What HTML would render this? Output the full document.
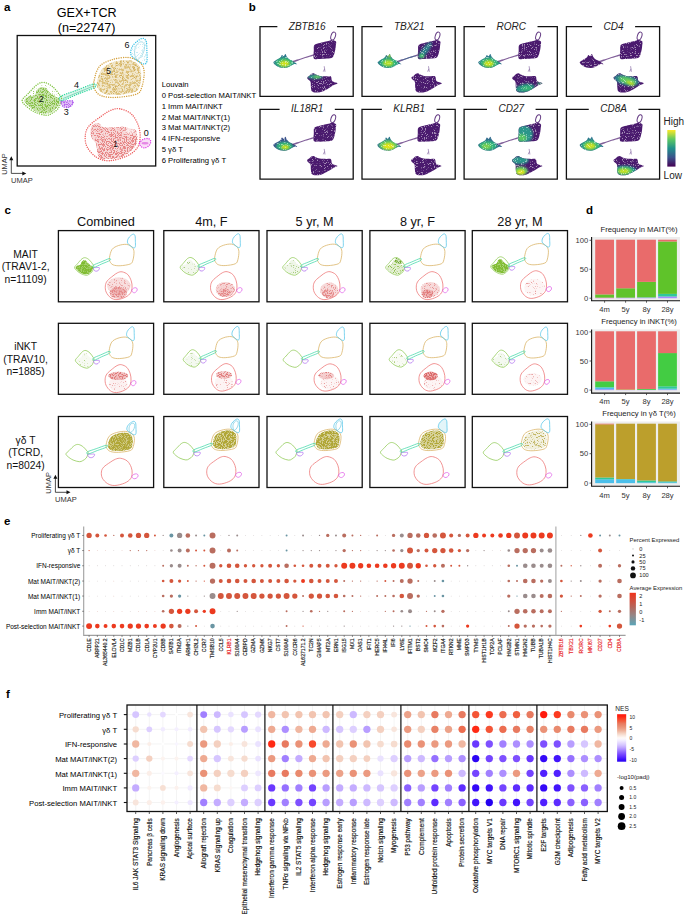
<!DOCTYPE html>
<html><head><meta charset="utf-8"><style>
html,body{margin:0;padding:0;background:#fff;width:685px;height:914px;overflow:hidden;}
svg{display:block;}
text{font-family:"Liberation Sans",sans-serif;}
</style></head><body>
<svg width="685" height="914" viewBox="0 0 685 914">
<rect width="685" height="914" fill="#fff"/>
<defs><filter id="blur1" x="-50%" y="-50%" width="200%" height="200%"><feGaussianBlur stdDeviation="1.2"/></filter><filter id="spkA" x="0" y="0" width="100%" height="100%"><feTurbulence type="fractalNoise" baseFrequency="1.1" numOctaves="2" seed="3" result="t"/><feColorMatrix in="t" type="matrix" values="0 0 0 0 0  0 0 0 0 0  0 0 0 0 0  0 0 0 -7 2.7" result="m"/><feComposite in="SourceGraphic" in2="m" operator="in"/><feGaussianBlur stdDeviation="0.35"/></filter><filter id="spkB" x="0" y="0" width="100%" height="100%"><feTurbulence type="fractalNoise" baseFrequency="1.1" numOctaves="2" seed="5" result="t"/><feColorMatrix in="t" type="matrix" values="0 0 0 0 0  0 0 0 0 0  0 0 0 0 0  0 0 0 -7 3.2" result="m"/><feComposite in="SourceGraphic" in2="m" operator="in"/><feGaussianBlur stdDeviation="0.35"/></filter><filter id="spkC" x="0" y="0" width="100%" height="100%"><feTurbulence type="fractalNoise" baseFrequency="1.1" numOctaves="2" seed="7" result="t"/><feColorMatrix in="t" type="matrix" values="0 0 0 0 0  0 0 0 0 0  0 0 0 0 0  0 0 0 -7 3.7" result="m"/><feComposite in="SourceGraphic" in2="m" operator="in"/><feGaussianBlur stdDeviation="0.35"/></filter><filter id="spkD" x="0" y="0" width="100%" height="100%"><feTurbulence type="fractalNoise" baseFrequency="1.1" numOctaves="2" seed="9" result="t"/><feColorMatrix in="t" type="matrix" values="0 0 0 0 0  0 0 0 0 0  0 0 0 0 0  0 0 0 -7 4.3" result="m"/><feComposite in="SourceGraphic" in2="m" operator="in"/><feGaussianBlur stdDeviation="0.35"/></filter><filter id="spkE" x="0" y="0" width="100%" height="100%"><feTurbulence type="fractalNoise" baseFrequency="1.1" numOctaves="2" seed="11" result="t"/><feColorMatrix in="t" type="matrix" values="0 0 0 0 0  0 0 0 0 0  0 0 0 0 0  0 0 0 -7 5.0" result="m"/><feComposite in="SourceGraphic" in2="m" operator="in"/><feGaussianBlur stdDeviation="0.35"/></filter><filter id="blot" x="0" y="0" width="100%" height="100%"><feTurbulence type="fractalNoise" baseFrequency="0.45" numOctaves="3" seed="13" result="t"/><feColorMatrix in="t" type="matrix" values="0 0 0 0 0  0 0 0 0 0  0 0 0 0 0  0 0 0 -6 3.3" result="m"/><feComposite in="SourceGraphic" in2="m" operator="in"/><feGaussianBlur stdDeviation="0.4"/></filter><filter id="wspk" x="0" y="0" width="100%" height="100%"><feTurbulence type="fractalNoise" baseFrequency="0.9" numOctaves="2" seed="21" result="t"/><feColorMatrix in="t" type="matrix" values="0 0 0 0 1  0 0 0 0 1  0 0 0 0 1  0 0 0 8 -4.6" result="m"/><feComposite in="m" in2="SourceAlpha" operator="in"/><feGaussianBlur stdDeviation="0.3"/></filter></defs>
<text x="4" y="11" font-size="11.5" font-weight="bold" fill="#000">a</text>
<text x="86.7" y="17.2" font-size="12.6" text-anchor="middle">GEX+TCR</text>
<text x="86.7" y="31.8" font-size="12.6" text-anchor="middle">(n=22747)</text>
<g>
<path d="M97,82C97.67,78.75 99.25,72.33 102,69C104.75,65.67 109.08,63.5 113.5,62C117.92,60.5 124.42,59.58 128.5,60C132.58,60.42 135.92,62.5 138,64.5C140.08,66.5 140.67,68.5 141,72C141.33,75.5 141.08,82.17 140,85.5C138.92,88.83 138.5,90.42 134.5,92C130.5,93.58 121.17,94.75 116,95C110.83,95.25 106.5,94.58 103.5,93.5C100.5,92.42 99.08,90.42 98,88.5C96.92,86.58 96.33,85.25 97,82Z" fill="#f0e4c4" opacity="0.85"/>
<path d="M97,82C97.67,78.75 99.25,72.33 102,69C104.75,65.67 109.08,63.5 113.5,62C117.92,60.5 124.42,59.58 128.5,60C132.58,60.42 135.92,62.5 138,64.5C140.08,66.5 140.67,68.5 141,72C141.33,75.5 141.08,82.17 140,85.5C138.92,88.83 138.5,90.42 134.5,92C130.5,93.58 121.17,94.75 116,95C110.83,95.25 106.5,94.58 103.5,93.5C100.5,92.42 99.08,90.42 98,88.5C96.92,86.58 96.33,85.25 97,82Z" fill="#dcc07a" filter="url(#blot)"/>
<path d="M97,82C97.67,78.75 99.25,72.33 102,69C104.75,65.67 109.08,63.5 113.5,62C117.92,60.5 124.42,59.58 128.5,60C132.58,60.42 135.92,62.5 138,64.5C140.08,66.5 140.67,68.5 141,72C141.33,75.5 141.08,82.17 140,85.5C138.92,88.83 138.5,90.42 134.5,92C130.5,93.58 121.17,94.75 116,95C110.83,95.25 106.5,94.58 103.5,93.5C100.5,92.42 99.08,90.42 98,88.5C96.92,86.58 96.33,85.25 97,82Z" fill="#cfac58" filter="url(#spkA)"/>
<path d="M28,95 C33,89 38,85.5 44.5,85 C50,86 55,91 58.5,97 L50,96 L30,97Z" fill="#9cc860" filter="url(#spkA)"/>
<path d="M24.2,100.2C24.65,98.88 27.75,97.17 29.5,96.3C31.25,95.43 33.4,96.1 34.7,95C36,93.9 36.2,91.02 37.3,89.7C38.4,88.38 39.77,87.32 41.3,87.1C42.83,86.88 45.18,87.53 46.5,88.4C47.82,89.27 47.88,90.98 49.2,92.3C50.52,93.62 52.65,95.2 54.4,96.3C56.15,97.4 59.03,97.37 59.7,98.9C60.37,100.43 59.72,103.32 58.4,105.5C57.08,107.68 54.22,110.68 51.8,112C49.38,113.32 46.75,113.62 43.9,113.4C41.05,113.18 37.55,112.23 34.7,110.7C31.85,109.17 28.55,105.95 26.8,104.2C25.05,102.45 23.75,101.52 24.2,100.2Z" fill="#b8da94" opacity="0.75"/>
<path d="M24.2,100.2C24.65,98.88 27.75,97.17 29.5,96.3C31.25,95.43 33.4,96.1 34.7,95C36,93.9 36.2,91.02 37.3,89.7C38.4,88.38 39.77,87.32 41.3,87.1C42.83,86.88 45.18,87.53 46.5,88.4C47.82,89.27 47.88,90.98 49.2,92.3C50.52,93.62 52.65,95.2 54.4,96.3C56.15,97.4 59.03,97.37 59.7,98.9C60.37,100.43 59.72,103.32 58.4,105.5C57.08,107.68 54.22,110.68 51.8,112C49.38,113.32 46.75,113.62 43.9,113.4C41.05,113.18 37.55,112.23 34.7,110.7C31.85,109.17 28.55,105.95 26.8,104.2C25.05,102.45 23.75,101.52 24.2,100.2Z" fill="#86c044" filter="url(#spkC)"/>
<path d="M92.8,125.1C94.17,123.93 96.93,123.1 98.7,123.4C100.47,123.7 100.68,126.23 103.4,126.9C106.12,127.57 111.5,127.4 115,127.4C118.5,127.4 121.87,126.7 124.4,126.9C126.93,127.1 128.27,128.02 130.2,128.6C132.13,129.18 134.83,128.75 136,130.4C137.17,132.05 137.2,136.17 137.2,138.5C137.2,140.83 137.17,142.25 136,144.4C134.83,146.55 132.72,149.27 130.2,151.4C127.68,153.53 124.4,155.93 120.9,157.2C117.4,158.47 112.7,158.8 109.2,159C105.7,159.2 101.85,159.47 99.9,158.4C97.95,157.33 98.08,154.93 97.5,152.6C96.92,150.27 97.37,146.93 96.4,144.4C95.43,141.87 92.68,139.73 91.7,137.4C90.72,135.07 90.32,132.45 90.5,130.4C90.68,128.35 91.43,126.27 92.8,125.1Z" fill="#f2c0c0" opacity="0.6"/>
<path d="M92.8,125.1C94.17,123.93 96.93,123.1 98.7,123.4C100.47,123.7 100.68,126.23 103.4,126.9C106.12,127.57 111.5,127.4 115,127.4C118.5,127.4 121.87,126.7 124.4,126.9C126.93,127.1 128.27,128.02 130.2,128.6C132.13,129.18 134.83,128.75 136,130.4C137.17,132.05 137.2,136.17 137.2,138.5C137.2,140.83 137.17,142.25 136,144.4C134.83,146.55 132.72,149.27 130.2,151.4C127.68,153.53 124.4,155.93 120.9,157.2C117.4,158.47 112.7,158.8 109.2,159C105.7,159.2 101.85,159.47 99.9,158.4C97.95,157.33 98.08,154.93 97.5,152.6C96.92,150.27 97.37,146.93 96.4,144.4C95.43,141.87 92.68,139.73 91.7,137.4C90.72,135.07 90.32,132.45 90.5,130.4C90.68,128.35 91.43,126.27 92.8,125.1Z" fill="#e88888" filter="url(#spkC)"/>
<ellipse cx="130" cy="131" rx="5" ry="3" fill="#fff" opacity="0.6" filter="url(#blur1)"/>
<path d="M96.4,138C97.5,136.68 100.73,136.83 103,136.5C105.27,136.17 106.33,136.25 110,136C113.67,135.75 120.5,135 125,135C129.5,135 135.17,134.43 137,136C138.83,137.57 137.13,141.83 136,144.4C134.87,146.97 132.72,149.27 130.2,151.4C127.68,153.53 124.4,155.93 120.9,157.2C117.4,158.47 112.7,158.8 109.2,159C105.7,159.2 101.85,159.47 99.9,158.4C97.95,157.33 98.08,154.93 97.5,152.6C96.92,150.27 96.58,146.83 96.4,144.4C96.22,141.97 95.3,139.32 96.4,138Z" fill="#e68484" filter="url(#spkC)"/>
<path d="M137,60 C133,55 134,46 139,42.5 C142.5,40.5 145,43 144.5,48 C144,53 141,58 137,60Z" fill="none" stroke="#9fd8e4" stroke-width="0.9"/>
<path d="M131,54.7C130.08,52.42 131,49.28 132.1,47C133.2,44.72 135.78,42.45 137.6,41C139.42,39.55 141.55,38.2 143,38.3C144.45,38.4 145.65,39.42 146.3,41.6C146.95,43.78 146.8,48.12 146.9,51.4C147,54.68 147.37,59.2 146.9,61.3C146.43,63.4 145.65,64.1 144.1,64C142.55,63.9 139.78,62.25 137.6,60.7C135.42,59.15 131.92,56.98 131,54.7Z" fill="#c8ecf4" filter="url(#spkB)"/>
<path d="M61,101.5C61.5,100.57 64.03,100.98 66,100.9C67.97,100.82 71.8,100.32 72.8,101C73.8,101.68 72.8,103.92 72,105C71.2,106.08 69.5,107.25 68,107.5C66.5,107.75 64.17,107.5 63,106.5C61.83,105.5 60.5,102.43 61,101.5Z" fill="#d8b0f4" opacity="0.8"/>
<path d="M61,101.5C61.5,100.57 64.03,100.98 66,100.9C67.97,100.82 71.8,100.32 72.8,101C73.8,101.68 72.8,103.92 72,105C71.2,106.08 69.5,107.25 68,107.5C66.5,107.75 64.17,107.5 63,106.5C61.83,105.5 60.5,102.43 61,101.5Z" fill="#b868ee" filter="url(#spkC)"/>
<path d="M139.6,143C139.93,141.83 141.6,140.25 143,139.5C144.4,138.75 146.72,138.25 148,138.5C149.28,138.75 150.45,139.92 150.7,141C150.95,142.08 150.45,143.85 149.5,145C148.55,146.15 146.42,147.65 145,147.9C143.58,148.15 141.9,147.32 141,146.5C140.1,145.68 139.27,144.17 139.6,143Z" fill="#f4c0f0" opacity="0.5"/>
<ellipse cx="145" cy="143.2" rx="3.5" ry="1.2" fill="#e070e0" opacity="0.8"/>
<path d="M60.5,96.5C62.83,94.83 70.5,92.58 76,90.5C81.5,88.42 90.42,84.5 93.5,84C96.58,83.5 97.08,85.83 94.5,87.5C91.92,89.17 83.42,91.83 78,94C72.58,96.17 64.92,100.08 62,100.5C59.08,100.92 58.17,98.17 60.5,96.5Z" fill="#bfeedd" opacity="0.6"/>
<path d="M63,98.5 L93.5,86" stroke="#50c8a0" stroke-width="0.8" opacity="0.8"/>
</g>
<path d="M22.2,100.2C22.63,98.23 25.58,96.32 28.1,93.7C30.62,91.08 34.55,86.37 37.3,84.5C40.05,82.63 41.97,82.07 44.6,82.5C47.23,82.93 50.58,85.02 53.1,87.1C55.62,89.18 58.28,93.13 59.7,95C61.12,96.87 61.82,96.12 61.6,98.3C61.38,100.48 60.03,105.58 58.4,108.1C56.77,110.62 53.88,112.2 51.8,113.4C49.72,114.6 48.75,115.53 45.9,115.3C43.05,115.07 38.1,113.63 34.7,112C31.3,110.37 27.58,107.47 25.5,105.5C23.42,103.53 21.77,102.17 22.2,100.2Z" fill="none" stroke="#80c444" stroke-width="1.4" stroke-dasharray="0.05 2.2" stroke-linecap="round"/>
<path d="M93.8,82.1C94.52,78.27 96.1,70.55 99.2,66.8C102.3,63.05 107.47,61.15 112.4,59.6C117.33,58.05 124.23,57.03 128.8,57.5C133.37,57.97 137.25,60.13 139.8,62.4C142.35,64.67 143.73,67.08 144.1,71.1C144.47,75.12 143.27,82.67 142,86.5C140.73,90.33 140.88,92.28 136.5,94.1C132.12,95.92 121.55,97.12 115.7,97.4C109.85,97.68 104.87,97.07 101.4,95.8C97.93,94.53 96.17,92.08 94.9,89.8C93.63,87.52 93.08,85.93 93.8,82.1Z" fill="none" stroke="#d4a03c" stroke-width="1.4" stroke-dasharray="0.05 2.2" stroke-linecap="round"/>
<path d="M131,54.7C130.08,52.42 131,49.28 132.1,47C133.2,44.72 135.78,42.45 137.6,41C139.42,39.55 141.55,38.2 143,38.3C144.45,38.4 145.65,39.42 146.3,41.6C146.95,43.78 146.8,48.12 146.9,51.4C147,54.68 147.37,59.2 146.9,61.3C146.43,63.4 145.65,64.1 144.1,64C142.55,63.9 139.78,62.25 137.6,60.7C135.42,59.15 131.92,56.98 131,54.7Z" fill="none" stroke="#40c4e8" stroke-width="1.4" stroke-dasharray="0.05 2.2" stroke-linecap="round"/>
<path d="M119.7,108.8C123.2,109.38 128.28,111.18 131.4,114C134.52,116.82 136.95,121.8 138.4,125.7C139.85,129.6 140.3,133.7 140.1,137.4C139.9,141.1 139.43,144.78 137.2,147.9C134.97,151.02 131.37,153.97 126.7,156.1C122.03,158.23 114.25,160.52 109.2,160.7C104.15,160.88 100.1,159.53 96.4,157.2C92.7,154.87 88.85,150.4 87,146.7C85.15,143 84.92,138.5 85.3,135C85.68,131.5 86.68,128.8 89.3,125.7C91.92,122.6 97.48,118.93 101,116.4C104.52,113.87 107.28,111.77 110.4,110.5C113.52,109.23 116.2,108.22 119.7,108.8Z" fill="none" stroke="#ee5c5c" stroke-width="1.4" stroke-dasharray="0.05 2.2" stroke-linecap="round"/>
<path d="M139.6,143C139.93,141.83 141.6,140.25 143,139.5C144.4,138.75 146.72,138.25 148,138.5C149.28,138.75 150.45,139.92 150.7,141C150.95,142.08 150.45,143.85 149.5,145C148.55,146.15 146.42,147.65 145,147.9C143.58,148.15 141.9,147.32 141,146.5C140.1,145.68 139.27,144.17 139.6,143Z" fill="none" stroke="#e040e8" stroke-width="1.4" stroke-dasharray="0.05 2.2" stroke-linecap="round"/>
<path d="M61,101.5C61.5,100.57 64.03,100.98 66,100.9C67.97,100.82 71.8,100.32 72.8,101C73.8,101.68 72.8,103.92 72,105C71.2,106.08 69.5,107.25 68,107.5C66.5,107.75 64.17,107.5 63,106.5C61.83,105.5 60.5,102.43 61,101.5Z" fill="none" stroke="#b061f0" stroke-width="1.4" stroke-dasharray="0.05 2.2" stroke-linecap="round"/>
<path d="M60.5,96.5C62.83,94.83 70.5,92.58 76,90.5C81.5,88.42 90.42,84.5 93.5,84C96.58,83.5 97.08,85.83 94.5,87.5C91.92,89.17 83.42,91.83 78,94C72.58,96.17 64.92,100.08 62,100.5C59.08,100.92 58.17,98.17 60.5,96.5Z" fill="none" stroke="#30d8a0" stroke-width="1.4" stroke-dasharray="0.05 2.2" stroke-linecap="round"/>
<rect x="17.2" y="35.5" width="138.5" height="130.5" fill="none" stroke="#111" stroke-width="1.3"/>
<text x="41.3" y="101.5" font-size="9" text-anchor="middle" fill="#111">2</text>
<text x="76.5" y="87.7" font-size="9" text-anchor="middle" fill="#111">4</text>
<text x="66.2" y="115.3" font-size="9" text-anchor="middle" fill="#111">3</text>
<text x="108.5" y="74.4" font-size="9" text-anchor="middle" fill="#111">5</text>
<text x="127" y="48.1" font-size="9" text-anchor="middle" fill="#111">6</text>
<text x="115.6" y="146.7" font-size="9" text-anchor="middle" fill="#111">1</text>
<text x="146.3" y="135.6" font-size="9" text-anchor="middle" fill="#111">0</text>
<text x="161.7" y="86.9" font-size="7.7">Louvain</text>
<text x="161.7" y="97.9" font-size="7.7">0 Post-selection MAIT/iNKT</text>
<text x="161.7" y="108.73" font-size="7.7">1 Imm MAIT/iNKT</text>
<text x="161.7" y="119.56" font-size="7.7">2 Mat MAIT/iNKT(1)</text>
<text x="161.7" y="130.39" font-size="7.7">3 Mat MAIT/iNKT(2)</text>
<text x="161.7" y="141.22" font-size="7.7">4 IFN-responsive</text>
<text x="161.7" y="152.05" font-size="7.7">5 γδ T</text>
<text x="161.7" y="162.88" font-size="7.7">6 Proliferating γδ T</text>
<path d="M11.3,173.4V159.2 M11.3,173.4H23.3" stroke="#222" stroke-width="0.8" fill="none"/>
<path d="M11.3,156.2 l-2,4 h4z M26.3,173.4 l-4,-2 v4z" fill="#111"/>
<text x="11" y="183.4" font-size="7.5" fill="#333">UMAP</text>
<text font-size="7.5" fill="#333" transform="translate(6.7,174.8) rotate(-90)">UMAP</text>
<text x="248.8" y="10.5" font-size="11.5" font-weight="bold" fill="#000">b</text>
<defs>
<clipPath id="c0LB"><path d="M13.3,36C13.17,35.1 14.63,34.43 15.5,33.8C16.37,33.17 17.65,32.73 18.5,32.2C19.35,31.67 20.02,31.25 20.6,30.6C21.18,29.95 21.47,28.47 22,28.3C22.53,28.13 23.23,29.75 23.8,29.6C24.37,29.45 24.9,27.3 25.4,27.4C25.9,27.5 26.2,29.33 26.8,30.2C27.4,31.07 28.17,31.98 29,32.6C29.83,33.22 30.93,33.45 31.8,33.9C32.67,34.35 33.3,34.68 34.2,35.3C35.1,35.92 37.2,37.25 37.2,37.6C37.2,37.95 35.2,37.17 34.2,37.4C33.2,37.63 32.23,38.45 31.2,39C30.17,39.55 29.12,40.3 28,40.7C26.88,41.1 25.83,41.35 24.5,41.4C23.17,41.45 21.37,41.37 20,41C18.63,40.63 17.42,40.03 16.3,39.2C15.18,38.37 13.43,36.9 13.3,36Z" transform="translate(260,26.6)"/></clipPath>
<clipPath id="c0UB"><path d="M53.8,31.8C53.1,30.42 53.7,26.23 53.8,24C53.9,21.77 53.37,19.65 54.4,18.4C55.43,17.15 58.07,17.07 60,16.5C61.93,15.93 64.32,15.42 66,15C67.68,14.58 69.02,14.25 70.1,14C71.18,13.75 71.52,13.33 72.5,13.5C73.48,13.67 75.45,14.08 76,15C76.55,15.92 75.9,17.75 75.8,19C75.7,20.25 75.62,21.25 75.4,22.5C75.18,23.75 74.78,25.43 74.5,26.5C74.22,27.57 74.2,28.07 73.7,28.9C73.2,29.73 72.95,30.95 71.5,31.5C70.05,32.05 67.25,32.07 65,32.2C62.75,32.33 59.87,32.37 58,32.3C56.13,32.23 54.5,33.18 53.8,31.8Z" transform="translate(260,26.6)"/></clipPath>
<clipPath id="c0LWB"><path d="M47.2,50.6C47.42,50.05 48.53,49.85 49.2,49.3C49.87,48.75 50.43,47.75 51.2,47.3C51.97,46.85 53.03,46.48 53.8,46.6C54.57,46.72 54.82,47.55 55.8,48C56.78,48.45 57.95,49.03 59.7,49.3C61.45,49.57 64.43,49.5 66.3,49.6C68.17,49.7 69.92,49.08 70.9,49.9C71.88,50.72 71.1,53.35 72.2,54.5C73.3,55.65 77.17,56.18 77.5,56.8C77.83,57.42 75.73,57.37 74.2,58.2C72.67,59.03 70.38,60.65 68.3,61.8C66.22,62.95 63.78,64.4 61.7,65.1C59.62,65.8 57.45,66.07 55.8,66C54.15,65.93 52.62,65.62 51.8,64.7C50.98,63.78 51.12,62.08 50.9,60.5C50.68,58.92 51,56.52 50.5,55.2C50,53.88 48.45,53.37 47.9,52.6C47.35,51.83 46.98,51.15 47.2,50.6Z" transform="translate(260,26.6)"/></clipPath>
<clipPath id="c0BAND"><path d="M32.5,34.5C34.08,33.73 39.42,32.25 43,31.1C46.58,29.95 52.12,27.97 54,27.6C55.88,27.23 55.97,28.18 54.3,28.9C52.63,29.62 47.47,30.77 44,31.9C40.53,33.03 35.42,35.27 33.5,35.7C31.58,36.13 30.92,35.27 32.5,34.5Z" transform="translate(260,26.6)"/></clipPath>
<clipPath id="c1LB"><path d="M13.3,36C13.17,35.1 14.63,34.43 15.5,33.8C16.37,33.17 17.65,32.73 18.5,32.2C19.35,31.67 20.02,31.25 20.6,30.6C21.18,29.95 21.47,28.47 22,28.3C22.53,28.13 23.23,29.75 23.8,29.6C24.37,29.45 24.9,27.3 25.4,27.4C25.9,27.5 26.2,29.33 26.8,30.2C27.4,31.07 28.17,31.98 29,32.6C29.83,33.22 30.93,33.45 31.8,33.9C32.67,34.35 33.3,34.68 34.2,35.3C35.1,35.92 37.2,37.25 37.2,37.6C37.2,37.95 35.2,37.17 34.2,37.4C33.2,37.63 32.23,38.45 31.2,39C30.17,39.55 29.12,40.3 28,40.7C26.88,41.1 25.83,41.35 24.5,41.4C23.17,41.45 21.37,41.37 20,41C18.63,40.63 17.42,40.03 16.3,39.2C15.18,38.37 13.43,36.9 13.3,36Z" transform="translate(364.3,26.6)"/></clipPath>
<clipPath id="c1UB"><path d="M53.8,31.8C53.1,30.42 53.7,26.23 53.8,24C53.9,21.77 53.37,19.65 54.4,18.4C55.43,17.15 58.07,17.07 60,16.5C61.93,15.93 64.32,15.42 66,15C67.68,14.58 69.02,14.25 70.1,14C71.18,13.75 71.52,13.33 72.5,13.5C73.48,13.67 75.45,14.08 76,15C76.55,15.92 75.9,17.75 75.8,19C75.7,20.25 75.62,21.25 75.4,22.5C75.18,23.75 74.78,25.43 74.5,26.5C74.22,27.57 74.2,28.07 73.7,28.9C73.2,29.73 72.95,30.95 71.5,31.5C70.05,32.05 67.25,32.07 65,32.2C62.75,32.33 59.87,32.37 58,32.3C56.13,32.23 54.5,33.18 53.8,31.8Z" transform="translate(364.3,26.6)"/></clipPath>
<clipPath id="c1LWB"><path d="M47.2,50.6C47.42,50.05 48.53,49.85 49.2,49.3C49.87,48.75 50.43,47.75 51.2,47.3C51.97,46.85 53.03,46.48 53.8,46.6C54.57,46.72 54.82,47.55 55.8,48C56.78,48.45 57.95,49.03 59.7,49.3C61.45,49.57 64.43,49.5 66.3,49.6C68.17,49.7 69.92,49.08 70.9,49.9C71.88,50.72 71.1,53.35 72.2,54.5C73.3,55.65 77.17,56.18 77.5,56.8C77.83,57.42 75.73,57.37 74.2,58.2C72.67,59.03 70.38,60.65 68.3,61.8C66.22,62.95 63.78,64.4 61.7,65.1C59.62,65.8 57.45,66.07 55.8,66C54.15,65.93 52.62,65.62 51.8,64.7C50.98,63.78 51.12,62.08 50.9,60.5C50.68,58.92 51,56.52 50.5,55.2C50,53.88 48.45,53.37 47.9,52.6C47.35,51.83 46.98,51.15 47.2,50.6Z" transform="translate(364.3,26.6)"/></clipPath>
<clipPath id="c1BAND"><path d="M32.5,34.5C34.08,33.73 39.42,32.25 43,31.1C46.58,29.95 52.12,27.97 54,27.6C55.88,27.23 55.97,28.18 54.3,28.9C52.63,29.62 47.47,30.77 44,31.9C40.53,33.03 35.42,35.27 33.5,35.7C31.58,36.13 30.92,35.27 32.5,34.5Z" transform="translate(364.3,26.6)"/></clipPath>
<clipPath id="c2LB"><path d="M13.3,36C13.17,35.1 14.63,34.43 15.5,33.8C16.37,33.17 17.65,32.73 18.5,32.2C19.35,31.67 20.02,31.25 20.6,30.6C21.18,29.95 21.47,28.47 22,28.3C22.53,28.13 23.23,29.75 23.8,29.6C24.37,29.45 24.9,27.3 25.4,27.4C25.9,27.5 26.2,29.33 26.8,30.2C27.4,31.07 28.17,31.98 29,32.6C29.83,33.22 30.93,33.45 31.8,33.9C32.67,34.35 33.3,34.68 34.2,35.3C35.1,35.92 37.2,37.25 37.2,37.6C37.2,37.95 35.2,37.17 34.2,37.4C33.2,37.63 32.23,38.45 31.2,39C30.17,39.55 29.12,40.3 28,40.7C26.88,41.1 25.83,41.35 24.5,41.4C23.17,41.45 21.37,41.37 20,41C18.63,40.63 17.42,40.03 16.3,39.2C15.18,38.37 13.43,36.9 13.3,36Z" transform="translate(464.9,26.6)"/></clipPath>
<clipPath id="c2UB"><path d="M53.8,31.8C53.1,30.42 53.7,26.23 53.8,24C53.9,21.77 53.37,19.65 54.4,18.4C55.43,17.15 58.07,17.07 60,16.5C61.93,15.93 64.32,15.42 66,15C67.68,14.58 69.02,14.25 70.1,14C71.18,13.75 71.52,13.33 72.5,13.5C73.48,13.67 75.45,14.08 76,15C76.55,15.92 75.9,17.75 75.8,19C75.7,20.25 75.62,21.25 75.4,22.5C75.18,23.75 74.78,25.43 74.5,26.5C74.22,27.57 74.2,28.07 73.7,28.9C73.2,29.73 72.95,30.95 71.5,31.5C70.05,32.05 67.25,32.07 65,32.2C62.75,32.33 59.87,32.37 58,32.3C56.13,32.23 54.5,33.18 53.8,31.8Z" transform="translate(464.9,26.6)"/></clipPath>
<clipPath id="c2LWB"><path d="M47.2,50.6C47.42,50.05 48.53,49.85 49.2,49.3C49.87,48.75 50.43,47.75 51.2,47.3C51.97,46.85 53.03,46.48 53.8,46.6C54.57,46.72 54.82,47.55 55.8,48C56.78,48.45 57.95,49.03 59.7,49.3C61.45,49.57 64.43,49.5 66.3,49.6C68.17,49.7 69.92,49.08 70.9,49.9C71.88,50.72 71.1,53.35 72.2,54.5C73.3,55.65 77.17,56.18 77.5,56.8C77.83,57.42 75.73,57.37 74.2,58.2C72.67,59.03 70.38,60.65 68.3,61.8C66.22,62.95 63.78,64.4 61.7,65.1C59.62,65.8 57.45,66.07 55.8,66C54.15,65.93 52.62,65.62 51.8,64.7C50.98,63.78 51.12,62.08 50.9,60.5C50.68,58.92 51,56.52 50.5,55.2C50,53.88 48.45,53.37 47.9,52.6C47.35,51.83 46.98,51.15 47.2,50.6Z" transform="translate(464.9,26.6)"/></clipPath>
<clipPath id="c2BAND"><path d="M32.5,34.5C34.08,33.73 39.42,32.25 43,31.1C46.58,29.95 52.12,27.97 54,27.6C55.88,27.23 55.97,28.18 54.3,28.9C52.63,29.62 47.47,30.77 44,31.9C40.53,33.03 35.42,35.27 33.5,35.7C31.58,36.13 30.92,35.27 32.5,34.5Z" transform="translate(464.9,26.6)"/></clipPath>
<clipPath id="c3LB"><path d="M13.3,36C13.17,35.1 14.63,34.43 15.5,33.8C16.37,33.17 17.65,32.73 18.5,32.2C19.35,31.67 20.02,31.25 20.6,30.6C21.18,29.95 21.47,28.47 22,28.3C22.53,28.13 23.23,29.75 23.8,29.6C24.37,29.45 24.9,27.3 25.4,27.4C25.9,27.5 26.2,29.33 26.8,30.2C27.4,31.07 28.17,31.98 29,32.6C29.83,33.22 30.93,33.45 31.8,33.9C32.67,34.35 33.3,34.68 34.2,35.3C35.1,35.92 37.2,37.25 37.2,37.6C37.2,37.95 35.2,37.17 34.2,37.4C33.2,37.63 32.23,38.45 31.2,39C30.17,39.55 29.12,40.3 28,40.7C26.88,41.1 25.83,41.35 24.5,41.4C23.17,41.45 21.37,41.37 20,41C18.63,40.63 17.42,40.03 16.3,39.2C15.18,38.37 13.43,36.9 13.3,36Z" transform="translate(566.4,26.6)"/></clipPath>
<clipPath id="c3UB"><path d="M53.8,31.8C53.1,30.42 53.7,26.23 53.8,24C53.9,21.77 53.37,19.65 54.4,18.4C55.43,17.15 58.07,17.07 60,16.5C61.93,15.93 64.32,15.42 66,15C67.68,14.58 69.02,14.25 70.1,14C71.18,13.75 71.52,13.33 72.5,13.5C73.48,13.67 75.45,14.08 76,15C76.55,15.92 75.9,17.75 75.8,19C75.7,20.25 75.62,21.25 75.4,22.5C75.18,23.75 74.78,25.43 74.5,26.5C74.22,27.57 74.2,28.07 73.7,28.9C73.2,29.73 72.95,30.95 71.5,31.5C70.05,32.05 67.25,32.07 65,32.2C62.75,32.33 59.87,32.37 58,32.3C56.13,32.23 54.5,33.18 53.8,31.8Z" transform="translate(566.4,26.6)"/></clipPath>
<clipPath id="c3LWB"><path d="M47.2,50.6C47.42,50.05 48.53,49.85 49.2,49.3C49.87,48.75 50.43,47.75 51.2,47.3C51.97,46.85 53.03,46.48 53.8,46.6C54.57,46.72 54.82,47.55 55.8,48C56.78,48.45 57.95,49.03 59.7,49.3C61.45,49.57 64.43,49.5 66.3,49.6C68.17,49.7 69.92,49.08 70.9,49.9C71.88,50.72 71.1,53.35 72.2,54.5C73.3,55.65 77.17,56.18 77.5,56.8C77.83,57.42 75.73,57.37 74.2,58.2C72.67,59.03 70.38,60.65 68.3,61.8C66.22,62.95 63.78,64.4 61.7,65.1C59.62,65.8 57.45,66.07 55.8,66C54.15,65.93 52.62,65.62 51.8,64.7C50.98,63.78 51.12,62.08 50.9,60.5C50.68,58.92 51,56.52 50.5,55.2C50,53.88 48.45,53.37 47.9,52.6C47.35,51.83 46.98,51.15 47.2,50.6Z" transform="translate(566.4,26.6)"/></clipPath>
<clipPath id="c3BAND"><path d="M32.5,34.5C34.08,33.73 39.42,32.25 43,31.1C46.58,29.95 52.12,27.97 54,27.6C55.88,27.23 55.97,28.18 54.3,28.9C52.63,29.62 47.47,30.77 44,31.9C40.53,33.03 35.42,35.27 33.5,35.7C31.58,36.13 30.92,35.27 32.5,34.5Z" transform="translate(566.4,26.6)"/></clipPath>
<clipPath id="c4LB"><path d="M13.3,36C13.17,35.1 14.63,34.43 15.5,33.8C16.37,33.17 17.65,32.73 18.5,32.2C19.35,31.67 20.02,31.25 20.6,30.6C21.18,29.95 21.47,28.47 22,28.3C22.53,28.13 23.23,29.75 23.8,29.6C24.37,29.45 24.9,27.3 25.4,27.4C25.9,27.5 26.2,29.33 26.8,30.2C27.4,31.07 28.17,31.98 29,32.6C29.83,33.22 30.93,33.45 31.8,33.9C32.67,34.35 33.3,34.68 34.2,35.3C35.1,35.92 37.2,37.25 37.2,37.6C37.2,37.95 35.2,37.17 34.2,37.4C33.2,37.63 32.23,38.45 31.2,39C30.17,39.55 29.12,40.3 28,40.7C26.88,41.1 25.83,41.35 24.5,41.4C23.17,41.45 21.37,41.37 20,41C18.63,40.63 17.42,40.03 16.3,39.2C15.18,38.37 13.43,36.9 13.3,36Z" transform="translate(260,109.3)"/></clipPath>
<clipPath id="c4UB"><path d="M53.8,31.8C53.1,30.42 53.7,26.23 53.8,24C53.9,21.77 53.37,19.65 54.4,18.4C55.43,17.15 58.07,17.07 60,16.5C61.93,15.93 64.32,15.42 66,15C67.68,14.58 69.02,14.25 70.1,14C71.18,13.75 71.52,13.33 72.5,13.5C73.48,13.67 75.45,14.08 76,15C76.55,15.92 75.9,17.75 75.8,19C75.7,20.25 75.62,21.25 75.4,22.5C75.18,23.75 74.78,25.43 74.5,26.5C74.22,27.57 74.2,28.07 73.7,28.9C73.2,29.73 72.95,30.95 71.5,31.5C70.05,32.05 67.25,32.07 65,32.2C62.75,32.33 59.87,32.37 58,32.3C56.13,32.23 54.5,33.18 53.8,31.8Z" transform="translate(260,109.3)"/></clipPath>
<clipPath id="c4LWB"><path d="M47.2,50.6C47.42,50.05 48.53,49.85 49.2,49.3C49.87,48.75 50.43,47.75 51.2,47.3C51.97,46.85 53.03,46.48 53.8,46.6C54.57,46.72 54.82,47.55 55.8,48C56.78,48.45 57.95,49.03 59.7,49.3C61.45,49.57 64.43,49.5 66.3,49.6C68.17,49.7 69.92,49.08 70.9,49.9C71.88,50.72 71.1,53.35 72.2,54.5C73.3,55.65 77.17,56.18 77.5,56.8C77.83,57.42 75.73,57.37 74.2,58.2C72.67,59.03 70.38,60.65 68.3,61.8C66.22,62.95 63.78,64.4 61.7,65.1C59.62,65.8 57.45,66.07 55.8,66C54.15,65.93 52.62,65.62 51.8,64.7C50.98,63.78 51.12,62.08 50.9,60.5C50.68,58.92 51,56.52 50.5,55.2C50,53.88 48.45,53.37 47.9,52.6C47.35,51.83 46.98,51.15 47.2,50.6Z" transform="translate(260,109.3)"/></clipPath>
<clipPath id="c4BAND"><path d="M32.5,34.5C34.08,33.73 39.42,32.25 43,31.1C46.58,29.95 52.12,27.97 54,27.6C55.88,27.23 55.97,28.18 54.3,28.9C52.63,29.62 47.47,30.77 44,31.9C40.53,33.03 35.42,35.27 33.5,35.7C31.58,36.13 30.92,35.27 32.5,34.5Z" transform="translate(260,109.3)"/></clipPath>
<clipPath id="c5LB"><path d="M13.3,36C13.17,35.1 14.63,34.43 15.5,33.8C16.37,33.17 17.65,32.73 18.5,32.2C19.35,31.67 20.02,31.25 20.6,30.6C21.18,29.95 21.47,28.47 22,28.3C22.53,28.13 23.23,29.75 23.8,29.6C24.37,29.45 24.9,27.3 25.4,27.4C25.9,27.5 26.2,29.33 26.8,30.2C27.4,31.07 28.17,31.98 29,32.6C29.83,33.22 30.93,33.45 31.8,33.9C32.67,34.35 33.3,34.68 34.2,35.3C35.1,35.92 37.2,37.25 37.2,37.6C37.2,37.95 35.2,37.17 34.2,37.4C33.2,37.63 32.23,38.45 31.2,39C30.17,39.55 29.12,40.3 28,40.7C26.88,41.1 25.83,41.35 24.5,41.4C23.17,41.45 21.37,41.37 20,41C18.63,40.63 17.42,40.03 16.3,39.2C15.18,38.37 13.43,36.9 13.3,36Z" transform="translate(364,109.3)"/></clipPath>
<clipPath id="c5UB"><path d="M53.8,31.8C53.1,30.42 53.7,26.23 53.8,24C53.9,21.77 53.37,19.65 54.4,18.4C55.43,17.15 58.07,17.07 60,16.5C61.93,15.93 64.32,15.42 66,15C67.68,14.58 69.02,14.25 70.1,14C71.18,13.75 71.52,13.33 72.5,13.5C73.48,13.67 75.45,14.08 76,15C76.55,15.92 75.9,17.75 75.8,19C75.7,20.25 75.62,21.25 75.4,22.5C75.18,23.75 74.78,25.43 74.5,26.5C74.22,27.57 74.2,28.07 73.7,28.9C73.2,29.73 72.95,30.95 71.5,31.5C70.05,32.05 67.25,32.07 65,32.2C62.75,32.33 59.87,32.37 58,32.3C56.13,32.23 54.5,33.18 53.8,31.8Z" transform="translate(364,109.3)"/></clipPath>
<clipPath id="c5LWB"><path d="M47.2,50.6C47.42,50.05 48.53,49.85 49.2,49.3C49.87,48.75 50.43,47.75 51.2,47.3C51.97,46.85 53.03,46.48 53.8,46.6C54.57,46.72 54.82,47.55 55.8,48C56.78,48.45 57.95,49.03 59.7,49.3C61.45,49.57 64.43,49.5 66.3,49.6C68.17,49.7 69.92,49.08 70.9,49.9C71.88,50.72 71.1,53.35 72.2,54.5C73.3,55.65 77.17,56.18 77.5,56.8C77.83,57.42 75.73,57.37 74.2,58.2C72.67,59.03 70.38,60.65 68.3,61.8C66.22,62.95 63.78,64.4 61.7,65.1C59.62,65.8 57.45,66.07 55.8,66C54.15,65.93 52.62,65.62 51.8,64.7C50.98,63.78 51.12,62.08 50.9,60.5C50.68,58.92 51,56.52 50.5,55.2C50,53.88 48.45,53.37 47.9,52.6C47.35,51.83 46.98,51.15 47.2,50.6Z" transform="translate(364,109.3)"/></clipPath>
<clipPath id="c5BAND"><path d="M32.5,34.5C34.08,33.73 39.42,32.25 43,31.1C46.58,29.95 52.12,27.97 54,27.6C55.88,27.23 55.97,28.18 54.3,28.9C52.63,29.62 47.47,30.77 44,31.9C40.53,33.03 35.42,35.27 33.5,35.7C31.58,36.13 30.92,35.27 32.5,34.5Z" transform="translate(364,109.3)"/></clipPath>
<clipPath id="c6LB"><path d="M13.3,36C13.17,35.1 14.63,34.43 15.5,33.8C16.37,33.17 17.65,32.73 18.5,32.2C19.35,31.67 20.02,31.25 20.6,30.6C21.18,29.95 21.47,28.47 22,28.3C22.53,28.13 23.23,29.75 23.8,29.6C24.37,29.45 24.9,27.3 25.4,27.4C25.9,27.5 26.2,29.33 26.8,30.2C27.4,31.07 28.17,31.98 29,32.6C29.83,33.22 30.93,33.45 31.8,33.9C32.67,34.35 33.3,34.68 34.2,35.3C35.1,35.92 37.2,37.25 37.2,37.6C37.2,37.95 35.2,37.17 34.2,37.4C33.2,37.63 32.23,38.45 31.2,39C30.17,39.55 29.12,40.3 28,40.7C26.88,41.1 25.83,41.35 24.5,41.4C23.17,41.45 21.37,41.37 20,41C18.63,40.63 17.42,40.03 16.3,39.2C15.18,38.37 13.43,36.9 13.3,36Z" transform="translate(464.9,109.3)"/></clipPath>
<clipPath id="c6UB"><path d="M53.8,31.8C53.1,30.42 53.7,26.23 53.8,24C53.9,21.77 53.37,19.65 54.4,18.4C55.43,17.15 58.07,17.07 60,16.5C61.93,15.93 64.32,15.42 66,15C67.68,14.58 69.02,14.25 70.1,14C71.18,13.75 71.52,13.33 72.5,13.5C73.48,13.67 75.45,14.08 76,15C76.55,15.92 75.9,17.75 75.8,19C75.7,20.25 75.62,21.25 75.4,22.5C75.18,23.75 74.78,25.43 74.5,26.5C74.22,27.57 74.2,28.07 73.7,28.9C73.2,29.73 72.95,30.95 71.5,31.5C70.05,32.05 67.25,32.07 65,32.2C62.75,32.33 59.87,32.37 58,32.3C56.13,32.23 54.5,33.18 53.8,31.8Z" transform="translate(464.9,109.3)"/></clipPath>
<clipPath id="c6LWB"><path d="M47.2,50.6C47.42,50.05 48.53,49.85 49.2,49.3C49.87,48.75 50.43,47.75 51.2,47.3C51.97,46.85 53.03,46.48 53.8,46.6C54.57,46.72 54.82,47.55 55.8,48C56.78,48.45 57.95,49.03 59.7,49.3C61.45,49.57 64.43,49.5 66.3,49.6C68.17,49.7 69.92,49.08 70.9,49.9C71.88,50.72 71.1,53.35 72.2,54.5C73.3,55.65 77.17,56.18 77.5,56.8C77.83,57.42 75.73,57.37 74.2,58.2C72.67,59.03 70.38,60.65 68.3,61.8C66.22,62.95 63.78,64.4 61.7,65.1C59.62,65.8 57.45,66.07 55.8,66C54.15,65.93 52.62,65.62 51.8,64.7C50.98,63.78 51.12,62.08 50.9,60.5C50.68,58.92 51,56.52 50.5,55.2C50,53.88 48.45,53.37 47.9,52.6C47.35,51.83 46.98,51.15 47.2,50.6Z" transform="translate(464.9,109.3)"/></clipPath>
<clipPath id="c6BAND"><path d="M32.5,34.5C34.08,33.73 39.42,32.25 43,31.1C46.58,29.95 52.12,27.97 54,27.6C55.88,27.23 55.97,28.18 54.3,28.9C52.63,29.62 47.47,30.77 44,31.9C40.53,33.03 35.42,35.27 33.5,35.7C31.58,36.13 30.92,35.27 32.5,34.5Z" transform="translate(464.9,109.3)"/></clipPath>
<clipPath id="c7LB"><path d="M13.3,36C13.17,35.1 14.63,34.43 15.5,33.8C16.37,33.17 17.65,32.73 18.5,32.2C19.35,31.67 20.02,31.25 20.6,30.6C21.18,29.95 21.47,28.47 22,28.3C22.53,28.13 23.23,29.75 23.8,29.6C24.37,29.45 24.9,27.3 25.4,27.4C25.9,27.5 26.2,29.33 26.8,30.2C27.4,31.07 28.17,31.98 29,32.6C29.83,33.22 30.93,33.45 31.8,33.9C32.67,34.35 33.3,34.68 34.2,35.3C35.1,35.92 37.2,37.25 37.2,37.6C37.2,37.95 35.2,37.17 34.2,37.4C33.2,37.63 32.23,38.45 31.2,39C30.17,39.55 29.12,40.3 28,40.7C26.88,41.1 25.83,41.35 24.5,41.4C23.17,41.45 21.37,41.37 20,41C18.63,40.63 17.42,40.03 16.3,39.2C15.18,38.37 13.43,36.9 13.3,36Z" transform="translate(566.4,109.3)"/></clipPath>
<clipPath id="c7UB"><path d="M53.8,31.8C53.1,30.42 53.7,26.23 53.8,24C53.9,21.77 53.37,19.65 54.4,18.4C55.43,17.15 58.07,17.07 60,16.5C61.93,15.93 64.32,15.42 66,15C67.68,14.58 69.02,14.25 70.1,14C71.18,13.75 71.52,13.33 72.5,13.5C73.48,13.67 75.45,14.08 76,15C76.55,15.92 75.9,17.75 75.8,19C75.7,20.25 75.62,21.25 75.4,22.5C75.18,23.75 74.78,25.43 74.5,26.5C74.22,27.57 74.2,28.07 73.7,28.9C73.2,29.73 72.95,30.95 71.5,31.5C70.05,32.05 67.25,32.07 65,32.2C62.75,32.33 59.87,32.37 58,32.3C56.13,32.23 54.5,33.18 53.8,31.8Z" transform="translate(566.4,109.3)"/></clipPath>
<clipPath id="c7LWB"><path d="M47.2,50.6C47.42,50.05 48.53,49.85 49.2,49.3C49.87,48.75 50.43,47.75 51.2,47.3C51.97,46.85 53.03,46.48 53.8,46.6C54.57,46.72 54.82,47.55 55.8,48C56.78,48.45 57.95,49.03 59.7,49.3C61.45,49.57 64.43,49.5 66.3,49.6C68.17,49.7 69.92,49.08 70.9,49.9C71.88,50.72 71.1,53.35 72.2,54.5C73.3,55.65 77.17,56.18 77.5,56.8C77.83,57.42 75.73,57.37 74.2,58.2C72.67,59.03 70.38,60.65 68.3,61.8C66.22,62.95 63.78,64.4 61.7,65.1C59.62,65.8 57.45,66.07 55.8,66C54.15,65.93 52.62,65.62 51.8,64.7C50.98,63.78 51.12,62.08 50.9,60.5C50.68,58.92 51,56.52 50.5,55.2C50,53.88 48.45,53.37 47.9,52.6C47.35,51.83 46.98,51.15 47.2,50.6Z" transform="translate(566.4,109.3)"/></clipPath>
<clipPath id="c7BAND"><path d="M32.5,34.5C34.08,33.73 39.42,32.25 43,31.1C46.58,29.95 52.12,27.97 54,27.6C55.88,27.23 55.97,28.18 54.3,28.9C52.63,29.62 47.47,30.77 44,31.9C40.53,33.03 35.42,35.27 33.5,35.7C31.58,36.13 30.92,35.27 32.5,34.5Z" transform="translate(566.4,109.3)"/></clipPath>
</defs>
<g transform="translate(260,26.6)">
<path d="M13.3,36C13.17,35.1 14.63,34.43 15.5,33.8C16.37,33.17 17.65,32.73 18.5,32.2C19.35,31.67 20.02,31.25 20.6,30.6C21.18,29.95 21.47,28.47 22,28.3C22.53,28.13 23.23,29.75 23.8,29.6C24.37,29.45 24.9,27.3 25.4,27.4C25.9,27.5 26.2,29.33 26.8,30.2C27.4,31.07 28.17,31.98 29,32.6C29.83,33.22 30.93,33.45 31.8,33.9C32.67,34.35 33.3,34.68 34.2,35.3C35.1,35.92 37.2,37.25 37.2,37.6C37.2,37.95 35.2,37.17 34.2,37.4C33.2,37.63 32.23,38.45 31.2,39C30.17,39.55 29.12,40.3 28,40.7C26.88,41.1 25.83,41.35 24.5,41.4C23.17,41.45 21.37,41.37 20,41C18.63,40.63 17.42,40.03 16.3,39.2C15.18,38.37 13.43,36.9 13.3,36Z" fill="#2c728e"/>
<path d="M53.8,31.8C53.1,30.42 53.7,26.23 53.8,24C53.9,21.77 53.37,19.65 54.4,18.4C55.43,17.15 58.07,17.07 60,16.5C61.93,15.93 64.32,15.42 66,15C67.68,14.58 69.02,14.25 70.1,14C71.18,13.75 71.52,13.33 72.5,13.5C73.48,13.67 75.45,14.08 76,15C76.55,15.92 75.9,17.75 75.8,19C75.7,20.25 75.62,21.25 75.4,22.5C75.18,23.75 74.78,25.43 74.5,26.5C74.22,27.57 74.2,28.07 73.7,28.9C73.2,29.73 72.95,30.95 71.5,31.5C70.05,32.05 67.25,32.07 65,32.2C62.75,32.33 59.87,32.37 58,32.3C56.13,32.23 54.5,33.18 53.8,31.8Z" fill="#4a1a6e"/>
<path d="M47.2,50.6C47.42,50.05 48.53,49.85 49.2,49.3C49.87,48.75 50.43,47.75 51.2,47.3C51.97,46.85 53.03,46.48 53.8,46.6C54.57,46.72 54.82,47.55 55.8,48C56.78,48.45 57.95,49.03 59.7,49.3C61.45,49.57 64.43,49.5 66.3,49.6C68.17,49.7 69.92,49.08 70.9,49.9C71.88,50.72 71.1,53.35 72.2,54.5C73.3,55.65 77.17,56.18 77.5,56.8C77.83,57.42 75.73,57.37 74.2,58.2C72.67,59.03 70.38,60.65 68.3,61.8C66.22,62.95 63.78,64.4 61.7,65.1C59.62,65.8 57.45,66.07 55.8,66C54.15,65.93 52.62,65.62 51.8,64.7C50.98,63.78 51.12,62.08 50.9,60.5C50.68,58.92 51,56.52 50.5,55.2C50,53.88 48.45,53.37 47.9,52.6C47.35,51.83 46.98,51.15 47.2,50.6Z" fill="#4a1a6e"/>
<path d="M32.5,34.5C34.08,33.73 39.42,32.25 43,31.1C46.58,29.95 52.12,27.97 54,27.6C55.88,27.23 55.97,28.18 54.3,28.9C52.63,29.62 47.47,30.77 44,31.9C40.53,33.03 35.42,35.27 33.5,35.7C31.58,36.13 30.92,35.27 32.5,34.5Z" fill="#4a1a6e" opacity="0.7"/>
<ellipse cx="73.2" cy="9.4" rx="2.2" ry="4.1" transform="rotate(18 73.2 9.4)" fill="none" stroke="#4a1a6e" stroke-width="1.0" opacity="0.85"/>
<path d="M64.2,39.6 L65,45.2 M64.6,42.3 L63.3,45" stroke="#7a5a9a" stroke-width="0.6" fill="none"/>
</g>
<g clip-path="url(#c0LB)"><ellipse cx="284.5" cy="62.6" rx="9.5" ry="5.2" fill="#35b779" opacity="1" filter="url(#blur1)"/></g>
<g clip-path="url(#c0LB)"><ellipse cx="284.5" cy="63.6" rx="5" ry="3" fill="#d2e21b" opacity="1" filter="url(#blur1)"/></g>
<g clip-path="url(#c0LWB)"><ellipse cx="315" cy="76.6" rx="8" ry="2.2" fill="#2fa88a" opacity="0.95" filter="url(#blur1)"/></g>
<g clip-path="url(#c0LWB)"><ellipse cx="317" cy="76.9" rx="3.5" ry="1.2" fill="#6ece58" opacity="1" filter="url(#blur1)"/></g>
<g filter="url(#wspk)" opacity="0.5"><g transform="translate(260,26.6)"><path d="M13.3,36C13.17,35.1 14.63,34.43 15.5,33.8C16.37,33.17 17.65,32.73 18.5,32.2C19.35,31.67 20.02,31.25 20.6,30.6C21.18,29.95 21.47,28.47 22,28.3C22.53,28.13 23.23,29.75 23.8,29.6C24.37,29.45 24.9,27.3 25.4,27.4C25.9,27.5 26.2,29.33 26.8,30.2C27.4,31.07 28.17,31.98 29,32.6C29.83,33.22 30.93,33.45 31.8,33.9C32.67,34.35 33.3,34.68 34.2,35.3C35.1,35.92 37.2,37.25 37.2,37.6C37.2,37.95 35.2,37.17 34.2,37.4C33.2,37.63 32.23,38.45 31.2,39C30.17,39.55 29.12,40.3 28,40.7C26.88,41.1 25.83,41.35 24.5,41.4C23.17,41.45 21.37,41.37 20,41C18.63,40.63 17.42,40.03 16.3,39.2C15.18,38.37 13.43,36.9 13.3,36Z" fill="#fff"/><path d="M53.8,31.8C53.1,30.42 53.7,26.23 53.8,24C53.9,21.77 53.37,19.65 54.4,18.4C55.43,17.15 58.07,17.07 60,16.5C61.93,15.93 64.32,15.42 66,15C67.68,14.58 69.02,14.25 70.1,14C71.18,13.75 71.52,13.33 72.5,13.5C73.48,13.67 75.45,14.08 76,15C76.55,15.92 75.9,17.75 75.8,19C75.7,20.25 75.62,21.25 75.4,22.5C75.18,23.75 74.78,25.43 74.5,26.5C74.22,27.57 74.2,28.07 73.7,28.9C73.2,29.73 72.95,30.95 71.5,31.5C70.05,32.05 67.25,32.07 65,32.2C62.75,32.33 59.87,32.37 58,32.3C56.13,32.23 54.5,33.18 53.8,31.8Z" fill="#fff"/><path d="M47.2,50.6C47.42,50.05 48.53,49.85 49.2,49.3C49.87,48.75 50.43,47.75 51.2,47.3C51.97,46.85 53.03,46.48 53.8,46.6C54.57,46.72 54.82,47.55 55.8,48C56.78,48.45 57.95,49.03 59.7,49.3C61.45,49.57 64.43,49.5 66.3,49.6C68.17,49.7 69.92,49.08 70.9,49.9C71.88,50.72 71.1,53.35 72.2,54.5C73.3,55.65 77.17,56.18 77.5,56.8C77.83,57.42 75.73,57.37 74.2,58.2C72.67,59.03 70.38,60.65 68.3,61.8C66.22,62.95 63.78,64.4 61.7,65.1C59.62,65.8 57.45,66.07 55.8,66C54.15,65.93 52.62,65.62 51.8,64.7C50.98,63.78 51.12,62.08 50.9,60.5C50.68,58.92 51,56.52 50.5,55.2C50,53.88 48.45,53.37 47.9,52.6C47.35,51.83 46.98,51.15 47.2,50.6Z" fill="#fff"/></g></g>
<path d="M277.36,26.6 H260 V96.4 H353.2 V26.6 H337.04" fill="none" stroke="#111" stroke-width="1.3"/>
<text x="307.2" y="29.5" font-size="10" text-anchor="middle" font-style="italic" fill="#222">ZBTB16</text>
<g transform="translate(364.3,26.6)">
<path d="M13.3,36C13.17,35.1 14.63,34.43 15.5,33.8C16.37,33.17 17.65,32.73 18.5,32.2C19.35,31.67 20.02,31.25 20.6,30.6C21.18,29.95 21.47,28.47 22,28.3C22.53,28.13 23.23,29.75 23.8,29.6C24.37,29.45 24.9,27.3 25.4,27.4C25.9,27.5 26.2,29.33 26.8,30.2C27.4,31.07 28.17,31.98 29,32.6C29.83,33.22 30.93,33.45 31.8,33.9C32.67,34.35 33.3,34.68 34.2,35.3C35.1,35.92 37.2,37.25 37.2,37.6C37.2,37.95 35.2,37.17 34.2,37.4C33.2,37.63 32.23,38.45 31.2,39C30.17,39.55 29.12,40.3 28,40.7C26.88,41.1 25.83,41.35 24.5,41.4C23.17,41.45 21.37,41.37 20,41C18.63,40.63 17.42,40.03 16.3,39.2C15.18,38.37 13.43,36.9 13.3,36Z" fill="#2c728e"/>
<path d="M53.8,31.8C53.1,30.42 53.7,26.23 53.8,24C53.9,21.77 53.37,19.65 54.4,18.4C55.43,17.15 58.07,17.07 60,16.5C61.93,15.93 64.32,15.42 66,15C67.68,14.58 69.02,14.25 70.1,14C71.18,13.75 71.52,13.33 72.5,13.5C73.48,13.67 75.45,14.08 76,15C76.55,15.92 75.9,17.75 75.8,19C75.7,20.25 75.62,21.25 75.4,22.5C75.18,23.75 74.78,25.43 74.5,26.5C74.22,27.57 74.2,28.07 73.7,28.9C73.2,29.73 72.95,30.95 71.5,31.5C70.05,32.05 67.25,32.07 65,32.2C62.75,32.33 59.87,32.37 58,32.3C56.13,32.23 54.5,33.18 53.8,31.8Z" fill="#4a1a6e"/>
<path d="M47.2,50.6C47.42,50.05 48.53,49.85 49.2,49.3C49.87,48.75 50.43,47.75 51.2,47.3C51.97,46.85 53.03,46.48 53.8,46.6C54.57,46.72 54.82,47.55 55.8,48C56.78,48.45 57.95,49.03 59.7,49.3C61.45,49.57 64.43,49.5 66.3,49.6C68.17,49.7 69.92,49.08 70.9,49.9C71.88,50.72 71.1,53.35 72.2,54.5C73.3,55.65 77.17,56.18 77.5,56.8C77.83,57.42 75.73,57.37 74.2,58.2C72.67,59.03 70.38,60.65 68.3,61.8C66.22,62.95 63.78,64.4 61.7,65.1C59.62,65.8 57.45,66.07 55.8,66C54.15,65.93 52.62,65.62 51.8,64.7C50.98,63.78 51.12,62.08 50.9,60.5C50.68,58.92 51,56.52 50.5,55.2C50,53.88 48.45,53.37 47.9,52.6C47.35,51.83 46.98,51.15 47.2,50.6Z" fill="#4a1a6e"/>
<path d="M32.5,34.5C34.08,33.73 39.42,32.25 43,31.1C46.58,29.95 52.12,27.97 54,27.6C55.88,27.23 55.97,28.18 54.3,28.9C52.63,29.62 47.47,30.77 44,31.9C40.53,33.03 35.42,35.27 33.5,35.7C31.58,36.13 30.92,35.27 32.5,34.5Z" fill="#4a1a6e" opacity="0.7"/>
<ellipse cx="73.2" cy="9.4" rx="2.2" ry="4.1" transform="rotate(18 73.2 9.4)" fill="none" stroke="#4a1a6e" stroke-width="1.0" opacity="0.85"/>
<path d="M64.2,39.6 L65,45.2 M64.6,42.3 L63.3,45" stroke="#7a5a9a" stroke-width="0.6" fill="none"/>
</g>
<g clip-path="url(#c1LB)"><ellipse cx="388.8" cy="62.6" rx="9.5" ry="5.2" fill="#2fb47c" opacity="1" filter="url(#blur1)"/></g>
<g clip-path="url(#c1LB)"><ellipse cx="388.1" cy="63.1" rx="5" ry="3" fill="#b5de2b" opacity="1" filter="url(#blur1)"/></g>
<g clip-path="url(#c1LB)"><ellipse cx="389.5" cy="55.6" rx="2.2" ry="2" fill="#9bd93c" opacity="1" filter="url(#blur1)"/></g>
<g clip-path="url(#c1UB)"><ellipse cx="425.3" cy="50.1" rx="10" ry="3.2" fill="#2a8a8c" opacity="0.9" filter="url(#blur1)" transform="rotate(-52 425.3 50.1)"/></g>
<g clip-path="url(#c1UB)"><ellipse cx="421.8" cy="56.1" rx="2.8" ry="2" fill="#4ac16d" opacity="1" filter="url(#blur1)"/></g>
<g clip-path="url(#c1BAND)"><ellipse cx="408.3" cy="58.1" rx="10" ry="3" fill="#31688e" opacity="0.7" filter="url(#blur1)"/></g>
<g filter="url(#wspk)" opacity="0.5"><g transform="translate(364.3,26.6)"><path d="M13.3,36C13.17,35.1 14.63,34.43 15.5,33.8C16.37,33.17 17.65,32.73 18.5,32.2C19.35,31.67 20.02,31.25 20.6,30.6C21.18,29.95 21.47,28.47 22,28.3C22.53,28.13 23.23,29.75 23.8,29.6C24.37,29.45 24.9,27.3 25.4,27.4C25.9,27.5 26.2,29.33 26.8,30.2C27.4,31.07 28.17,31.98 29,32.6C29.83,33.22 30.93,33.45 31.8,33.9C32.67,34.35 33.3,34.68 34.2,35.3C35.1,35.92 37.2,37.25 37.2,37.6C37.2,37.95 35.2,37.17 34.2,37.4C33.2,37.63 32.23,38.45 31.2,39C30.17,39.55 29.12,40.3 28,40.7C26.88,41.1 25.83,41.35 24.5,41.4C23.17,41.45 21.37,41.37 20,41C18.63,40.63 17.42,40.03 16.3,39.2C15.18,38.37 13.43,36.9 13.3,36Z" fill="#fff"/><path d="M53.8,31.8C53.1,30.42 53.7,26.23 53.8,24C53.9,21.77 53.37,19.65 54.4,18.4C55.43,17.15 58.07,17.07 60,16.5C61.93,15.93 64.32,15.42 66,15C67.68,14.58 69.02,14.25 70.1,14C71.18,13.75 71.52,13.33 72.5,13.5C73.48,13.67 75.45,14.08 76,15C76.55,15.92 75.9,17.75 75.8,19C75.7,20.25 75.62,21.25 75.4,22.5C75.18,23.75 74.78,25.43 74.5,26.5C74.22,27.57 74.2,28.07 73.7,28.9C73.2,29.73 72.95,30.95 71.5,31.5C70.05,32.05 67.25,32.07 65,32.2C62.75,32.33 59.87,32.37 58,32.3C56.13,32.23 54.5,33.18 53.8,31.8Z" fill="#fff"/><path d="M47.2,50.6C47.42,50.05 48.53,49.85 49.2,49.3C49.87,48.75 50.43,47.75 51.2,47.3C51.97,46.85 53.03,46.48 53.8,46.6C54.57,46.72 54.82,47.55 55.8,48C56.78,48.45 57.95,49.03 59.7,49.3C61.45,49.57 64.43,49.5 66.3,49.6C68.17,49.7 69.92,49.08 70.9,49.9C71.88,50.72 71.1,53.35 72.2,54.5C73.3,55.65 77.17,56.18 77.5,56.8C77.83,57.42 75.73,57.37 74.2,58.2C72.67,59.03 70.38,60.65 68.3,61.8C66.22,62.95 63.78,64.4 61.7,65.1C59.62,65.8 57.45,66.07 55.8,66C54.15,65.93 52.62,65.62 51.8,64.7C50.98,63.78 51.12,62.08 50.9,60.5C50.68,58.92 51,56.52 50.5,55.2C50,53.88 48.45,53.37 47.9,52.6C47.35,51.83 46.98,51.15 47.2,50.6Z" fill="#fff"/></g></g>
<path d="M382.41,26.6 H362 V96.4 H455.2 V26.6 H435.99" fill="none" stroke="#111" stroke-width="1.3"/>
<text x="409.2" y="29.5" font-size="10" text-anchor="middle" font-style="italic" fill="#222">TBX21</text>
<g transform="translate(464.9,26.6)">
<path d="M13.3,36C13.17,35.1 14.63,34.43 15.5,33.8C16.37,33.17 17.65,32.73 18.5,32.2C19.35,31.67 20.02,31.25 20.6,30.6C21.18,29.95 21.47,28.47 22,28.3C22.53,28.13 23.23,29.75 23.8,29.6C24.37,29.45 24.9,27.3 25.4,27.4C25.9,27.5 26.2,29.33 26.8,30.2C27.4,31.07 28.17,31.98 29,32.6C29.83,33.22 30.93,33.45 31.8,33.9C32.67,34.35 33.3,34.68 34.2,35.3C35.1,35.92 37.2,37.25 37.2,37.6C37.2,37.95 35.2,37.17 34.2,37.4C33.2,37.63 32.23,38.45 31.2,39C30.17,39.55 29.12,40.3 28,40.7C26.88,41.1 25.83,41.35 24.5,41.4C23.17,41.45 21.37,41.37 20,41C18.63,40.63 17.42,40.03 16.3,39.2C15.18,38.37 13.43,36.9 13.3,36Z" fill="#2c728e"/>
<path d="M53.8,31.8C53.1,30.42 53.7,26.23 53.8,24C53.9,21.77 53.37,19.65 54.4,18.4C55.43,17.15 58.07,17.07 60,16.5C61.93,15.93 64.32,15.42 66,15C67.68,14.58 69.02,14.25 70.1,14C71.18,13.75 71.52,13.33 72.5,13.5C73.48,13.67 75.45,14.08 76,15C76.55,15.92 75.9,17.75 75.8,19C75.7,20.25 75.62,21.25 75.4,22.5C75.18,23.75 74.78,25.43 74.5,26.5C74.22,27.57 74.2,28.07 73.7,28.9C73.2,29.73 72.95,30.95 71.5,31.5C70.05,32.05 67.25,32.07 65,32.2C62.75,32.33 59.87,32.37 58,32.3C56.13,32.23 54.5,33.18 53.8,31.8Z" fill="#4a1a6e"/>
<path d="M47.2,50.6C47.42,50.05 48.53,49.85 49.2,49.3C49.87,48.75 50.43,47.75 51.2,47.3C51.97,46.85 53.03,46.48 53.8,46.6C54.57,46.72 54.82,47.55 55.8,48C56.78,48.45 57.95,49.03 59.7,49.3C61.45,49.57 64.43,49.5 66.3,49.6C68.17,49.7 69.92,49.08 70.9,49.9C71.88,50.72 71.1,53.35 72.2,54.5C73.3,55.65 77.17,56.18 77.5,56.8C77.83,57.42 75.73,57.37 74.2,58.2C72.67,59.03 70.38,60.65 68.3,61.8C66.22,62.95 63.78,64.4 61.7,65.1C59.62,65.8 57.45,66.07 55.8,66C54.15,65.93 52.62,65.62 51.8,64.7C50.98,63.78 51.12,62.08 50.9,60.5C50.68,58.92 51,56.52 50.5,55.2C50,53.88 48.45,53.37 47.9,52.6C47.35,51.83 46.98,51.15 47.2,50.6Z" fill="#4a1a6e"/>
<path d="M32.5,34.5C34.08,33.73 39.42,32.25 43,31.1C46.58,29.95 52.12,27.97 54,27.6C55.88,27.23 55.97,28.18 54.3,28.9C52.63,29.62 47.47,30.77 44,31.9C40.53,33.03 35.42,35.27 33.5,35.7C31.58,36.13 30.92,35.27 32.5,34.5Z" fill="#4a1a6e" opacity="0.7"/>
<ellipse cx="73.2" cy="9.4" rx="2.2" ry="4.1" transform="rotate(18 73.2 9.4)" fill="none" stroke="#4a1a6e" stroke-width="1.0" opacity="0.85"/>
<path d="M64.2,39.6 L65,45.2 M64.6,42.3 L63.3,45" stroke="#7a5a9a" stroke-width="0.6" fill="none"/>
</g>
<g clip-path="url(#c2LB)"><ellipse cx="489.4" cy="62.6" rx="9.5" ry="5.2" fill="#35b779" opacity="1" filter="url(#blur1)"/></g>
<g clip-path="url(#c2LB)"><ellipse cx="488.7" cy="63.6" rx="5" ry="3" fill="#cde11d" opacity="1" filter="url(#blur1)"/></g>
<g clip-path="url(#c2LWB)"><ellipse cx="524.9" cy="88.1" rx="10" ry="4" fill="#26a085" opacity="0.95" filter="url(#blur1)" transform="rotate(-10 524.9 88.1)"/></g>
<g clip-path="url(#c2LWB)"><ellipse cx="526.9" cy="88.6" rx="5" ry="2.5" fill="#3dbc74" opacity="0.8" filter="url(#blur1)"/></g>
<g clip-path="url(#c2LWB)"><ellipse cx="539.9" cy="83.6" rx="3" ry="1.5" fill="#3dbc74" opacity="0.8" filter="url(#blur1)"/></g>
<g filter="url(#wspk)" opacity="0.5"><g transform="translate(464.9,26.6)"><path d="M13.3,36C13.17,35.1 14.63,34.43 15.5,33.8C16.37,33.17 17.65,32.73 18.5,32.2C19.35,31.67 20.02,31.25 20.6,30.6C21.18,29.95 21.47,28.47 22,28.3C22.53,28.13 23.23,29.75 23.8,29.6C24.37,29.45 24.9,27.3 25.4,27.4C25.9,27.5 26.2,29.33 26.8,30.2C27.4,31.07 28.17,31.98 29,32.6C29.83,33.22 30.93,33.45 31.8,33.9C32.67,34.35 33.3,34.68 34.2,35.3C35.1,35.92 37.2,37.25 37.2,37.6C37.2,37.95 35.2,37.17 34.2,37.4C33.2,37.63 32.23,38.45 31.2,39C30.17,39.55 29.12,40.3 28,40.7C26.88,41.1 25.83,41.35 24.5,41.4C23.17,41.45 21.37,41.37 20,41C18.63,40.63 17.42,40.03 16.3,39.2C15.18,38.37 13.43,36.9 13.3,36Z" fill="#fff"/><path d="M53.8,31.8C53.1,30.42 53.7,26.23 53.8,24C53.9,21.77 53.37,19.65 54.4,18.4C55.43,17.15 58.07,17.07 60,16.5C61.93,15.93 64.32,15.42 66,15C67.68,14.58 69.02,14.25 70.1,14C71.18,13.75 71.52,13.33 72.5,13.5C73.48,13.67 75.45,14.08 76,15C76.55,15.92 75.9,17.75 75.8,19C75.7,20.25 75.62,21.25 75.4,22.5C75.18,23.75 74.78,25.43 74.5,26.5C74.22,27.57 74.2,28.07 73.7,28.9C73.2,29.73 72.95,30.95 71.5,31.5C70.05,32.05 67.25,32.07 65,32.2C62.75,32.33 59.87,32.37 58,32.3C56.13,32.23 54.5,33.18 53.8,31.8Z" fill="#fff"/><path d="M47.2,50.6C47.42,50.05 48.53,49.85 49.2,49.3C49.87,48.75 50.43,47.75 51.2,47.3C51.97,46.85 53.03,46.48 53.8,46.6C54.57,46.72 54.82,47.55 55.8,48C56.78,48.45 57.95,49.03 59.7,49.3C61.45,49.57 64.43,49.5 66.3,49.6C68.17,49.7 69.92,49.08 70.9,49.9C71.88,50.72 71.1,53.35 72.2,54.5C73.3,55.65 77.17,56.18 77.5,56.8C77.83,57.42 75.73,57.37 74.2,58.2C72.67,59.03 70.38,60.65 68.3,61.8C66.22,62.95 63.78,64.4 61.7,65.1C59.62,65.8 57.45,66.07 55.8,66C54.15,65.93 52.62,65.62 51.8,64.7C50.98,63.78 51.12,62.08 50.9,60.5C50.68,58.92 51,56.52 50.5,55.2C50,53.88 48.45,53.37 47.9,52.6C47.35,51.83 46.98,51.15 47.2,50.6Z" fill="#fff"/></g></g>
<path d="M485.08,26.6 H464.1 V96.4 H557.3 V26.6 H537.52" fill="none" stroke="#111" stroke-width="1.3"/>
<text x="511.3" y="29.5" font-size="10" text-anchor="middle" font-style="italic" fill="#222">RORC</text>
<g transform="translate(566.4,26.6)">
<path d="M13.3,36C13.17,35.1 14.63,34.43 15.5,33.8C16.37,33.17 17.65,32.73 18.5,32.2C19.35,31.67 20.02,31.25 20.6,30.6C21.18,29.95 21.47,28.47 22,28.3C22.53,28.13 23.23,29.75 23.8,29.6C24.37,29.45 24.9,27.3 25.4,27.4C25.9,27.5 26.2,29.33 26.8,30.2C27.4,31.07 28.17,31.98 29,32.6C29.83,33.22 30.93,33.45 31.8,33.9C32.67,34.35 33.3,34.68 34.2,35.3C35.1,35.92 37.2,37.25 37.2,37.6C37.2,37.95 35.2,37.17 34.2,37.4C33.2,37.63 32.23,38.45 31.2,39C30.17,39.55 29.12,40.3 28,40.7C26.88,41.1 25.83,41.35 24.5,41.4C23.17,41.45 21.37,41.37 20,41C18.63,40.63 17.42,40.03 16.3,39.2C15.18,38.37 13.43,36.9 13.3,36Z" fill="#4a1a6e"/>
<path d="M53.8,31.8C53.1,30.42 53.7,26.23 53.8,24C53.9,21.77 53.37,19.65 54.4,18.4C55.43,17.15 58.07,17.07 60,16.5C61.93,15.93 64.32,15.42 66,15C67.68,14.58 69.02,14.25 70.1,14C71.18,13.75 71.52,13.33 72.5,13.5C73.48,13.67 75.45,14.08 76,15C76.55,15.92 75.9,17.75 75.8,19C75.7,20.25 75.62,21.25 75.4,22.5C75.18,23.75 74.78,25.43 74.5,26.5C74.22,27.57 74.2,28.07 73.7,28.9C73.2,29.73 72.95,30.95 71.5,31.5C70.05,32.05 67.25,32.07 65,32.2C62.75,32.33 59.87,32.37 58,32.3C56.13,32.23 54.5,33.18 53.8,31.8Z" fill="#4a1a6e"/>
<path d="M47.2,50.6C47.42,50.05 48.53,49.85 49.2,49.3C49.87,48.75 50.43,47.75 51.2,47.3C51.97,46.85 53.03,46.48 53.8,46.6C54.57,46.72 54.82,47.55 55.8,48C56.78,48.45 57.95,49.03 59.7,49.3C61.45,49.57 64.43,49.5 66.3,49.6C68.17,49.7 69.92,49.08 70.9,49.9C71.88,50.72 71.1,53.35 72.2,54.5C73.3,55.65 77.17,56.18 77.5,56.8C77.83,57.42 75.73,57.37 74.2,58.2C72.67,59.03 70.38,60.65 68.3,61.8C66.22,62.95 63.78,64.4 61.7,65.1C59.62,65.8 57.45,66.07 55.8,66C54.15,65.93 52.62,65.62 51.8,64.7C50.98,63.78 51.12,62.08 50.9,60.5C50.68,58.92 51,56.52 50.5,55.2C50,53.88 48.45,53.37 47.9,52.6C47.35,51.83 46.98,51.15 47.2,50.6Z" fill="#4a1a6e"/>
<path d="M32.5,34.5C34.08,33.73 39.42,32.25 43,31.1C46.58,29.95 52.12,27.97 54,27.6C55.88,27.23 55.97,28.18 54.3,28.9C52.63,29.62 47.47,30.77 44,31.9C40.53,33.03 35.42,35.27 33.5,35.7C31.58,36.13 30.92,35.27 32.5,34.5Z" fill="#4a1a6e" opacity="0.7"/>
<ellipse cx="73.2" cy="9.4" rx="2.2" ry="4.1" transform="rotate(18 73.2 9.4)" fill="none" stroke="#4a1a6e" stroke-width="1.0" opacity="0.85"/>
<path d="M64.2,39.6 L65,45.2 M64.6,42.3 L63.3,45" stroke="#7a5a9a" stroke-width="0.6" fill="none"/>
</g>
<g clip-path="url(#c3LWB)"><ellipse cx="626.4" cy="80.1" rx="13" ry="5.2" fill="#2a8a8c" opacity="0.95" filter="url(#blur1)" transform="rotate(12 626.4 80.1)"/></g>
<g clip-path="url(#c3LWB)"><ellipse cx="627.4" cy="80.6" rx="9" ry="3.4" fill="#5ec962" opacity="1" filter="url(#blur1)" transform="rotate(15 627.4 80.6)"/></g>
<g clip-path="url(#c3LWB)"><ellipse cx="630.4" cy="83.1" rx="4.5" ry="1.6" fill="#c8e020" opacity="1" filter="url(#blur1)" transform="rotate(25 630.4 83.1)"/></g>
<g filter="url(#wspk)" opacity="0.5"><g transform="translate(566.4,26.6)"><path d="M13.3,36C13.17,35.1 14.63,34.43 15.5,33.8C16.37,33.17 17.65,32.73 18.5,32.2C19.35,31.67 20.02,31.25 20.6,30.6C21.18,29.95 21.47,28.47 22,28.3C22.53,28.13 23.23,29.75 23.8,29.6C24.37,29.45 24.9,27.3 25.4,27.4C25.9,27.5 26.2,29.33 26.8,30.2C27.4,31.07 28.17,31.98 29,32.6C29.83,33.22 30.93,33.45 31.8,33.9C32.67,34.35 33.3,34.68 34.2,35.3C35.1,35.92 37.2,37.25 37.2,37.6C37.2,37.95 35.2,37.17 34.2,37.4C33.2,37.63 32.23,38.45 31.2,39C30.17,39.55 29.12,40.3 28,40.7C26.88,41.1 25.83,41.35 24.5,41.4C23.17,41.45 21.37,41.37 20,41C18.63,40.63 17.42,40.03 16.3,39.2C15.18,38.37 13.43,36.9 13.3,36Z" fill="#fff"/><path d="M53.8,31.8C53.1,30.42 53.7,26.23 53.8,24C53.9,21.77 53.37,19.65 54.4,18.4C55.43,17.15 58.07,17.07 60,16.5C61.93,15.93 64.32,15.42 66,15C67.68,14.58 69.02,14.25 70.1,14C71.18,13.75 71.52,13.33 72.5,13.5C73.48,13.67 75.45,14.08 76,15C76.55,15.92 75.9,17.75 75.8,19C75.7,20.25 75.62,21.25 75.4,22.5C75.18,23.75 74.78,25.43 74.5,26.5C74.22,27.57 74.2,28.07 73.7,28.9C73.2,29.73 72.95,30.95 71.5,31.5C70.05,32.05 67.25,32.07 65,32.2C62.75,32.33 59.87,32.37 58,32.3C56.13,32.23 54.5,33.18 53.8,31.8Z" fill="#fff"/><path d="M47.2,50.6C47.42,50.05 48.53,49.85 49.2,49.3C49.87,48.75 50.43,47.75 51.2,47.3C51.97,46.85 53.03,46.48 53.8,46.6C54.57,46.72 54.82,47.55 55.8,48C56.78,48.45 57.95,49.03 59.7,49.3C61.45,49.57 64.43,49.5 66.3,49.6C68.17,49.7 69.92,49.08 70.9,49.9C71.88,50.72 71.1,53.35 72.2,54.5C73.3,55.65 77.17,56.18 77.5,56.8C77.83,57.42 75.73,57.37 74.2,58.2C72.67,59.03 70.38,60.65 68.3,61.8C66.22,62.95 63.78,64.4 61.7,65.1C59.62,65.8 57.45,66.07 55.8,66C54.15,65.93 52.62,65.62 51.8,64.7C50.98,63.78 51.12,62.08 50.9,60.5C50.68,58.92 51,56.52 50.5,55.2C50,53.88 48.45,53.37 47.9,52.6C47.35,51.83 46.98,51.15 47.2,50.6Z" fill="#fff"/></g></g>
<path d="M592.1,26.6 H566.4 V96.4 H659.6 V26.6 H635.1" fill="none" stroke="#111" stroke-width="1.3"/>
<text x="613.6" y="29.5" font-size="10" text-anchor="middle" font-style="italic" fill="#222">CD4</text>
<g transform="translate(260,109.3)">
<path d="M13.3,36C13.17,35.1 14.63,34.43 15.5,33.8C16.37,33.17 17.65,32.73 18.5,32.2C19.35,31.67 20.02,31.25 20.6,30.6C21.18,29.95 21.47,28.47 22,28.3C22.53,28.13 23.23,29.75 23.8,29.6C24.37,29.45 24.9,27.3 25.4,27.4C25.9,27.5 26.2,29.33 26.8,30.2C27.4,31.07 28.17,31.98 29,32.6C29.83,33.22 30.93,33.45 31.8,33.9C32.67,34.35 33.3,34.68 34.2,35.3C35.1,35.92 37.2,37.25 37.2,37.6C37.2,37.95 35.2,37.17 34.2,37.4C33.2,37.63 32.23,38.45 31.2,39C30.17,39.55 29.12,40.3 28,40.7C26.88,41.1 25.83,41.35 24.5,41.4C23.17,41.45 21.37,41.37 20,41C18.63,40.63 17.42,40.03 16.3,39.2C15.18,38.37 13.43,36.9 13.3,36Z" fill="#3b528b"/>
<path d="M53.8,31.8C53.1,30.42 53.7,26.23 53.8,24C53.9,21.77 53.37,19.65 54.4,18.4C55.43,17.15 58.07,17.07 60,16.5C61.93,15.93 64.32,15.42 66,15C67.68,14.58 69.02,14.25 70.1,14C71.18,13.75 71.52,13.33 72.5,13.5C73.48,13.67 75.45,14.08 76,15C76.55,15.92 75.9,17.75 75.8,19C75.7,20.25 75.62,21.25 75.4,22.5C75.18,23.75 74.78,25.43 74.5,26.5C74.22,27.57 74.2,28.07 73.7,28.9C73.2,29.73 72.95,30.95 71.5,31.5C70.05,32.05 67.25,32.07 65,32.2C62.75,32.33 59.87,32.37 58,32.3C56.13,32.23 54.5,33.18 53.8,31.8Z" fill="#4a1a6e"/>
<path d="M47.2,50.6C47.42,50.05 48.53,49.85 49.2,49.3C49.87,48.75 50.43,47.75 51.2,47.3C51.97,46.85 53.03,46.48 53.8,46.6C54.57,46.72 54.82,47.55 55.8,48C56.78,48.45 57.95,49.03 59.7,49.3C61.45,49.57 64.43,49.5 66.3,49.6C68.17,49.7 69.92,49.08 70.9,49.9C71.88,50.72 71.1,53.35 72.2,54.5C73.3,55.65 77.17,56.18 77.5,56.8C77.83,57.42 75.73,57.37 74.2,58.2C72.67,59.03 70.38,60.65 68.3,61.8C66.22,62.95 63.78,64.4 61.7,65.1C59.62,65.8 57.45,66.07 55.8,66C54.15,65.93 52.62,65.62 51.8,64.7C50.98,63.78 51.12,62.08 50.9,60.5C50.68,58.92 51,56.52 50.5,55.2C50,53.88 48.45,53.37 47.9,52.6C47.35,51.83 46.98,51.15 47.2,50.6Z" fill="#4a1a6e"/>
<path d="M32.5,34.5C34.08,33.73 39.42,32.25 43,31.1C46.58,29.95 52.12,27.97 54,27.6C55.88,27.23 55.97,28.18 54.3,28.9C52.63,29.62 47.47,30.77 44,31.9C40.53,33.03 35.42,35.27 33.5,35.7C31.58,36.13 30.92,35.27 32.5,34.5Z" fill="#4a1a6e" opacity="0.7"/>
<ellipse cx="73.2" cy="9.4" rx="2.2" ry="4.1" transform="rotate(18 73.2 9.4)" fill="none" stroke="#4a1a6e" stroke-width="1.0" opacity="0.85"/>
<path d="M64.2,39.6 L65,45.2 M64.6,42.3 L63.3,45" stroke="#7a5a9a" stroke-width="0.6" fill="none"/>
</g>
<g clip-path="url(#c4LB)"><ellipse cx="284.5" cy="146.3" rx="8.5" ry="4.5" fill="#2fb47c" opacity="1" filter="url(#blur1)"/></g>
<g clip-path="url(#c4LB)"><ellipse cx="285.2" cy="147.1" rx="4" ry="2.2" fill="#d0e11c" opacity="1" filter="url(#blur1)"/></g>
<g filter="url(#wspk)" opacity="0.5"><g transform="translate(260,109.3)"><path d="M13.3,36C13.17,35.1 14.63,34.43 15.5,33.8C16.37,33.17 17.65,32.73 18.5,32.2C19.35,31.67 20.02,31.25 20.6,30.6C21.18,29.95 21.47,28.47 22,28.3C22.53,28.13 23.23,29.75 23.8,29.6C24.37,29.45 24.9,27.3 25.4,27.4C25.9,27.5 26.2,29.33 26.8,30.2C27.4,31.07 28.17,31.98 29,32.6C29.83,33.22 30.93,33.45 31.8,33.9C32.67,34.35 33.3,34.68 34.2,35.3C35.1,35.92 37.2,37.25 37.2,37.6C37.2,37.95 35.2,37.17 34.2,37.4C33.2,37.63 32.23,38.45 31.2,39C30.17,39.55 29.12,40.3 28,40.7C26.88,41.1 25.83,41.35 24.5,41.4C23.17,41.45 21.37,41.37 20,41C18.63,40.63 17.42,40.03 16.3,39.2C15.18,38.37 13.43,36.9 13.3,36Z" fill="#fff"/><path d="M53.8,31.8C53.1,30.42 53.7,26.23 53.8,24C53.9,21.77 53.37,19.65 54.4,18.4C55.43,17.15 58.07,17.07 60,16.5C61.93,15.93 64.32,15.42 66,15C67.68,14.58 69.02,14.25 70.1,14C71.18,13.75 71.52,13.33 72.5,13.5C73.48,13.67 75.45,14.08 76,15C76.55,15.92 75.9,17.75 75.8,19C75.7,20.25 75.62,21.25 75.4,22.5C75.18,23.75 74.78,25.43 74.5,26.5C74.22,27.57 74.2,28.07 73.7,28.9C73.2,29.73 72.95,30.95 71.5,31.5C70.05,32.05 67.25,32.07 65,32.2C62.75,32.33 59.87,32.37 58,32.3C56.13,32.23 54.5,33.18 53.8,31.8Z" fill="#fff"/><path d="M47.2,50.6C47.42,50.05 48.53,49.85 49.2,49.3C49.87,48.75 50.43,47.75 51.2,47.3C51.97,46.85 53.03,46.48 53.8,46.6C54.57,46.72 54.82,47.55 55.8,48C56.78,48.45 57.95,49.03 59.7,49.3C61.45,49.57 64.43,49.5 66.3,49.6C68.17,49.7 69.92,49.08 70.9,49.9C71.88,50.72 71.1,53.35 72.2,54.5C73.3,55.65 77.17,56.18 77.5,56.8C77.83,57.42 75.73,57.37 74.2,58.2C72.67,59.03 70.38,60.65 68.3,61.8C66.22,62.95 63.78,64.4 61.7,65.1C59.62,65.8 57.45,66.07 55.8,66C54.15,65.93 52.62,65.62 51.8,64.7C50.98,63.78 51.12,62.08 50.9,60.5C50.68,58.92 51,56.52 50.5,55.2C50,53.88 48.45,53.37 47.9,52.6C47.35,51.83 46.98,51.15 47.2,50.6Z" fill="#fff"/></g></g>
<path d="M279.58,109.3 H260 V179.1 H353.2 V109.3 H334.82" fill="none" stroke="#111" stroke-width="1.3"/>
<text x="307.2" y="112.2" font-size="10" text-anchor="middle" font-style="italic" fill="#222">IL18R1</text>
<g transform="translate(364,109.3)">
<path d="M13.3,36C13.17,35.1 14.63,34.43 15.5,33.8C16.37,33.17 17.65,32.73 18.5,32.2C19.35,31.67 20.02,31.25 20.6,30.6C21.18,29.95 21.47,28.47 22,28.3C22.53,28.13 23.23,29.75 23.8,29.6C24.37,29.45 24.9,27.3 25.4,27.4C25.9,27.5 26.2,29.33 26.8,30.2C27.4,31.07 28.17,31.98 29,32.6C29.83,33.22 30.93,33.45 31.8,33.9C32.67,34.35 33.3,34.68 34.2,35.3C35.1,35.92 37.2,37.25 37.2,37.6C37.2,37.95 35.2,37.17 34.2,37.4C33.2,37.63 32.23,38.45 31.2,39C30.17,39.55 29.12,40.3 28,40.7C26.88,41.1 25.83,41.35 24.5,41.4C23.17,41.45 21.37,41.37 20,41C18.63,40.63 17.42,40.03 16.3,39.2C15.18,38.37 13.43,36.9 13.3,36Z" fill="#2c728e"/>
<path d="M53.8,31.8C53.1,30.42 53.7,26.23 53.8,24C53.9,21.77 53.37,19.65 54.4,18.4C55.43,17.15 58.07,17.07 60,16.5C61.93,15.93 64.32,15.42 66,15C67.68,14.58 69.02,14.25 70.1,14C71.18,13.75 71.52,13.33 72.5,13.5C73.48,13.67 75.45,14.08 76,15C76.55,15.92 75.9,17.75 75.8,19C75.7,20.25 75.62,21.25 75.4,22.5C75.18,23.75 74.78,25.43 74.5,26.5C74.22,27.57 74.2,28.07 73.7,28.9C73.2,29.73 72.95,30.95 71.5,31.5C70.05,32.05 67.25,32.07 65,32.2C62.75,32.33 59.87,32.37 58,32.3C56.13,32.23 54.5,33.18 53.8,31.8Z" fill="#4a1a6e"/>
<path d="M47.2,50.6C47.42,50.05 48.53,49.85 49.2,49.3C49.87,48.75 50.43,47.75 51.2,47.3C51.97,46.85 53.03,46.48 53.8,46.6C54.57,46.72 54.82,47.55 55.8,48C56.78,48.45 57.95,49.03 59.7,49.3C61.45,49.57 64.43,49.5 66.3,49.6C68.17,49.7 69.92,49.08 70.9,49.9C71.88,50.72 71.1,53.35 72.2,54.5C73.3,55.65 77.17,56.18 77.5,56.8C77.83,57.42 75.73,57.37 74.2,58.2C72.67,59.03 70.38,60.65 68.3,61.8C66.22,62.95 63.78,64.4 61.7,65.1C59.62,65.8 57.45,66.07 55.8,66C54.15,65.93 52.62,65.62 51.8,64.7C50.98,63.78 51.12,62.08 50.9,60.5C50.68,58.92 51,56.52 50.5,55.2C50,53.88 48.45,53.37 47.9,52.6C47.35,51.83 46.98,51.15 47.2,50.6Z" fill="#4a1a6e"/>
<path d="M32.5,34.5C34.08,33.73 39.42,32.25 43,31.1C46.58,29.95 52.12,27.97 54,27.6C55.88,27.23 55.97,28.18 54.3,28.9C52.63,29.62 47.47,30.77 44,31.9C40.53,33.03 35.42,35.27 33.5,35.7C31.58,36.13 30.92,35.27 32.5,34.5Z" fill="#4a1a6e" opacity="0.7"/>
<ellipse cx="73.2" cy="9.4" rx="2.2" ry="4.1" transform="rotate(18 73.2 9.4)" fill="none" stroke="#4a1a6e" stroke-width="1.0" opacity="0.85"/>
<path d="M64.2,39.6 L65,45.2 M64.6,42.3 L63.3,45" stroke="#7a5a9a" stroke-width="0.6" fill="none"/>
</g>
<g clip-path="url(#c5LB)"><ellipse cx="388.5" cy="145.3" rx="9.5" ry="5.2" fill="#5ec962" opacity="1" filter="url(#blur1)"/></g>
<g clip-path="url(#c5LB)"><ellipse cx="388.5" cy="146.3" rx="6" ry="3.2" fill="#e2e418" opacity="1" filter="url(#blur1)"/></g>
<g filter="url(#wspk)" opacity="0.5"><g transform="translate(364,109.3)"><path d="M13.3,36C13.17,35.1 14.63,34.43 15.5,33.8C16.37,33.17 17.65,32.73 18.5,32.2C19.35,31.67 20.02,31.25 20.6,30.6C21.18,29.95 21.47,28.47 22,28.3C22.53,28.13 23.23,29.75 23.8,29.6C24.37,29.45 24.9,27.3 25.4,27.4C25.9,27.5 26.2,29.33 26.8,30.2C27.4,31.07 28.17,31.98 29,32.6C29.83,33.22 30.93,33.45 31.8,33.9C32.67,34.35 33.3,34.68 34.2,35.3C35.1,35.92 37.2,37.25 37.2,37.6C37.2,37.95 35.2,37.17 34.2,37.4C33.2,37.63 32.23,38.45 31.2,39C30.17,39.55 29.12,40.3 28,40.7C26.88,41.1 25.83,41.35 24.5,41.4C23.17,41.45 21.37,41.37 20,41C18.63,40.63 17.42,40.03 16.3,39.2C15.18,38.37 13.43,36.9 13.3,36Z" fill="#fff"/><path d="M53.8,31.8C53.1,30.42 53.7,26.23 53.8,24C53.9,21.77 53.37,19.65 54.4,18.4C55.43,17.15 58.07,17.07 60,16.5C61.93,15.93 64.32,15.42 66,15C67.68,14.58 69.02,14.25 70.1,14C71.18,13.75 71.52,13.33 72.5,13.5C73.48,13.67 75.45,14.08 76,15C76.55,15.92 75.9,17.75 75.8,19C75.7,20.25 75.62,21.25 75.4,22.5C75.18,23.75 74.78,25.43 74.5,26.5C74.22,27.57 74.2,28.07 73.7,28.9C73.2,29.73 72.95,30.95 71.5,31.5C70.05,32.05 67.25,32.07 65,32.2C62.75,32.33 59.87,32.37 58,32.3C56.13,32.23 54.5,33.18 53.8,31.8Z" fill="#fff"/><path d="M47.2,50.6C47.42,50.05 48.53,49.85 49.2,49.3C49.87,48.75 50.43,47.75 51.2,47.3C51.97,46.85 53.03,46.48 53.8,46.6C54.57,46.72 54.82,47.55 55.8,48C56.78,48.45 57.95,49.03 59.7,49.3C61.45,49.57 64.43,49.5 66.3,49.6C68.17,49.7 69.92,49.08 70.9,49.9C71.88,50.72 71.1,53.35 72.2,54.5C73.3,55.65 77.17,56.18 77.5,56.8C77.83,57.42 75.73,57.37 74.2,58.2C72.67,59.03 70.38,60.65 68.3,61.8C66.22,62.95 63.78,64.4 61.7,65.1C59.62,65.8 57.45,66.07 55.8,66C54.15,65.93 52.62,65.62 51.8,64.7C50.98,63.78 51.12,62.08 50.9,60.5C50.68,58.92 51,56.52 50.5,55.2C50,53.88 48.45,53.37 47.9,52.6C47.35,51.83 46.98,51.15 47.2,50.6Z" fill="#fff"/></g></g>
<path d="M381.86,109.3 H362 V179.1 H455.2 V109.3 H436.54" fill="none" stroke="#111" stroke-width="1.3"/>
<text x="409.2" y="112.2" font-size="10" text-anchor="middle" font-style="italic" fill="#222">KLRB1</text>
<g transform="translate(464.9,109.3)">
<path d="M13.3,36C13.17,35.1 14.63,34.43 15.5,33.8C16.37,33.17 17.65,32.73 18.5,32.2C19.35,31.67 20.02,31.25 20.6,30.6C21.18,29.95 21.47,28.47 22,28.3C22.53,28.13 23.23,29.75 23.8,29.6C24.37,29.45 24.9,27.3 25.4,27.4C25.9,27.5 26.2,29.33 26.8,30.2C27.4,31.07 28.17,31.98 29,32.6C29.83,33.22 30.93,33.45 31.8,33.9C32.67,34.35 33.3,34.68 34.2,35.3C35.1,35.92 37.2,37.25 37.2,37.6C37.2,37.95 35.2,37.17 34.2,37.4C33.2,37.63 32.23,38.45 31.2,39C30.17,39.55 29.12,40.3 28,40.7C26.88,41.1 25.83,41.35 24.5,41.4C23.17,41.45 21.37,41.37 20,41C18.63,40.63 17.42,40.03 16.3,39.2C15.18,38.37 13.43,36.9 13.3,36Z" fill="#31688e"/>
<path d="M53.8,31.8C53.1,30.42 53.7,26.23 53.8,24C53.9,21.77 53.37,19.65 54.4,18.4C55.43,17.15 58.07,17.07 60,16.5C61.93,15.93 64.32,15.42 66,15C67.68,14.58 69.02,14.25 70.1,14C71.18,13.75 71.52,13.33 72.5,13.5C73.48,13.67 75.45,14.08 76,15C76.55,15.92 75.9,17.75 75.8,19C75.7,20.25 75.62,21.25 75.4,22.5C75.18,23.75 74.78,25.43 74.5,26.5C74.22,27.57 74.2,28.07 73.7,28.9C73.2,29.73 72.95,30.95 71.5,31.5C70.05,32.05 67.25,32.07 65,32.2C62.75,32.33 59.87,32.37 58,32.3C56.13,32.23 54.5,33.18 53.8,31.8Z" fill="#4a1a6e"/>
<path d="M47.2,50.6C47.42,50.05 48.53,49.85 49.2,49.3C49.87,48.75 50.43,47.75 51.2,47.3C51.97,46.85 53.03,46.48 53.8,46.6C54.57,46.72 54.82,47.55 55.8,48C56.78,48.45 57.95,49.03 59.7,49.3C61.45,49.57 64.43,49.5 66.3,49.6C68.17,49.7 69.92,49.08 70.9,49.9C71.88,50.72 71.1,53.35 72.2,54.5C73.3,55.65 77.17,56.18 77.5,56.8C77.83,57.42 75.73,57.37 74.2,58.2C72.67,59.03 70.38,60.65 68.3,61.8C66.22,62.95 63.78,64.4 61.7,65.1C59.62,65.8 57.45,66.07 55.8,66C54.15,65.93 52.62,65.62 51.8,64.7C50.98,63.78 51.12,62.08 50.9,60.5C50.68,58.92 51,56.52 50.5,55.2C50,53.88 48.45,53.37 47.9,52.6C47.35,51.83 46.98,51.15 47.2,50.6Z" fill="#4a1a6e"/>
<path d="M32.5,34.5C34.08,33.73 39.42,32.25 43,31.1C46.58,29.95 52.12,27.97 54,27.6C55.88,27.23 55.97,28.18 54.3,28.9C52.63,29.62 47.47,30.77 44,31.9C40.53,33.03 35.42,35.27 33.5,35.7C31.58,36.13 30.92,35.27 32.5,34.5Z" fill="#4a1a6e" opacity="0.7"/>
<ellipse cx="73.2" cy="9.4" rx="2.2" ry="4.1" transform="rotate(18 73.2 9.4)" fill="none" stroke="#4a1a6e" stroke-width="1.0" opacity="0.85"/>
<path d="M64.2,39.6 L65,45.2 M64.6,42.3 L63.3,45" stroke="#7a5a9a" stroke-width="0.6" fill="none"/>
</g>
<g clip-path="url(#c6LB)"><ellipse cx="487.9" cy="145.8" rx="9" ry="5" fill="#2fb47c" opacity="1" filter="url(#blur1)"/></g>
<g clip-path="url(#c6LB)"><ellipse cx="486.4" cy="146.3" rx="4.5" ry="2.8" fill="#7ad151" opacity="1" filter="url(#blur1)"/></g>
<g clip-path="url(#c6UB)"><ellipse cx="523.9" cy="134.3" rx="9" ry="9" fill="#2a9d8c" opacity="0.95" filter="url(#blur1)"/></g>
<g clip-path="url(#c6UB)"><ellipse cx="521.9" cy="137.8" rx="4.5" ry="3.5" fill="#5ec962" opacity="0.95" filter="url(#blur1)"/></g>
<g clip-path="url(#c6LWB)"><ellipse cx="519.9" cy="160.3" rx="9" ry="4" fill="#2a9d8c" opacity="0.95" filter="url(#blur1)"/></g>
<g clip-path="url(#c6LWB)"><ellipse cx="520.9" cy="170.8" rx="7" ry="4.2" fill="#5ec962" opacity="1" filter="url(#blur1)"/></g>
<g clip-path="url(#c6LWB)"><ellipse cx="520.9" cy="172.1" rx="4.2" ry="2.5" fill="#e2e418" opacity="1" filter="url(#blur1)"/></g>
<g filter="url(#wspk)" opacity="0.5"><g transform="translate(464.9,109.3)"><path d="M13.3,36C13.17,35.1 14.63,34.43 15.5,33.8C16.37,33.17 17.65,32.73 18.5,32.2C19.35,31.67 20.02,31.25 20.6,30.6C21.18,29.95 21.47,28.47 22,28.3C22.53,28.13 23.23,29.75 23.8,29.6C24.37,29.45 24.9,27.3 25.4,27.4C25.9,27.5 26.2,29.33 26.8,30.2C27.4,31.07 28.17,31.98 29,32.6C29.83,33.22 30.93,33.45 31.8,33.9C32.67,34.35 33.3,34.68 34.2,35.3C35.1,35.92 37.2,37.25 37.2,37.6C37.2,37.95 35.2,37.17 34.2,37.4C33.2,37.63 32.23,38.45 31.2,39C30.17,39.55 29.12,40.3 28,40.7C26.88,41.1 25.83,41.35 24.5,41.4C23.17,41.45 21.37,41.37 20,41C18.63,40.63 17.42,40.03 16.3,39.2C15.18,38.37 13.43,36.9 13.3,36Z" fill="#fff"/><path d="M53.8,31.8C53.1,30.42 53.7,26.23 53.8,24C53.9,21.77 53.37,19.65 54.4,18.4C55.43,17.15 58.07,17.07 60,16.5C61.93,15.93 64.32,15.42 66,15C67.68,14.58 69.02,14.25 70.1,14C71.18,13.75 71.52,13.33 72.5,13.5C73.48,13.67 75.45,14.08 76,15C76.55,15.92 75.9,17.75 75.8,19C75.7,20.25 75.62,21.25 75.4,22.5C75.18,23.75 74.78,25.43 74.5,26.5C74.22,27.57 74.2,28.07 73.7,28.9C73.2,29.73 72.95,30.95 71.5,31.5C70.05,32.05 67.25,32.07 65,32.2C62.75,32.33 59.87,32.37 58,32.3C56.13,32.23 54.5,33.18 53.8,31.8Z" fill="#fff"/><path d="M47.2,50.6C47.42,50.05 48.53,49.85 49.2,49.3C49.87,48.75 50.43,47.75 51.2,47.3C51.97,46.85 53.03,46.48 53.8,46.6C54.57,46.72 54.82,47.55 55.8,48C56.78,48.45 57.95,49.03 59.7,49.3C61.45,49.57 64.43,49.5 66.3,49.6C68.17,49.7 69.92,49.08 70.9,49.9C71.88,50.72 71.1,53.35 72.2,54.5C73.3,55.65 77.17,56.18 77.5,56.8C77.83,57.42 75.73,57.37 74.2,58.2C72.67,59.03 70.38,60.65 68.3,61.8C66.22,62.95 63.78,64.4 61.7,65.1C59.62,65.8 57.45,66.07 55.8,66C54.15,65.93 52.62,65.62 51.8,64.7C50.98,63.78 51.12,62.08 50.9,60.5C50.68,58.92 51,56.52 50.5,55.2C50,53.88 48.45,53.37 47.9,52.6C47.35,51.83 46.98,51.15 47.2,50.6Z" fill="#fff"/></g></g>
<path d="M487.02,109.3 H464.1 V179.1 H557.3 V109.3 H535.58" fill="none" stroke="#111" stroke-width="1.3"/>
<text x="511.3" y="112.2" font-size="10" text-anchor="middle" font-style="italic" fill="#222">CD27</text>
<g transform="translate(566.4,109.3)">
<path d="M13.3,36C13.17,35.1 14.63,34.43 15.5,33.8C16.37,33.17 17.65,32.73 18.5,32.2C19.35,31.67 20.02,31.25 20.6,30.6C21.18,29.95 21.47,28.47 22,28.3C22.53,28.13 23.23,29.75 23.8,29.6C24.37,29.45 24.9,27.3 25.4,27.4C25.9,27.5 26.2,29.33 26.8,30.2C27.4,31.07 28.17,31.98 29,32.6C29.83,33.22 30.93,33.45 31.8,33.9C32.67,34.35 33.3,34.68 34.2,35.3C35.1,35.92 37.2,37.25 37.2,37.6C37.2,37.95 35.2,37.17 34.2,37.4C33.2,37.63 32.23,38.45 31.2,39C30.17,39.55 29.12,40.3 28,40.7C26.88,41.1 25.83,41.35 24.5,41.4C23.17,41.45 21.37,41.37 20,41C18.63,40.63 17.42,40.03 16.3,39.2C15.18,38.37 13.43,36.9 13.3,36Z" fill="#2c728e"/>
<path d="M53.8,31.8C53.1,30.42 53.7,26.23 53.8,24C53.9,21.77 53.37,19.65 54.4,18.4C55.43,17.15 58.07,17.07 60,16.5C61.93,15.93 64.32,15.42 66,15C67.68,14.58 69.02,14.25 70.1,14C71.18,13.75 71.52,13.33 72.5,13.5C73.48,13.67 75.45,14.08 76,15C76.55,15.92 75.9,17.75 75.8,19C75.7,20.25 75.62,21.25 75.4,22.5C75.18,23.75 74.78,25.43 74.5,26.5C74.22,27.57 74.2,28.07 73.7,28.9C73.2,29.73 72.95,30.95 71.5,31.5C70.05,32.05 67.25,32.07 65,32.2C62.75,32.33 59.87,32.37 58,32.3C56.13,32.23 54.5,33.18 53.8,31.8Z" fill="#4a1a6e"/>
<path d="M47.2,50.6C47.42,50.05 48.53,49.85 49.2,49.3C49.87,48.75 50.43,47.75 51.2,47.3C51.97,46.85 53.03,46.48 53.8,46.6C54.57,46.72 54.82,47.55 55.8,48C56.78,48.45 57.95,49.03 59.7,49.3C61.45,49.57 64.43,49.5 66.3,49.6C68.17,49.7 69.92,49.08 70.9,49.9C71.88,50.72 71.1,53.35 72.2,54.5C73.3,55.65 77.17,56.18 77.5,56.8C77.83,57.42 75.73,57.37 74.2,58.2C72.67,59.03 70.38,60.65 68.3,61.8C66.22,62.95 63.78,64.4 61.7,65.1C59.62,65.8 57.45,66.07 55.8,66C54.15,65.93 52.62,65.62 51.8,64.7C50.98,63.78 51.12,62.08 50.9,60.5C50.68,58.92 51,56.52 50.5,55.2C50,53.88 48.45,53.37 47.9,52.6C47.35,51.83 46.98,51.15 47.2,50.6Z" fill="#4a1a6e"/>
<path d="M32.5,34.5C34.08,33.73 39.42,32.25 43,31.1C46.58,29.95 52.12,27.97 54,27.6C55.88,27.23 55.97,28.18 54.3,28.9C52.63,29.62 47.47,30.77 44,31.9C40.53,33.03 35.42,35.27 33.5,35.7C31.58,36.13 30.92,35.27 32.5,34.5Z" fill="#4a1a6e" opacity="0.7"/>
<ellipse cx="73.2" cy="9.4" rx="2.2" ry="4.1" transform="rotate(18 73.2 9.4)" fill="none" stroke="#4a1a6e" stroke-width="1.0" opacity="0.85"/>
<path d="M64.2,39.6 L65,45.2 M64.6,42.3 L63.3,45" stroke="#7a5a9a" stroke-width="0.6" fill="none"/>
</g>
<g clip-path="url(#c7LB)"><ellipse cx="590.9" cy="145.3" rx="9.5" ry="5.2" fill="#35b779" opacity="1" filter="url(#blur1)"/></g>
<g clip-path="url(#c7LB)"><ellipse cx="590.2" cy="146" rx="5.5" ry="3.2" fill="#c8e020" opacity="1" filter="url(#blur1)"/></g>
<g clip-path="url(#c7LWB)"><ellipse cx="624.4" cy="170.8" rx="12" ry="5" fill="#21918c" opacity="1" filter="url(#blur1)"/></g>
<g clip-path="url(#c7LWB)"><ellipse cx="624.4" cy="170.8" rx="8.5" ry="3.6" fill="#5ec962" opacity="1" filter="url(#blur1)"/></g>
<g clip-path="url(#c7LWB)"><ellipse cx="623.9" cy="171.3" rx="5" ry="2.2" fill="#c8e020" opacity="1" filter="url(#blur1)"/></g>
<g filter="url(#wspk)" opacity="0.5"><g transform="translate(566.4,109.3)"><path d="M13.3,36C13.17,35.1 14.63,34.43 15.5,33.8C16.37,33.17 17.65,32.73 18.5,32.2C19.35,31.67 20.02,31.25 20.6,30.6C21.18,29.95 21.47,28.47 22,28.3C22.53,28.13 23.23,29.75 23.8,29.6C24.37,29.45 24.9,27.3 25.4,27.4C25.9,27.5 26.2,29.33 26.8,30.2C27.4,31.07 28.17,31.98 29,32.6C29.83,33.22 30.93,33.45 31.8,33.9C32.67,34.35 33.3,34.68 34.2,35.3C35.1,35.92 37.2,37.25 37.2,37.6C37.2,37.95 35.2,37.17 34.2,37.4C33.2,37.63 32.23,38.45 31.2,39C30.17,39.55 29.12,40.3 28,40.7C26.88,41.1 25.83,41.35 24.5,41.4C23.17,41.45 21.37,41.37 20,41C18.63,40.63 17.42,40.03 16.3,39.2C15.18,38.37 13.43,36.9 13.3,36Z" fill="#fff"/><path d="M53.8,31.8C53.1,30.42 53.7,26.23 53.8,24C53.9,21.77 53.37,19.65 54.4,18.4C55.43,17.15 58.07,17.07 60,16.5C61.93,15.93 64.32,15.42 66,15C67.68,14.58 69.02,14.25 70.1,14C71.18,13.75 71.52,13.33 72.5,13.5C73.48,13.67 75.45,14.08 76,15C76.55,15.92 75.9,17.75 75.8,19C75.7,20.25 75.62,21.25 75.4,22.5C75.18,23.75 74.78,25.43 74.5,26.5C74.22,27.57 74.2,28.07 73.7,28.9C73.2,29.73 72.95,30.95 71.5,31.5C70.05,32.05 67.25,32.07 65,32.2C62.75,32.33 59.87,32.37 58,32.3C56.13,32.23 54.5,33.18 53.8,31.8Z" fill="#fff"/><path d="M47.2,50.6C47.42,50.05 48.53,49.85 49.2,49.3C49.87,48.75 50.43,47.75 51.2,47.3C51.97,46.85 53.03,46.48 53.8,46.6C54.57,46.72 54.82,47.55 55.8,48C56.78,48.45 57.95,49.03 59.7,49.3C61.45,49.57 64.43,49.5 66.3,49.6C68.17,49.7 69.92,49.08 70.9,49.9C71.88,50.72 71.1,53.35 72.2,54.5C73.3,55.65 77.17,56.18 77.5,56.8C77.83,57.42 75.73,57.37 74.2,58.2C72.67,59.03 70.38,60.65 68.3,61.8C66.22,62.95 63.78,64.4 61.7,65.1C59.62,65.8 57.45,66.07 55.8,66C54.15,65.93 52.62,65.62 51.8,64.7C50.98,63.78 51.12,62.08 50.9,60.5C50.68,58.92 51,56.52 50.5,55.2C50,53.88 48.45,53.37 47.9,52.6C47.35,51.83 46.98,51.15 47.2,50.6Z" fill="#fff"/></g></g>
<path d="M588.76,109.3 H566.4 V179.1 H659.6 V109.3 H638.44" fill="none" stroke="#111" stroke-width="1.3"/>
<text x="613.6" y="112.2" font-size="10" text-anchor="middle" font-style="italic" fill="#222">CD8A</text>
<defs><linearGradient id="vir" x1="0" y1="1" x2="0" y2="0"><stop offset="0" stop-color="#440154"/><stop offset="0.25" stop-color="#3b528b"/><stop offset="0.5" stop-color="#21918c"/><stop offset="0.75" stop-color="#5ec962"/><stop offset="1" stop-color="#fde725"/></linearGradient></defs>
<rect x="667.3" y="130" width="8.2" height="36.6" fill="url(#vir)"/>
<text x="663.6" y="124.7" font-size="10" fill="#222">High</text>
<text x="663.6" y="178.9" font-size="10" fill="#222">Low</text>
<text x="4.5" y="214" font-size="11.5" font-weight="bold" fill="#000">c</text>
<text x="106" y="225.7" font-size="12.7" text-anchor="middle" fill="#111">Combined</text>
<text x="211.4" y="225.7" font-size="12.7" text-anchor="middle" fill="#111">4m, F</text>
<text x="314.6" y="225.7" font-size="12.7" text-anchor="middle" fill="#111">5 yr, M</text>
<text x="417.5" y="225.7" font-size="12.7" text-anchor="middle" fill="#111">8 yr, F</text>
<text x="519.9" y="225.7" font-size="12.7" text-anchor="middle" fill="#111">28 yr, M</text>
<text x="25.6" y="257.6" font-size="10.3" text-anchor="middle" fill="#111">MAIT</text>
<text x="25.6" y="270.1" font-size="10.3" text-anchor="middle" fill="#111">(TRAV1-2,</text>
<text x="25.6" y="282.6" font-size="10.3" text-anchor="middle" fill="#111">n=11109)</text>
<text x="25.6" y="350.3" font-size="10.3" text-anchor="middle" fill="#111">iNKT</text>
<text x="25.6" y="362.8" font-size="10.3" text-anchor="middle" fill="#111">(TRAV10,</text>
<text x="25.6" y="375.3" font-size="10.3" text-anchor="middle" fill="#111">n=1885)</text>
<text x="25.6" y="443.5" font-size="10.3" text-anchor="middle" fill="#111">γδ T</text>
<text x="25.6" y="456" font-size="10.3" text-anchor="middle" fill="#111">(TCRD,</text>
<text x="25.6" y="468.5" font-size="10.3" text-anchor="middle" fill="#111">n=8024)</text>
<path transform="translate(63.78,213.64) scale(0.4873,0.5349)" d="M24.2,100.2C24.65,98.88 27.75,97.17 29.5,96.3C31.25,95.43 33.4,96.1 34.7,95C36,93.9 36.2,91.02 37.3,89.7C38.4,88.38 39.77,87.32 41.3,87.1C42.83,86.88 45.18,87.53 46.5,88.4C47.82,89.27 47.88,90.98 49.2,92.3C50.52,93.62 52.65,95.2 54.4,96.3C56.15,97.4 59.03,97.37 59.7,98.9C60.37,100.43 59.72,103.32 58.4,105.5C57.08,107.68 54.22,110.68 51.8,112C49.38,113.32 46.75,113.62 43.9,113.4C41.05,113.18 37.55,112.23 34.7,110.7C31.85,109.17 28.55,105.95 26.8,104.2C25.05,102.45 23.75,101.52 24.2,100.2Z" fill="#80bc30" opacity="0.7"/>
<g filter="url(#spkD)"><path transform="translate(63.78,213.64) scale(0.4873,0.5349)" d="M24.2,100.2C24.65,98.88 27.75,97.17 29.5,96.3C31.25,95.43 33.4,96.1 34.7,95C36,93.9 36.2,91.02 37.3,89.7C38.4,88.38 39.77,87.32 41.3,87.1C42.83,86.88 45.18,87.53 46.5,88.4C47.82,89.27 47.88,90.98 49.2,92.3C50.52,93.62 52.65,95.2 54.4,96.3C56.15,97.4 59.03,97.37 59.7,98.9C60.37,100.43 59.72,103.32 58.4,105.5C57.08,107.68 54.22,110.68 51.8,112C49.38,113.32 46.75,113.62 43.9,113.4C41.05,113.18 37.55,112.23 34.7,110.7C31.85,109.17 28.55,105.95 26.8,104.2C25.05,102.45 23.75,101.52 24.2,100.2Z" fill="#80bc30"/></g>
<clipPath id="k00RED"><path transform="translate(63.78,213.64) scale(0.4873,0.5349)" d="M119.7,108.8C123.2,109.38 128.28,111.18 131.4,114C134.52,116.82 136.95,121.8 138.4,125.7C139.85,129.6 140.3,133.7 140.1,137.4C139.9,141.1 139.43,144.78 137.2,147.9C134.97,151.02 131.37,153.97 126.7,156.1C122.03,158.23 114.25,160.52 109.2,160.7C104.15,160.88 100.1,159.53 96.4,157.2C92.7,154.87 88.85,150.4 87,146.7C85.15,143 84.92,138.5 85.3,135C85.68,131.5 86.68,128.8 89.3,125.7C91.92,122.6 97.48,118.93 101,116.4C104.52,113.87 107.28,111.77 110.4,110.5C113.52,109.23 116.2,108.22 119.7,108.8Z"/></clipPath>
<g clip-path="url(#k00RED)">
<ellipse transform="translate(63.78,213.64) scale(0.4873,0.5349)" cx="113" cy="135" rx="24" ry="16" fill="#eaa0a0" opacity="0.35" filter="url(#blur1)"/>
<g filter="url(#spkB)"><ellipse transform="translate(63.78,213.64) scale(0.4873,0.5349)" cx="113" cy="135" rx="24" ry="16" fill="#eaa0a0"/></g>
</g>
<clipPath id="k00RED"><path transform="translate(63.78,213.64) scale(0.4873,0.5349)" d="M119.7,108.8C123.2,109.38 128.28,111.18 131.4,114C134.52,116.82 136.95,121.8 138.4,125.7C139.85,129.6 140.3,133.7 140.1,137.4C139.9,141.1 139.43,144.78 137.2,147.9C134.97,151.02 131.37,153.97 126.7,156.1C122.03,158.23 114.25,160.52 109.2,160.7C104.15,160.88 100.1,159.53 96.4,157.2C92.7,154.87 88.85,150.4 87,146.7C85.15,143 84.92,138.5 85.3,135C85.68,131.5 86.68,128.8 89.3,125.7C91.92,122.6 97.48,118.93 101,116.4C104.52,113.87 107.28,111.77 110.4,110.5C113.52,109.23 116.2,108.22 119.7,108.8Z"/></clipPath>
<g clip-path="url(#k00RED)">
<ellipse transform="translate(63.78,213.64) scale(0.4873,0.5349)" cx="112" cy="148" rx="18" ry="11" fill="#e48888" opacity="0.5" filter="url(#blur1)"/>
<g filter="url(#spkC)"><ellipse transform="translate(63.78,213.64) scale(0.4873,0.5349)" cx="112" cy="148" rx="18" ry="11" fill="#e48888"/></g>
</g>
<g transform="translate(63.78,213.64) scale(0.4873,0.5349)">
<path d="M22.2,100.2C22.63,98.23 25.58,96.32 28.1,93.7C30.62,91.08 34.55,86.37 37.3,84.5C40.05,82.63 41.97,82.07 44.6,82.5C47.23,82.93 50.58,85.02 53.1,87.1C55.62,89.18 58.28,93.13 59.7,95C61.12,96.87 61.82,96.12 61.6,98.3C61.38,100.48 60.03,105.58 58.4,108.1C56.77,110.62 53.88,112.2 51.8,113.4C49.72,114.6 48.75,115.53 45.9,115.3C43.05,115.07 38.1,113.63 34.7,112C31.3,110.37 27.58,107.47 25.5,105.5C23.42,103.53 21.77,102.17 22.2,100.2Z" fill="none" stroke="#8cc850" stroke-width="0.75" vector-effect="non-scaling-stroke"/>
<path d="M93.8,82.1C94.52,78.27 96.1,70.55 99.2,66.8C102.3,63.05 107.47,61.15 112.4,59.6C117.33,58.05 124.23,57.03 128.8,57.5C133.37,57.97 137.25,60.13 139.8,62.4C142.35,64.67 143.73,67.08 144.1,71.1C144.47,75.12 143.27,82.67 142,86.5C140.73,90.33 140.88,92.28 136.5,94.1C132.12,95.92 121.55,97.12 115.7,97.4C109.85,97.68 104.87,97.07 101.4,95.8C97.93,94.53 96.17,92.08 94.9,89.8C93.63,87.52 93.08,85.93 93.8,82.1Z" fill="none" stroke="#d8b060" stroke-width="0.75" vector-effect="non-scaling-stroke"/>
<path d="M131,54.7C130.08,52.42 131,49.28 132.1,47C133.2,44.72 135.78,42.45 137.6,41C139.42,39.55 141.55,38.2 143,38.3C144.45,38.4 145.65,39.42 146.3,41.6C146.95,43.78 146.8,48.12 146.9,51.4C147,54.68 147.37,59.2 146.9,61.3C146.43,63.4 145.65,64.1 144.1,64C142.55,63.9 139.78,62.25 137.6,60.7C135.42,59.15 131.92,56.98 131,54.7Z" fill="none" stroke="#50c4e8" stroke-width="0.75" vector-effect="non-scaling-stroke"/>
<path d="M119.7,108.8C123.2,109.38 128.28,111.18 131.4,114C134.52,116.82 136.95,121.8 138.4,125.7C139.85,129.6 140.3,133.7 140.1,137.4C139.9,141.1 139.43,144.78 137.2,147.9C134.97,151.02 131.37,153.97 126.7,156.1C122.03,158.23 114.25,160.52 109.2,160.7C104.15,160.88 100.1,159.53 96.4,157.2C92.7,154.87 88.85,150.4 87,146.7C85.15,143 84.92,138.5 85.3,135C85.68,131.5 86.68,128.8 89.3,125.7C91.92,122.6 97.48,118.93 101,116.4C104.52,113.87 107.28,111.77 110.4,110.5C113.52,109.23 116.2,108.22 119.7,108.8Z" fill="none" stroke="#ec7070" stroke-width="0.75" vector-effect="non-scaling-stroke"/>
<path d="M139.6,143C139.93,141.83 141.6,140.25 143,139.5C144.4,138.75 146.72,138.25 148,138.5C149.28,138.75 150.45,139.92 150.7,141C150.95,142.08 150.45,143.85 149.5,145C148.55,146.15 146.42,147.65 145,147.9C143.58,148.15 141.9,147.32 141,146.5C140.1,145.68 139.27,144.17 139.6,143Z" fill="none" stroke="#e060e8" stroke-width="0.75" vector-effect="non-scaling-stroke"/>
<path d="M61,101.5C61.5,100.57 64.03,100.98 66,100.9C67.97,100.82 71.8,100.32 72.8,101C73.8,101.68 72.8,103.92 72,105C71.2,106.08 69.5,107.25 68,107.5C66.5,107.75 64.17,107.5 63,106.5C61.83,105.5 60.5,102.43 61,101.5Z" fill="none" stroke="#b070f0" stroke-width="0.75" vector-effect="non-scaling-stroke"/>
<path d="M60.5,96.5C62.83,94.83 70.5,92.58 76,90.5C81.5,88.42 90.42,84.5 93.5,84C96.58,83.5 97.08,85.83 94.5,87.5C91.92,89.17 83.42,91.83 78,94C72.58,96.17 64.92,100.08 62,100.5C59.08,100.92 58.17,98.17 60.5,96.5Z" fill="none" stroke="#40d8a8" stroke-width="0.75" vector-effect="non-scaling-stroke"/>
</g>
<rect x="58.4" y="230.6" width="95.2" height="71.2" fill="none" stroke="#111" stroke-width="1.3"/>
<path transform="translate(169.51,213.18) scale(0.4815,0.5378)" d="M24.2,100.2C24.65,98.88 27.75,97.17 29.5,96.3C31.25,95.43 33.4,96.1 34.7,95C36,93.9 36.2,91.02 37.3,89.7C38.4,88.38 39.77,87.32 41.3,87.1C42.83,86.88 45.18,87.53 46.5,88.4C47.82,89.27 47.88,90.98 49.2,92.3C50.52,93.62 52.65,95.2 54.4,96.3C56.15,97.4 59.03,97.37 59.7,98.9C60.37,100.43 59.72,103.32 58.4,105.5C57.08,107.68 54.22,110.68 51.8,112C49.38,113.32 46.75,113.62 43.9,113.4C41.05,113.18 37.55,112.23 34.7,110.7C31.85,109.17 28.55,105.95 26.8,104.2C25.05,102.45 23.75,101.52 24.2,100.2Z" fill="#a8cc80" opacity="0.15"/>
<g filter="url(#spkA)"><path transform="translate(169.51,213.18) scale(0.4815,0.5378)" d="M24.2,100.2C24.65,98.88 27.75,97.17 29.5,96.3C31.25,95.43 33.4,96.1 34.7,95C36,93.9 36.2,91.02 37.3,89.7C38.4,88.38 39.77,87.32 41.3,87.1C42.83,86.88 45.18,87.53 46.5,88.4C47.82,89.27 47.88,90.98 49.2,92.3C50.52,93.62 52.65,95.2 54.4,96.3C56.15,97.4 59.03,97.37 59.7,98.9C60.37,100.43 59.72,103.32 58.4,105.5C57.08,107.68 54.22,110.68 51.8,112C49.38,113.32 46.75,113.62 43.9,113.4C41.05,113.18 37.55,112.23 34.7,110.7C31.85,109.17 28.55,105.95 26.8,104.2C25.05,102.45 23.75,101.52 24.2,100.2Z" fill="#a8cc80"/></g>
<clipPath id="k01RED"><path transform="translate(169.51,213.18) scale(0.4815,0.5378)" d="M119.7,108.8C123.2,109.38 128.28,111.18 131.4,114C134.52,116.82 136.95,121.8 138.4,125.7C139.85,129.6 140.3,133.7 140.1,137.4C139.9,141.1 139.43,144.78 137.2,147.9C134.97,151.02 131.37,153.97 126.7,156.1C122.03,158.23 114.25,160.52 109.2,160.7C104.15,160.88 100.1,159.53 96.4,157.2C92.7,154.87 88.85,150.4 87,146.7C85.15,143 84.92,138.5 85.3,135C85.68,131.5 86.68,128.8 89.3,125.7C91.92,122.6 97.48,118.93 101,116.4C104.52,113.87 107.28,111.77 110.4,110.5C113.52,109.23 116.2,108.22 119.7,108.8Z"/></clipPath>
<g clip-path="url(#k01RED)">
<ellipse transform="translate(169.51,213.18) scale(0.4815,0.5378)" cx="116" cy="142" rx="20" ry="14" fill="#e89494" opacity="0.4" filter="url(#blur1)"/>
<g filter="url(#spkB)"><ellipse transform="translate(169.51,213.18) scale(0.4815,0.5378)" cx="116" cy="142" rx="20" ry="14" fill="#e89494"/></g>
</g>
<clipPath id="k01RED"><path transform="translate(169.51,213.18) scale(0.4815,0.5378)" d="M119.7,108.8C123.2,109.38 128.28,111.18 131.4,114C134.52,116.82 136.95,121.8 138.4,125.7C139.85,129.6 140.3,133.7 140.1,137.4C139.9,141.1 139.43,144.78 137.2,147.9C134.97,151.02 131.37,153.97 126.7,156.1C122.03,158.23 114.25,160.52 109.2,160.7C104.15,160.88 100.1,159.53 96.4,157.2C92.7,154.87 88.85,150.4 87,146.7C85.15,143 84.92,138.5 85.3,135C85.68,131.5 86.68,128.8 89.3,125.7C91.92,122.6 97.48,118.93 101,116.4C104.52,113.87 107.28,111.77 110.4,110.5C113.52,109.23 116.2,108.22 119.7,108.8Z"/></clipPath>
<g clip-path="url(#k01RED)">
<ellipse transform="translate(169.51,213.18) scale(0.4815,0.5378)" cx="114" cy="148" rx="13" ry="8" fill="#e48888" opacity="0.2" filter="url(#blur1)"/>
<g filter="url(#spkC)"><ellipse transform="translate(169.51,213.18) scale(0.4815,0.5378)" cx="114" cy="148" rx="13" ry="8" fill="#e48888"/></g>
</g>
<g transform="translate(169.51,213.18) scale(0.4815,0.5378)">
<path d="M22.2,100.2C22.63,98.23 25.58,96.32 28.1,93.7C30.62,91.08 34.55,86.37 37.3,84.5C40.05,82.63 41.97,82.07 44.6,82.5C47.23,82.93 50.58,85.02 53.1,87.1C55.62,89.18 58.28,93.13 59.7,95C61.12,96.87 61.82,96.12 61.6,98.3C61.38,100.48 60.03,105.58 58.4,108.1C56.77,110.62 53.88,112.2 51.8,113.4C49.72,114.6 48.75,115.53 45.9,115.3C43.05,115.07 38.1,113.63 34.7,112C31.3,110.37 27.58,107.47 25.5,105.5C23.42,103.53 21.77,102.17 22.2,100.2Z" fill="none" stroke="#8cc850" stroke-width="0.75" vector-effect="non-scaling-stroke"/>
<path d="M93.8,82.1C94.52,78.27 96.1,70.55 99.2,66.8C102.3,63.05 107.47,61.15 112.4,59.6C117.33,58.05 124.23,57.03 128.8,57.5C133.37,57.97 137.25,60.13 139.8,62.4C142.35,64.67 143.73,67.08 144.1,71.1C144.47,75.12 143.27,82.67 142,86.5C140.73,90.33 140.88,92.28 136.5,94.1C132.12,95.92 121.55,97.12 115.7,97.4C109.85,97.68 104.87,97.07 101.4,95.8C97.93,94.53 96.17,92.08 94.9,89.8C93.63,87.52 93.08,85.93 93.8,82.1Z" fill="none" stroke="#d8b060" stroke-width="0.75" vector-effect="non-scaling-stroke"/>
<path d="M131,54.7C130.08,52.42 131,49.28 132.1,47C133.2,44.72 135.78,42.45 137.6,41C139.42,39.55 141.55,38.2 143,38.3C144.45,38.4 145.65,39.42 146.3,41.6C146.95,43.78 146.8,48.12 146.9,51.4C147,54.68 147.37,59.2 146.9,61.3C146.43,63.4 145.65,64.1 144.1,64C142.55,63.9 139.78,62.25 137.6,60.7C135.42,59.15 131.92,56.98 131,54.7Z" fill="none" stroke="#50c4e8" stroke-width="0.75" vector-effect="non-scaling-stroke"/>
<path d="M119.7,108.8C123.2,109.38 128.28,111.18 131.4,114C134.52,116.82 136.95,121.8 138.4,125.7C139.85,129.6 140.3,133.7 140.1,137.4C139.9,141.1 139.43,144.78 137.2,147.9C134.97,151.02 131.37,153.97 126.7,156.1C122.03,158.23 114.25,160.52 109.2,160.7C104.15,160.88 100.1,159.53 96.4,157.2C92.7,154.87 88.85,150.4 87,146.7C85.15,143 84.92,138.5 85.3,135C85.68,131.5 86.68,128.8 89.3,125.7C91.92,122.6 97.48,118.93 101,116.4C104.52,113.87 107.28,111.77 110.4,110.5C113.52,109.23 116.2,108.22 119.7,108.8Z" fill="none" stroke="#ec7070" stroke-width="0.75" vector-effect="non-scaling-stroke"/>
<path d="M139.6,143C139.93,141.83 141.6,140.25 143,139.5C144.4,138.75 146.72,138.25 148,138.5C149.28,138.75 150.45,139.92 150.7,141C150.95,142.08 150.45,143.85 149.5,145C148.55,146.15 146.42,147.65 145,147.9C143.58,148.15 141.9,147.32 141,146.5C140.1,145.68 139.27,144.17 139.6,143Z" fill="none" stroke="#e060e8" stroke-width="0.75" vector-effect="non-scaling-stroke"/>
<path d="M61,101.5C61.5,100.57 64.03,100.98 66,100.9C67.97,100.82 71.8,100.32 72.8,101C73.8,101.68 72.8,103.92 72,105C71.2,106.08 69.5,107.25 68,107.5C66.5,107.75 64.17,107.5 63,106.5C61.83,105.5 60.5,102.43 61,101.5Z" fill="none" stroke="#b070f0" stroke-width="0.75" vector-effect="non-scaling-stroke"/>
<path d="M60.5,96.5C62.83,94.83 70.5,92.58 76,90.5C81.5,88.42 90.42,84.5 93.5,84C96.58,83.5 97.08,85.83 94.5,87.5C91.92,89.17 83.42,91.83 78,94C72.58,96.17 64.92,100.08 62,100.5C59.08,100.92 58.17,98.17 60.5,96.5Z" fill="none" stroke="#40d8a8" stroke-width="0.75" vector-effect="non-scaling-stroke"/>
</g>
<rect x="163.8" y="230.6" width="95.2" height="71.2" fill="none" stroke="#111" stroke-width="1.3"/>
<path transform="translate(271.92,213.33) scale(0.4856,0.5368)" d="M24.2,100.2C24.65,98.88 27.75,97.17 29.5,96.3C31.25,95.43 33.4,96.1 34.7,95C36,93.9 36.2,91.02 37.3,89.7C38.4,88.38 39.77,87.32 41.3,87.1C42.83,86.88 45.18,87.53 46.5,88.4C47.82,89.27 47.88,90.98 49.2,92.3C50.52,93.62 52.65,95.2 54.4,96.3C56.15,97.4 59.03,97.37 59.7,98.9C60.37,100.43 59.72,103.32 58.4,105.5C57.08,107.68 54.22,110.68 51.8,112C49.38,113.32 46.75,113.62 43.9,113.4C41.05,113.18 37.55,112.23 34.7,110.7C31.85,109.17 28.55,105.95 26.8,104.2C25.05,102.45 23.75,101.52 24.2,100.2Z" fill="#a8cc80" opacity="0.18"/>
<g filter="url(#spkA)"><path transform="translate(271.92,213.33) scale(0.4856,0.5368)" d="M24.2,100.2C24.65,98.88 27.75,97.17 29.5,96.3C31.25,95.43 33.4,96.1 34.7,95C36,93.9 36.2,91.02 37.3,89.7C38.4,88.38 39.77,87.32 41.3,87.1C42.83,86.88 45.18,87.53 46.5,88.4C47.82,89.27 47.88,90.98 49.2,92.3C50.52,93.62 52.65,95.2 54.4,96.3C56.15,97.4 59.03,97.37 59.7,98.9C60.37,100.43 59.72,103.32 58.4,105.5C57.08,107.68 54.22,110.68 51.8,112C49.38,113.32 46.75,113.62 43.9,113.4C41.05,113.18 37.55,112.23 34.7,110.7C31.85,109.17 28.55,105.95 26.8,104.2C25.05,102.45 23.75,101.52 24.2,100.2Z" fill="#a8cc80"/></g>
<clipPath id="k02RED"><path transform="translate(271.92,213.33) scale(0.4856,0.5368)" d="M119.7,108.8C123.2,109.38 128.28,111.18 131.4,114C134.52,116.82 136.95,121.8 138.4,125.7C139.85,129.6 140.3,133.7 140.1,137.4C139.9,141.1 139.43,144.78 137.2,147.9C134.97,151.02 131.37,153.97 126.7,156.1C122.03,158.23 114.25,160.52 109.2,160.7C104.15,160.88 100.1,159.53 96.4,157.2C92.7,154.87 88.85,150.4 87,146.7C85.15,143 84.92,138.5 85.3,135C85.68,131.5 86.68,128.8 89.3,125.7C91.92,122.6 97.48,118.93 101,116.4C104.52,113.87 107.28,111.77 110.4,110.5C113.52,109.23 116.2,108.22 119.7,108.8Z"/></clipPath>
<g clip-path="url(#k02RED)">
<ellipse transform="translate(271.92,213.33) scale(0.4856,0.5368)" cx="118" cy="143" rx="19" ry="14" fill="#e89494" opacity="0.35" filter="url(#blur1)"/>
<g filter="url(#spkB)"><ellipse transform="translate(271.92,213.33) scale(0.4856,0.5368)" cx="118" cy="143" rx="19" ry="14" fill="#e89494"/></g>
</g>
<clipPath id="k02RED"><path transform="translate(271.92,213.33) scale(0.4856,0.5368)" d="M119.7,108.8C123.2,109.38 128.28,111.18 131.4,114C134.52,116.82 136.95,121.8 138.4,125.7C139.85,129.6 140.3,133.7 140.1,137.4C139.9,141.1 139.43,144.78 137.2,147.9C134.97,151.02 131.37,153.97 126.7,156.1C122.03,158.23 114.25,160.52 109.2,160.7C104.15,160.88 100.1,159.53 96.4,157.2C92.7,154.87 88.85,150.4 87,146.7C85.15,143 84.92,138.5 85.3,135C85.68,131.5 86.68,128.8 89.3,125.7C91.92,122.6 97.48,118.93 101,116.4C104.52,113.87 107.28,111.77 110.4,110.5C113.52,109.23 116.2,108.22 119.7,108.8Z"/></clipPath>
<g clip-path="url(#k02RED)">
<ellipse transform="translate(271.92,213.33) scale(0.4856,0.5368)" cx="116" cy="150" rx="12" ry="8" fill="#e48888" opacity="0.2" filter="url(#blur1)"/>
<g filter="url(#spkC)"><ellipse transform="translate(271.92,213.33) scale(0.4856,0.5368)" cx="116" cy="150" rx="12" ry="8" fill="#e48888"/></g>
</g>
<g transform="translate(271.92,213.33) scale(0.4856,0.5368)">
<path d="M22.2,100.2C22.63,98.23 25.58,96.32 28.1,93.7C30.62,91.08 34.55,86.37 37.3,84.5C40.05,82.63 41.97,82.07 44.6,82.5C47.23,82.93 50.58,85.02 53.1,87.1C55.62,89.18 58.28,93.13 59.7,95C61.12,96.87 61.82,96.12 61.6,98.3C61.38,100.48 60.03,105.58 58.4,108.1C56.77,110.62 53.88,112.2 51.8,113.4C49.72,114.6 48.75,115.53 45.9,115.3C43.05,115.07 38.1,113.63 34.7,112C31.3,110.37 27.58,107.47 25.5,105.5C23.42,103.53 21.77,102.17 22.2,100.2Z" fill="none" stroke="#8cc850" stroke-width="0.75" vector-effect="non-scaling-stroke"/>
<path d="M93.8,82.1C94.52,78.27 96.1,70.55 99.2,66.8C102.3,63.05 107.47,61.15 112.4,59.6C117.33,58.05 124.23,57.03 128.8,57.5C133.37,57.97 137.25,60.13 139.8,62.4C142.35,64.67 143.73,67.08 144.1,71.1C144.47,75.12 143.27,82.67 142,86.5C140.73,90.33 140.88,92.28 136.5,94.1C132.12,95.92 121.55,97.12 115.7,97.4C109.85,97.68 104.87,97.07 101.4,95.8C97.93,94.53 96.17,92.08 94.9,89.8C93.63,87.52 93.08,85.93 93.8,82.1Z" fill="none" stroke="#d8b060" stroke-width="0.75" vector-effect="non-scaling-stroke"/>
<path d="M131,54.7C130.08,52.42 131,49.28 132.1,47C133.2,44.72 135.78,42.45 137.6,41C139.42,39.55 141.55,38.2 143,38.3C144.45,38.4 145.65,39.42 146.3,41.6C146.95,43.78 146.8,48.12 146.9,51.4C147,54.68 147.37,59.2 146.9,61.3C146.43,63.4 145.65,64.1 144.1,64C142.55,63.9 139.78,62.25 137.6,60.7C135.42,59.15 131.92,56.98 131,54.7Z" fill="none" stroke="#50c4e8" stroke-width="0.75" vector-effect="non-scaling-stroke"/>
<path d="M119.7,108.8C123.2,109.38 128.28,111.18 131.4,114C134.52,116.82 136.95,121.8 138.4,125.7C139.85,129.6 140.3,133.7 140.1,137.4C139.9,141.1 139.43,144.78 137.2,147.9C134.97,151.02 131.37,153.97 126.7,156.1C122.03,158.23 114.25,160.52 109.2,160.7C104.15,160.88 100.1,159.53 96.4,157.2C92.7,154.87 88.85,150.4 87,146.7C85.15,143 84.92,138.5 85.3,135C85.68,131.5 86.68,128.8 89.3,125.7C91.92,122.6 97.48,118.93 101,116.4C104.52,113.87 107.28,111.77 110.4,110.5C113.52,109.23 116.2,108.22 119.7,108.8Z" fill="none" stroke="#ec7070" stroke-width="0.75" vector-effect="non-scaling-stroke"/>
<path d="M139.6,143C139.93,141.83 141.6,140.25 143,139.5C144.4,138.75 146.72,138.25 148,138.5C149.28,138.75 150.45,139.92 150.7,141C150.95,142.08 150.45,143.85 149.5,145C148.55,146.15 146.42,147.65 145,147.9C143.58,148.15 141.9,147.32 141,146.5C140.1,145.68 139.27,144.17 139.6,143Z" fill="none" stroke="#e060e8" stroke-width="0.75" vector-effect="non-scaling-stroke"/>
<path d="M61,101.5C61.5,100.57 64.03,100.98 66,100.9C67.97,100.82 71.8,100.32 72.8,101C73.8,101.68 72.8,103.92 72,105C71.2,106.08 69.5,107.25 68,107.5C66.5,107.75 64.17,107.5 63,106.5C61.83,105.5 60.5,102.43 61,101.5Z" fill="none" stroke="#b070f0" stroke-width="0.75" vector-effect="non-scaling-stroke"/>
<path d="M60.5,96.5C62.83,94.83 70.5,92.58 76,90.5C81.5,88.42 90.42,84.5 93.5,84C96.58,83.5 97.08,85.83 94.5,87.5C91.92,89.17 83.42,91.83 78,94C72.58,96.17 64.92,100.08 62,100.5C59.08,100.92 58.17,98.17 60.5,96.5Z" fill="none" stroke="#40d8a8" stroke-width="0.75" vector-effect="non-scaling-stroke"/>
</g>
<rect x="267" y="230.6" width="95.2" height="71.2" fill="none" stroke="#111" stroke-width="1.3"/>
<path transform="translate(374.92,213.33) scale(0.4856,0.5368)" d="M24.2,100.2C24.65,98.88 27.75,97.17 29.5,96.3C31.25,95.43 33.4,96.1 34.7,95C36,93.9 36.2,91.02 37.3,89.7C38.4,88.38 39.77,87.32 41.3,87.1C42.83,86.88 45.18,87.53 46.5,88.4C47.82,89.27 47.88,90.98 49.2,92.3C50.52,93.62 52.65,95.2 54.4,96.3C56.15,97.4 59.03,97.37 59.7,98.9C60.37,100.43 59.72,103.32 58.4,105.5C57.08,107.68 54.22,110.68 51.8,112C49.38,113.32 46.75,113.62 43.9,113.4C41.05,113.18 37.55,112.23 34.7,110.7C31.85,109.17 28.55,105.95 26.8,104.2C25.05,102.45 23.75,101.52 24.2,100.2Z" fill="#90c050" opacity="0.25"/>
<g filter="url(#spkB)"><path transform="translate(374.92,213.33) scale(0.4856,0.5368)" d="M24.2,100.2C24.65,98.88 27.75,97.17 29.5,96.3C31.25,95.43 33.4,96.1 34.7,95C36,93.9 36.2,91.02 37.3,89.7C38.4,88.38 39.77,87.32 41.3,87.1C42.83,86.88 45.18,87.53 46.5,88.4C47.82,89.27 47.88,90.98 49.2,92.3C50.52,93.62 52.65,95.2 54.4,96.3C56.15,97.4 59.03,97.37 59.7,98.9C60.37,100.43 59.72,103.32 58.4,105.5C57.08,107.68 54.22,110.68 51.8,112C49.38,113.32 46.75,113.62 43.9,113.4C41.05,113.18 37.55,112.23 34.7,110.7C31.85,109.17 28.55,105.95 26.8,104.2C25.05,102.45 23.75,101.52 24.2,100.2Z" fill="#90c050"/></g>
<clipPath id="k03GREEN"><path transform="translate(374.92,213.33) scale(0.4856,0.5368)" d="M22.2,100.2C22.63,98.23 25.58,96.32 28.1,93.7C30.62,91.08 34.55,86.37 37.3,84.5C40.05,82.63 41.97,82.07 44.6,82.5C47.23,82.93 50.58,85.02 53.1,87.1C55.62,89.18 58.28,93.13 59.7,95C61.12,96.87 61.82,96.12 61.6,98.3C61.38,100.48 60.03,105.58 58.4,108.1C56.77,110.62 53.88,112.2 51.8,113.4C49.72,114.6 48.75,115.53 45.9,115.3C43.05,115.07 38.1,113.63 34.7,112C31.3,110.37 27.58,107.47 25.5,105.5C23.42,103.53 21.77,102.17 22.2,100.2Z"/></clipPath>
<g clip-path="url(#k03GREEN)">
<ellipse transform="translate(374.92,213.33) scale(0.4856,0.5368)" cx="50" cy="88" rx="9" ry="6" fill="#70a830" opacity="0.3" filter="url(#blur1)"/>
<g filter="url(#spkC)"><ellipse transform="translate(374.92,213.33) scale(0.4856,0.5368)" cx="50" cy="88" rx="9" ry="6" fill="#70a830"/></g>
</g>
<clipPath id="k03RED"><path transform="translate(374.92,213.33) scale(0.4856,0.5368)" d="M119.7,108.8C123.2,109.38 128.28,111.18 131.4,114C134.52,116.82 136.95,121.8 138.4,125.7C139.85,129.6 140.3,133.7 140.1,137.4C139.9,141.1 139.43,144.78 137.2,147.9C134.97,151.02 131.37,153.97 126.7,156.1C122.03,158.23 114.25,160.52 109.2,160.7C104.15,160.88 100.1,159.53 96.4,157.2C92.7,154.87 88.85,150.4 87,146.7C85.15,143 84.92,138.5 85.3,135C85.68,131.5 86.68,128.8 89.3,125.7C91.92,122.6 97.48,118.93 101,116.4C104.52,113.87 107.28,111.77 110.4,110.5C113.52,109.23 116.2,108.22 119.7,108.8Z"/></clipPath>
<g clip-path="url(#k03RED)">
<ellipse transform="translate(374.92,213.33) scale(0.4856,0.5368)" cx="114" cy="142" rx="20" ry="14" fill="#e89494" opacity="0.35" filter="url(#blur1)"/>
<g filter="url(#spkB)"><ellipse transform="translate(374.92,213.33) scale(0.4856,0.5368)" cx="114" cy="142" rx="20" ry="14" fill="#e89494"/></g>
</g>
<clipPath id="k03RED"><path transform="translate(374.92,213.33) scale(0.4856,0.5368)" d="M119.7,108.8C123.2,109.38 128.28,111.18 131.4,114C134.52,116.82 136.95,121.8 138.4,125.7C139.85,129.6 140.3,133.7 140.1,137.4C139.9,141.1 139.43,144.78 137.2,147.9C134.97,151.02 131.37,153.97 126.7,156.1C122.03,158.23 114.25,160.52 109.2,160.7C104.15,160.88 100.1,159.53 96.4,157.2C92.7,154.87 88.85,150.4 87,146.7C85.15,143 84.92,138.5 85.3,135C85.68,131.5 86.68,128.8 89.3,125.7C91.92,122.6 97.48,118.93 101,116.4C104.52,113.87 107.28,111.77 110.4,110.5C113.52,109.23 116.2,108.22 119.7,108.8Z"/></clipPath>
<g clip-path="url(#k03RED)">
<ellipse transform="translate(374.92,213.33) scale(0.4856,0.5368)" cx="108" cy="150" rx="12" ry="8" fill="#e07878" opacity="0.4" filter="url(#blur1)"/>
<g filter="url(#spkC)"><ellipse transform="translate(374.92,213.33) scale(0.4856,0.5368)" cx="108" cy="150" rx="12" ry="8" fill="#e07878"/></g>
</g>
<g transform="translate(374.92,213.33) scale(0.4856,0.5368)">
<path d="M22.2,100.2C22.63,98.23 25.58,96.32 28.1,93.7C30.62,91.08 34.55,86.37 37.3,84.5C40.05,82.63 41.97,82.07 44.6,82.5C47.23,82.93 50.58,85.02 53.1,87.1C55.62,89.18 58.28,93.13 59.7,95C61.12,96.87 61.82,96.12 61.6,98.3C61.38,100.48 60.03,105.58 58.4,108.1C56.77,110.62 53.88,112.2 51.8,113.4C49.72,114.6 48.75,115.53 45.9,115.3C43.05,115.07 38.1,113.63 34.7,112C31.3,110.37 27.58,107.47 25.5,105.5C23.42,103.53 21.77,102.17 22.2,100.2Z" fill="none" stroke="#8cc850" stroke-width="0.75" vector-effect="non-scaling-stroke"/>
<path d="M93.8,82.1C94.52,78.27 96.1,70.55 99.2,66.8C102.3,63.05 107.47,61.15 112.4,59.6C117.33,58.05 124.23,57.03 128.8,57.5C133.37,57.97 137.25,60.13 139.8,62.4C142.35,64.67 143.73,67.08 144.1,71.1C144.47,75.12 143.27,82.67 142,86.5C140.73,90.33 140.88,92.28 136.5,94.1C132.12,95.92 121.55,97.12 115.7,97.4C109.85,97.68 104.87,97.07 101.4,95.8C97.93,94.53 96.17,92.08 94.9,89.8C93.63,87.52 93.08,85.93 93.8,82.1Z" fill="none" stroke="#d8b060" stroke-width="0.75" vector-effect="non-scaling-stroke"/>
<path d="M131,54.7C130.08,52.42 131,49.28 132.1,47C133.2,44.72 135.78,42.45 137.6,41C139.42,39.55 141.55,38.2 143,38.3C144.45,38.4 145.65,39.42 146.3,41.6C146.95,43.78 146.8,48.12 146.9,51.4C147,54.68 147.37,59.2 146.9,61.3C146.43,63.4 145.65,64.1 144.1,64C142.55,63.9 139.78,62.25 137.6,60.7C135.42,59.15 131.92,56.98 131,54.7Z" fill="none" stroke="#50c4e8" stroke-width="0.75" vector-effect="non-scaling-stroke"/>
<path d="M119.7,108.8C123.2,109.38 128.28,111.18 131.4,114C134.52,116.82 136.95,121.8 138.4,125.7C139.85,129.6 140.3,133.7 140.1,137.4C139.9,141.1 139.43,144.78 137.2,147.9C134.97,151.02 131.37,153.97 126.7,156.1C122.03,158.23 114.25,160.52 109.2,160.7C104.15,160.88 100.1,159.53 96.4,157.2C92.7,154.87 88.85,150.4 87,146.7C85.15,143 84.92,138.5 85.3,135C85.68,131.5 86.68,128.8 89.3,125.7C91.92,122.6 97.48,118.93 101,116.4C104.52,113.87 107.28,111.77 110.4,110.5C113.52,109.23 116.2,108.22 119.7,108.8Z" fill="none" stroke="#ec7070" stroke-width="0.75" vector-effect="non-scaling-stroke"/>
<path d="M139.6,143C139.93,141.83 141.6,140.25 143,139.5C144.4,138.75 146.72,138.25 148,138.5C149.28,138.75 150.45,139.92 150.7,141C150.95,142.08 150.45,143.85 149.5,145C148.55,146.15 146.42,147.65 145,147.9C143.58,148.15 141.9,147.32 141,146.5C140.1,145.68 139.27,144.17 139.6,143Z" fill="none" stroke="#e060e8" stroke-width="0.75" vector-effect="non-scaling-stroke"/>
<path d="M61,101.5C61.5,100.57 64.03,100.98 66,100.9C67.97,100.82 71.8,100.32 72.8,101C73.8,101.68 72.8,103.92 72,105C71.2,106.08 69.5,107.25 68,107.5C66.5,107.75 64.17,107.5 63,106.5C61.83,105.5 60.5,102.43 61,101.5Z" fill="none" stroke="#b070f0" stroke-width="0.75" vector-effect="non-scaling-stroke"/>
<path d="M60.5,96.5C62.83,94.83 70.5,92.58 76,90.5C81.5,88.42 90.42,84.5 93.5,84C96.58,83.5 97.08,85.83 94.5,87.5C91.92,89.17 83.42,91.83 78,94C72.58,96.17 64.92,100.08 62,100.5C59.08,100.92 58.17,98.17 60.5,96.5Z" fill="none" stroke="#40d8a8" stroke-width="0.75" vector-effect="non-scaling-stroke"/>
</g>
<rect x="369.9" y="230.6" width="95.2" height="71.2" fill="none" stroke="#111" stroke-width="1.3"/>
<path transform="translate(480.19,213.07) scale(0.4733,0.5310)" d="M24.2,100.2C24.65,98.88 27.75,97.17 29.5,96.3C31.25,95.43 33.4,96.1 34.7,95C36,93.9 36.2,91.02 37.3,89.7C38.4,88.38 39.77,87.32 41.3,87.1C42.83,86.88 45.18,87.53 46.5,88.4C47.82,89.27 47.88,90.98 49.2,92.3C50.52,93.62 52.65,95.2 54.4,96.3C56.15,97.4 59.03,97.37 59.7,98.9C60.37,100.43 59.72,103.32 58.4,105.5C57.08,107.68 54.22,110.68 51.8,112C49.38,113.32 46.75,113.62 43.9,113.4C41.05,113.18 37.55,112.23 34.7,110.7C31.85,109.17 28.55,105.95 26.8,104.2C25.05,102.45 23.75,101.52 24.2,100.2Z" fill="#80bc30" opacity="0.65"/>
<g filter="url(#spkD)"><path transform="translate(480.19,213.07) scale(0.4733,0.5310)" d="M24.2,100.2C24.65,98.88 27.75,97.17 29.5,96.3C31.25,95.43 33.4,96.1 34.7,95C36,93.9 36.2,91.02 37.3,89.7C38.4,88.38 39.77,87.32 41.3,87.1C42.83,86.88 45.18,87.53 46.5,88.4C47.82,89.27 47.88,90.98 49.2,92.3C50.52,93.62 52.65,95.2 54.4,96.3C56.15,97.4 59.03,97.37 59.7,98.9C60.37,100.43 59.72,103.32 58.4,105.5C57.08,107.68 54.22,110.68 51.8,112C49.38,113.32 46.75,113.62 43.9,113.4C41.05,113.18 37.55,112.23 34.7,110.7C31.85,109.17 28.55,105.95 26.8,104.2C25.05,102.45 23.75,101.52 24.2,100.2Z" fill="#80bc30"/></g>
<clipPath id="k04RED"><path transform="translate(480.19,213.07) scale(0.4733,0.5310)" d="M119.7,108.8C123.2,109.38 128.28,111.18 131.4,114C134.52,116.82 136.95,121.8 138.4,125.7C139.85,129.6 140.3,133.7 140.1,137.4C139.9,141.1 139.43,144.78 137.2,147.9C134.97,151.02 131.37,153.97 126.7,156.1C122.03,158.23 114.25,160.52 109.2,160.7C104.15,160.88 100.1,159.53 96.4,157.2C92.7,154.87 88.85,150.4 87,146.7C85.15,143 84.92,138.5 85.3,135C85.68,131.5 86.68,128.8 89.3,125.7C91.92,122.6 97.48,118.93 101,116.4C104.52,113.87 107.28,111.77 110.4,110.5C113.52,109.23 116.2,108.22 119.7,108.8Z"/></clipPath>
<g clip-path="url(#k04RED)">
<ellipse transform="translate(480.19,213.07) scale(0.4733,0.5310)" cx="115" cy="140" rx="22" ry="16" fill="#eaa0a0" opacity="0.1" filter="url(#blur1)"/>
<g filter="url(#spkA)"><ellipse transform="translate(480.19,213.07) scale(0.4733,0.5310)" cx="115" cy="140" rx="22" ry="16" fill="#eaa0a0"/></g>
</g>
<g transform="translate(480.19,213.07) scale(0.4733,0.5310)">
<path d="M22.2,100.2C22.63,98.23 25.58,96.32 28.1,93.7C30.62,91.08 34.55,86.37 37.3,84.5C40.05,82.63 41.97,82.07 44.6,82.5C47.23,82.93 50.58,85.02 53.1,87.1C55.62,89.18 58.28,93.13 59.7,95C61.12,96.87 61.82,96.12 61.6,98.3C61.38,100.48 60.03,105.58 58.4,108.1C56.77,110.62 53.88,112.2 51.8,113.4C49.72,114.6 48.75,115.53 45.9,115.3C43.05,115.07 38.1,113.63 34.7,112C31.3,110.37 27.58,107.47 25.5,105.5C23.42,103.53 21.77,102.17 22.2,100.2Z" fill="none" stroke="#8cc850" stroke-width="0.75" vector-effect="non-scaling-stroke"/>
<path d="M93.8,82.1C94.52,78.27 96.1,70.55 99.2,66.8C102.3,63.05 107.47,61.15 112.4,59.6C117.33,58.05 124.23,57.03 128.8,57.5C133.37,57.97 137.25,60.13 139.8,62.4C142.35,64.67 143.73,67.08 144.1,71.1C144.47,75.12 143.27,82.67 142,86.5C140.73,90.33 140.88,92.28 136.5,94.1C132.12,95.92 121.55,97.12 115.7,97.4C109.85,97.68 104.87,97.07 101.4,95.8C97.93,94.53 96.17,92.08 94.9,89.8C93.63,87.52 93.08,85.93 93.8,82.1Z" fill="none" stroke="#d8b060" stroke-width="0.75" vector-effect="non-scaling-stroke"/>
<path d="M131,54.7C130.08,52.42 131,49.28 132.1,47C133.2,44.72 135.78,42.45 137.6,41C139.42,39.55 141.55,38.2 143,38.3C144.45,38.4 145.65,39.42 146.3,41.6C146.95,43.78 146.8,48.12 146.9,51.4C147,54.68 147.37,59.2 146.9,61.3C146.43,63.4 145.65,64.1 144.1,64C142.55,63.9 139.78,62.25 137.6,60.7C135.42,59.15 131.92,56.98 131,54.7Z" fill="none" stroke="#50c4e8" stroke-width="0.75" vector-effect="non-scaling-stroke"/>
<path d="M119.7,108.8C123.2,109.38 128.28,111.18 131.4,114C134.52,116.82 136.95,121.8 138.4,125.7C139.85,129.6 140.3,133.7 140.1,137.4C139.9,141.1 139.43,144.78 137.2,147.9C134.97,151.02 131.37,153.97 126.7,156.1C122.03,158.23 114.25,160.52 109.2,160.7C104.15,160.88 100.1,159.53 96.4,157.2C92.7,154.87 88.85,150.4 87,146.7C85.15,143 84.92,138.5 85.3,135C85.68,131.5 86.68,128.8 89.3,125.7C91.92,122.6 97.48,118.93 101,116.4C104.52,113.87 107.28,111.77 110.4,110.5C113.52,109.23 116.2,108.22 119.7,108.8Z" fill="none" stroke="#ec7070" stroke-width="0.75" vector-effect="non-scaling-stroke"/>
<path d="M139.6,143C139.93,141.83 141.6,140.25 143,139.5C144.4,138.75 146.72,138.25 148,138.5C149.28,138.75 150.45,139.92 150.7,141C150.95,142.08 150.45,143.85 149.5,145C148.55,146.15 146.42,147.65 145,147.9C143.58,148.15 141.9,147.32 141,146.5C140.1,145.68 139.27,144.17 139.6,143Z" fill="none" stroke="#e060e8" stroke-width="0.75" vector-effect="non-scaling-stroke"/>
<path d="M61,101.5C61.5,100.57 64.03,100.98 66,100.9C67.97,100.82 71.8,100.32 72.8,101C73.8,101.68 72.8,103.92 72,105C71.2,106.08 69.5,107.25 68,107.5C66.5,107.75 64.17,107.5 63,106.5C61.83,105.5 60.5,102.43 61,101.5Z" fill="none" stroke="#b070f0" stroke-width="0.75" vector-effect="non-scaling-stroke"/>
<path d="M60.5,96.5C62.83,94.83 70.5,92.58 76,90.5C81.5,88.42 90.42,84.5 93.5,84C96.58,83.5 97.08,85.83 94.5,87.5C91.92,89.17 83.42,91.83 78,94C72.58,96.17 64.92,100.08 62,100.5C59.08,100.92 58.17,98.17 60.5,96.5Z" fill="none" stroke="#40d8a8" stroke-width="0.75" vector-effect="non-scaling-stroke"/>
</g>
<rect x="472.3" y="230.6" width="95.2" height="71.2" fill="none" stroke="#111" stroke-width="1.3"/>
<path transform="translate(64.93,306.18) scale(0.4717,0.5378)" d="M24.2,100.2C24.65,98.88 27.75,97.17 29.5,96.3C31.25,95.43 33.4,96.1 34.7,95C36,93.9 36.2,91.02 37.3,89.7C38.4,88.38 39.77,87.32 41.3,87.1C42.83,86.88 45.18,87.53 46.5,88.4C47.82,89.27 47.88,90.98 49.2,92.3C50.52,93.62 52.65,95.2 54.4,96.3C56.15,97.4 59.03,97.37 59.7,98.9C60.37,100.43 59.72,103.32 58.4,105.5C57.08,107.68 54.22,110.68 51.8,112C49.38,113.32 46.75,113.62 43.9,113.4C41.05,113.18 37.55,112.23 34.7,110.7C31.85,109.17 28.55,105.95 26.8,104.2C25.05,102.45 23.75,101.52 24.2,100.2Z" fill="#b0d080" opacity="0.1"/>
<g filter="url(#spkA)"><path transform="translate(64.93,306.18) scale(0.4717,0.5378)" d="M24.2,100.2C24.65,98.88 27.75,97.17 29.5,96.3C31.25,95.43 33.4,96.1 34.7,95C36,93.9 36.2,91.02 37.3,89.7C38.4,88.38 39.77,87.32 41.3,87.1C42.83,86.88 45.18,87.53 46.5,88.4C47.82,89.27 47.88,90.98 49.2,92.3C50.52,93.62 52.65,95.2 54.4,96.3C56.15,97.4 59.03,97.37 59.7,98.9C60.37,100.43 59.72,103.32 58.4,105.5C57.08,107.68 54.22,110.68 51.8,112C49.38,113.32 46.75,113.62 43.9,113.4C41.05,113.18 37.55,112.23 34.7,110.7C31.85,109.17 28.55,105.95 26.8,104.2C25.05,102.45 23.75,101.52 24.2,100.2Z" fill="#b0d080"/></g>
<clipPath id="k10RED"><path transform="translate(64.93,306.18) scale(0.4717,0.5378)" d="M119.7,108.8C123.2,109.38 128.28,111.18 131.4,114C134.52,116.82 136.95,121.8 138.4,125.7C139.85,129.6 140.3,133.7 140.1,137.4C139.9,141.1 139.43,144.78 137.2,147.9C134.97,151.02 131.37,153.97 126.7,156.1C122.03,158.23 114.25,160.52 109.2,160.7C104.15,160.88 100.1,159.53 96.4,157.2C92.7,154.87 88.85,150.4 87,146.7C85.15,143 84.92,138.5 85.3,135C85.68,131.5 86.68,128.8 89.3,125.7C91.92,122.6 97.48,118.93 101,116.4C104.52,113.87 107.28,111.77 110.4,110.5C113.52,109.23 116.2,108.22 119.7,108.8Z"/></clipPath>
<g clip-path="url(#k10RED)">
<ellipse transform="translate(64.93,306.18) scale(0.4717,0.5378)" cx="113" cy="129.5" rx="21" ry="7.5" fill="#e07878" opacity="0.45" filter="url(#blur1)"/>
<g filter="url(#spkC)"><ellipse transform="translate(64.93,306.18) scale(0.4717,0.5378)" cx="113" cy="129.5" rx="21" ry="7.5" fill="#e07878"/></g>
</g>
<clipPath id="k10RED"><path transform="translate(64.93,306.18) scale(0.4717,0.5378)" d="M119.7,108.8C123.2,109.38 128.28,111.18 131.4,114C134.52,116.82 136.95,121.8 138.4,125.7C139.85,129.6 140.3,133.7 140.1,137.4C139.9,141.1 139.43,144.78 137.2,147.9C134.97,151.02 131.37,153.97 126.7,156.1C122.03,158.23 114.25,160.52 109.2,160.7C104.15,160.88 100.1,159.53 96.4,157.2C92.7,154.87 88.85,150.4 87,146.7C85.15,143 84.92,138.5 85.3,135C85.68,131.5 86.68,128.8 89.3,125.7C91.92,122.6 97.48,118.93 101,116.4C104.52,113.87 107.28,111.77 110.4,110.5C113.52,109.23 116.2,108.22 119.7,108.8Z"/></clipPath>
<g clip-path="url(#k10RED)">
<ellipse transform="translate(64.93,306.18) scale(0.4717,0.5378)" cx="113" cy="145" rx="20" ry="14" fill="#eaa0a0" opacity="0.15" filter="url(#blur1)"/>
<g filter="url(#spkA)"><ellipse transform="translate(64.93,306.18) scale(0.4717,0.5378)" cx="113" cy="145" rx="20" ry="14" fill="#eaa0a0"/></g>
</g>
<g transform="translate(64.93,306.18) scale(0.4717,0.5378)">
<path d="M22.2,100.2C22.63,98.23 25.58,96.32 28.1,93.7C30.62,91.08 34.55,86.37 37.3,84.5C40.05,82.63 41.97,82.07 44.6,82.5C47.23,82.93 50.58,85.02 53.1,87.1C55.62,89.18 58.28,93.13 59.7,95C61.12,96.87 61.82,96.12 61.6,98.3C61.38,100.48 60.03,105.58 58.4,108.1C56.77,110.62 53.88,112.2 51.8,113.4C49.72,114.6 48.75,115.53 45.9,115.3C43.05,115.07 38.1,113.63 34.7,112C31.3,110.37 27.58,107.47 25.5,105.5C23.42,103.53 21.77,102.17 22.2,100.2Z" fill="none" stroke="#8cc850" stroke-width="0.75" vector-effect="non-scaling-stroke"/>
<path d="M93.8,82.1C94.52,78.27 96.1,70.55 99.2,66.8C102.3,63.05 107.47,61.15 112.4,59.6C117.33,58.05 124.23,57.03 128.8,57.5C133.37,57.97 137.25,60.13 139.8,62.4C142.35,64.67 143.73,67.08 144.1,71.1C144.47,75.12 143.27,82.67 142,86.5C140.73,90.33 140.88,92.28 136.5,94.1C132.12,95.92 121.55,97.12 115.7,97.4C109.85,97.68 104.87,97.07 101.4,95.8C97.93,94.53 96.17,92.08 94.9,89.8C93.63,87.52 93.08,85.93 93.8,82.1Z" fill="none" stroke="#d8b060" stroke-width="0.75" vector-effect="non-scaling-stroke"/>
<path d="M131,54.7C130.08,52.42 131,49.28 132.1,47C133.2,44.72 135.78,42.45 137.6,41C139.42,39.55 141.55,38.2 143,38.3C144.45,38.4 145.65,39.42 146.3,41.6C146.95,43.78 146.8,48.12 146.9,51.4C147,54.68 147.37,59.2 146.9,61.3C146.43,63.4 145.65,64.1 144.1,64C142.55,63.9 139.78,62.25 137.6,60.7C135.42,59.15 131.92,56.98 131,54.7Z" fill="none" stroke="#50c4e8" stroke-width="0.75" vector-effect="non-scaling-stroke"/>
<path d="M119.7,108.8C123.2,109.38 128.28,111.18 131.4,114C134.52,116.82 136.95,121.8 138.4,125.7C139.85,129.6 140.3,133.7 140.1,137.4C139.9,141.1 139.43,144.78 137.2,147.9C134.97,151.02 131.37,153.97 126.7,156.1C122.03,158.23 114.25,160.52 109.2,160.7C104.15,160.88 100.1,159.53 96.4,157.2C92.7,154.87 88.85,150.4 87,146.7C85.15,143 84.92,138.5 85.3,135C85.68,131.5 86.68,128.8 89.3,125.7C91.92,122.6 97.48,118.93 101,116.4C104.52,113.87 107.28,111.77 110.4,110.5C113.52,109.23 116.2,108.22 119.7,108.8Z" fill="none" stroke="#ec7070" stroke-width="0.75" vector-effect="non-scaling-stroke"/>
<path d="M139.6,143C139.93,141.83 141.6,140.25 143,139.5C144.4,138.75 146.72,138.25 148,138.5C149.28,138.75 150.45,139.92 150.7,141C150.95,142.08 150.45,143.85 149.5,145C148.55,146.15 146.42,147.65 145,147.9C143.58,148.15 141.9,147.32 141,146.5C140.1,145.68 139.27,144.17 139.6,143Z" fill="none" stroke="#e060e8" stroke-width="0.75" vector-effect="non-scaling-stroke"/>
<path d="M61,101.5C61.5,100.57 64.03,100.98 66,100.9C67.97,100.82 71.8,100.32 72.8,101C73.8,101.68 72.8,103.92 72,105C71.2,106.08 69.5,107.25 68,107.5C66.5,107.75 64.17,107.5 63,106.5C61.83,105.5 60.5,102.43 61,101.5Z" fill="none" stroke="#b070f0" stroke-width="0.75" vector-effect="non-scaling-stroke"/>
<path d="M60.5,96.5C62.83,94.83 70.5,92.58 76,90.5C81.5,88.42 90.42,84.5 93.5,84C96.58,83.5 97.08,85.83 94.5,87.5C91.92,89.17 83.42,91.83 78,94C72.58,96.17 64.92,100.08 62,100.5C59.08,100.92 58.17,98.17 60.5,96.5Z" fill="none" stroke="#40d8a8" stroke-width="0.75" vector-effect="non-scaling-stroke"/>
</g>
<rect x="58.4" y="323.3" width="95.2" height="71" fill="none" stroke="#111" stroke-width="1.3"/>
<path transform="translate(173.22,306.23) scale(0.4495,0.5281)" d="M24.2,100.2C24.65,98.88 27.75,97.17 29.5,96.3C31.25,95.43 33.4,96.1 34.7,95C36,93.9 36.2,91.02 37.3,89.7C38.4,88.38 39.77,87.32 41.3,87.1C42.83,86.88 45.18,87.53 46.5,88.4C47.82,89.27 47.88,90.98 49.2,92.3C50.52,93.62 52.65,95.2 54.4,96.3C56.15,97.4 59.03,97.37 59.7,98.9C60.37,100.43 59.72,103.32 58.4,105.5C57.08,107.68 54.22,110.68 51.8,112C49.38,113.32 46.75,113.62 43.9,113.4C41.05,113.18 37.55,112.23 34.7,110.7C31.85,109.17 28.55,105.95 26.8,104.2C25.05,102.45 23.75,101.52 24.2,100.2Z" fill="#a8cc80" opacity="0.12"/>
<g filter="url(#spkA)"><path transform="translate(173.22,306.23) scale(0.4495,0.5281)" d="M24.2,100.2C24.65,98.88 27.75,97.17 29.5,96.3C31.25,95.43 33.4,96.1 34.7,95C36,93.9 36.2,91.02 37.3,89.7C38.4,88.38 39.77,87.32 41.3,87.1C42.83,86.88 45.18,87.53 46.5,88.4C47.82,89.27 47.88,90.98 49.2,92.3C50.52,93.62 52.65,95.2 54.4,96.3C56.15,97.4 59.03,97.37 59.7,98.9C60.37,100.43 59.72,103.32 58.4,105.5C57.08,107.68 54.22,110.68 51.8,112C49.38,113.32 46.75,113.62 43.9,113.4C41.05,113.18 37.55,112.23 34.7,110.7C31.85,109.17 28.55,105.95 26.8,104.2C25.05,102.45 23.75,101.52 24.2,100.2Z" fill="#a8cc80"/></g>
<clipPath id="k11RED"><path transform="translate(173.22,306.23) scale(0.4495,0.5281)" d="M119.7,108.8C123.2,109.38 128.28,111.18 131.4,114C134.52,116.82 136.95,121.8 138.4,125.7C139.85,129.6 140.3,133.7 140.1,137.4C139.9,141.1 139.43,144.78 137.2,147.9C134.97,151.02 131.37,153.97 126.7,156.1C122.03,158.23 114.25,160.52 109.2,160.7C104.15,160.88 100.1,159.53 96.4,157.2C92.7,154.87 88.85,150.4 87,146.7C85.15,143 84.92,138.5 85.3,135C85.68,131.5 86.68,128.8 89.3,125.7C91.92,122.6 97.48,118.93 101,116.4C104.52,113.87 107.28,111.77 110.4,110.5C113.52,109.23 116.2,108.22 119.7,108.8Z"/></clipPath>
<g clip-path="url(#k11RED)">
<ellipse transform="translate(173.22,306.23) scale(0.4495,0.5281)" cx="113" cy="130" rx="18" ry="7" fill="#e07878" opacity="0.35" filter="url(#blur1)"/>
<g filter="url(#spkC)"><ellipse transform="translate(173.22,306.23) scale(0.4495,0.5281)" cx="113" cy="130" rx="18" ry="7" fill="#e07878"/></g>
</g>
<clipPath id="k11RED"><path transform="translate(173.22,306.23) scale(0.4495,0.5281)" d="M119.7,108.8C123.2,109.38 128.28,111.18 131.4,114C134.52,116.82 136.95,121.8 138.4,125.7C139.85,129.6 140.3,133.7 140.1,137.4C139.9,141.1 139.43,144.78 137.2,147.9C134.97,151.02 131.37,153.97 126.7,156.1C122.03,158.23 114.25,160.52 109.2,160.7C104.15,160.88 100.1,159.53 96.4,157.2C92.7,154.87 88.85,150.4 87,146.7C85.15,143 84.92,138.5 85.3,135C85.68,131.5 86.68,128.8 89.3,125.7C91.92,122.6 97.48,118.93 101,116.4C104.52,113.87 107.28,111.77 110.4,110.5C113.52,109.23 116.2,108.22 119.7,108.8Z"/></clipPath>
<g clip-path="url(#k11RED)">
<ellipse transform="translate(173.22,306.23) scale(0.4495,0.5281)" cx="113" cy="145" rx="20" ry="14" fill="#eaa0a0" opacity="0.12" filter="url(#blur1)"/>
<g filter="url(#spkA)"><ellipse transform="translate(173.22,306.23) scale(0.4495,0.5281)" cx="113" cy="145" rx="20" ry="14" fill="#eaa0a0"/></g>
</g>
<g transform="translate(173.22,306.23) scale(0.4495,0.5281)">
<path d="M22.2,100.2C22.63,98.23 25.58,96.32 28.1,93.7C30.62,91.08 34.55,86.37 37.3,84.5C40.05,82.63 41.97,82.07 44.6,82.5C47.23,82.93 50.58,85.02 53.1,87.1C55.62,89.18 58.28,93.13 59.7,95C61.12,96.87 61.82,96.12 61.6,98.3C61.38,100.48 60.03,105.58 58.4,108.1C56.77,110.62 53.88,112.2 51.8,113.4C49.72,114.6 48.75,115.53 45.9,115.3C43.05,115.07 38.1,113.63 34.7,112C31.3,110.37 27.58,107.47 25.5,105.5C23.42,103.53 21.77,102.17 22.2,100.2Z" fill="none" stroke="#8cc850" stroke-width="0.75" vector-effect="non-scaling-stroke"/>
<path d="M93.8,82.1C94.52,78.27 96.1,70.55 99.2,66.8C102.3,63.05 107.47,61.15 112.4,59.6C117.33,58.05 124.23,57.03 128.8,57.5C133.37,57.97 137.25,60.13 139.8,62.4C142.35,64.67 143.73,67.08 144.1,71.1C144.47,75.12 143.27,82.67 142,86.5C140.73,90.33 140.88,92.28 136.5,94.1C132.12,95.92 121.55,97.12 115.7,97.4C109.85,97.68 104.87,97.07 101.4,95.8C97.93,94.53 96.17,92.08 94.9,89.8C93.63,87.52 93.08,85.93 93.8,82.1Z" fill="none" stroke="#d8b060" stroke-width="0.75" vector-effect="non-scaling-stroke"/>
<path d="M131,54.7C130.08,52.42 131,49.28 132.1,47C133.2,44.72 135.78,42.45 137.6,41C139.42,39.55 141.55,38.2 143,38.3C144.45,38.4 145.65,39.42 146.3,41.6C146.95,43.78 146.8,48.12 146.9,51.4C147,54.68 147.37,59.2 146.9,61.3C146.43,63.4 145.65,64.1 144.1,64C142.55,63.9 139.78,62.25 137.6,60.7C135.42,59.15 131.92,56.98 131,54.7Z" fill="none" stroke="#50c4e8" stroke-width="0.75" vector-effect="non-scaling-stroke"/>
<path d="M119.7,108.8C123.2,109.38 128.28,111.18 131.4,114C134.52,116.82 136.95,121.8 138.4,125.7C139.85,129.6 140.3,133.7 140.1,137.4C139.9,141.1 139.43,144.78 137.2,147.9C134.97,151.02 131.37,153.97 126.7,156.1C122.03,158.23 114.25,160.52 109.2,160.7C104.15,160.88 100.1,159.53 96.4,157.2C92.7,154.87 88.85,150.4 87,146.7C85.15,143 84.92,138.5 85.3,135C85.68,131.5 86.68,128.8 89.3,125.7C91.92,122.6 97.48,118.93 101,116.4C104.52,113.87 107.28,111.77 110.4,110.5C113.52,109.23 116.2,108.22 119.7,108.8Z" fill="none" stroke="#ec7070" stroke-width="0.75" vector-effect="non-scaling-stroke"/>
<path d="M139.6,143C139.93,141.83 141.6,140.25 143,139.5C144.4,138.75 146.72,138.25 148,138.5C149.28,138.75 150.45,139.92 150.7,141C150.95,142.08 150.45,143.85 149.5,145C148.55,146.15 146.42,147.65 145,147.9C143.58,148.15 141.9,147.32 141,146.5C140.1,145.68 139.27,144.17 139.6,143Z" fill="none" stroke="#e060e8" stroke-width="0.75" vector-effect="non-scaling-stroke"/>
<path d="M61,101.5C61.5,100.57 64.03,100.98 66,100.9C67.97,100.82 71.8,100.32 72.8,101C73.8,101.68 72.8,103.92 72,105C71.2,106.08 69.5,107.25 68,107.5C66.5,107.75 64.17,107.5 63,106.5C61.83,105.5 60.5,102.43 61,101.5Z" fill="none" stroke="#b070f0" stroke-width="0.75" vector-effect="non-scaling-stroke"/>
<path d="M60.5,96.5C62.83,94.83 70.5,92.58 76,90.5C81.5,88.42 90.42,84.5 93.5,84C96.58,83.5 97.08,85.83 94.5,87.5C91.92,89.17 83.42,91.83 78,94C72.58,96.17 64.92,100.08 62,100.5C59.08,100.92 58.17,98.17 60.5,96.5Z" fill="none" stroke="#40d8a8" stroke-width="0.75" vector-effect="non-scaling-stroke"/>
</g>
<rect x="163.8" y="323.3" width="95.2" height="71" fill="none" stroke="#111" stroke-width="1.3"/>
<clipPath id="k12RED"><path transform="translate(272.31,307.01) scale(0.4906,0.5233)" d="M119.7,108.8C123.2,109.38 128.28,111.18 131.4,114C134.52,116.82 136.95,121.8 138.4,125.7C139.85,129.6 140.3,133.7 140.1,137.4C139.9,141.1 139.43,144.78 137.2,147.9C134.97,151.02 131.37,153.97 126.7,156.1C122.03,158.23 114.25,160.52 109.2,160.7C104.15,160.88 100.1,159.53 96.4,157.2C92.7,154.87 88.85,150.4 87,146.7C85.15,143 84.92,138.5 85.3,135C85.68,131.5 86.68,128.8 89.3,125.7C91.92,122.6 97.48,118.93 101,116.4C104.52,113.87 107.28,111.77 110.4,110.5C113.52,109.23 116.2,108.22 119.7,108.8Z"/></clipPath>
<g clip-path="url(#k12RED)">
<ellipse transform="translate(272.31,307.01) scale(0.4906,0.5233)" cx="110" cy="131" rx="16" ry="7" fill="#e07878" opacity="0.35" filter="url(#blur1)"/>
<g filter="url(#spkB)"><ellipse transform="translate(272.31,307.01) scale(0.4906,0.5233)" cx="110" cy="131" rx="16" ry="7" fill="#e07878"/></g>
</g>
<clipPath id="k12RED"><path transform="translate(272.31,307.01) scale(0.4906,0.5233)" d="M119.7,108.8C123.2,109.38 128.28,111.18 131.4,114C134.52,116.82 136.95,121.8 138.4,125.7C139.85,129.6 140.3,133.7 140.1,137.4C139.9,141.1 139.43,144.78 137.2,147.9C134.97,151.02 131.37,153.97 126.7,156.1C122.03,158.23 114.25,160.52 109.2,160.7C104.15,160.88 100.1,159.53 96.4,157.2C92.7,154.87 88.85,150.4 87,146.7C85.15,143 84.92,138.5 85.3,135C85.68,131.5 86.68,128.8 89.3,125.7C91.92,122.6 97.48,118.93 101,116.4C104.52,113.87 107.28,111.77 110.4,110.5C113.52,109.23 116.2,108.22 119.7,108.8Z"/></clipPath>
<g clip-path="url(#k12RED)">
<ellipse transform="translate(272.31,307.01) scale(0.4906,0.5233)" cx="118" cy="145" rx="20" ry="14" fill="#eaa0a0" opacity="0.1" filter="url(#blur1)"/>
<g filter="url(#spkA)"><ellipse transform="translate(272.31,307.01) scale(0.4906,0.5233)" cx="118" cy="145" rx="20" ry="14" fill="#eaa0a0"/></g>
</g>
<g transform="translate(272.31,307.01) scale(0.4906,0.5233)">
<path d="M22.2,100.2C22.63,98.23 25.58,96.32 28.1,93.7C30.62,91.08 34.55,86.37 37.3,84.5C40.05,82.63 41.97,82.07 44.6,82.5C47.23,82.93 50.58,85.02 53.1,87.1C55.62,89.18 58.28,93.13 59.7,95C61.12,96.87 61.82,96.12 61.6,98.3C61.38,100.48 60.03,105.58 58.4,108.1C56.77,110.62 53.88,112.2 51.8,113.4C49.72,114.6 48.75,115.53 45.9,115.3C43.05,115.07 38.1,113.63 34.7,112C31.3,110.37 27.58,107.47 25.5,105.5C23.42,103.53 21.77,102.17 22.2,100.2Z" fill="none" stroke="#8cc850" stroke-width="0.75" vector-effect="non-scaling-stroke"/>
<path d="M93.8,82.1C94.52,78.27 96.1,70.55 99.2,66.8C102.3,63.05 107.47,61.15 112.4,59.6C117.33,58.05 124.23,57.03 128.8,57.5C133.37,57.97 137.25,60.13 139.8,62.4C142.35,64.67 143.73,67.08 144.1,71.1C144.47,75.12 143.27,82.67 142,86.5C140.73,90.33 140.88,92.28 136.5,94.1C132.12,95.92 121.55,97.12 115.7,97.4C109.85,97.68 104.87,97.07 101.4,95.8C97.93,94.53 96.17,92.08 94.9,89.8C93.63,87.52 93.08,85.93 93.8,82.1Z" fill="none" stroke="#d8b060" stroke-width="0.75" vector-effect="non-scaling-stroke"/>
<path d="M131,54.7C130.08,52.42 131,49.28 132.1,47C133.2,44.72 135.78,42.45 137.6,41C139.42,39.55 141.55,38.2 143,38.3C144.45,38.4 145.65,39.42 146.3,41.6C146.95,43.78 146.8,48.12 146.9,51.4C147,54.68 147.37,59.2 146.9,61.3C146.43,63.4 145.65,64.1 144.1,64C142.55,63.9 139.78,62.25 137.6,60.7C135.42,59.15 131.92,56.98 131,54.7Z" fill="none" stroke="#50c4e8" stroke-width="0.75" vector-effect="non-scaling-stroke"/>
<path d="M119.7,108.8C123.2,109.38 128.28,111.18 131.4,114C134.52,116.82 136.95,121.8 138.4,125.7C139.85,129.6 140.3,133.7 140.1,137.4C139.9,141.1 139.43,144.78 137.2,147.9C134.97,151.02 131.37,153.97 126.7,156.1C122.03,158.23 114.25,160.52 109.2,160.7C104.15,160.88 100.1,159.53 96.4,157.2C92.7,154.87 88.85,150.4 87,146.7C85.15,143 84.92,138.5 85.3,135C85.68,131.5 86.68,128.8 89.3,125.7C91.92,122.6 97.48,118.93 101,116.4C104.52,113.87 107.28,111.77 110.4,110.5C113.52,109.23 116.2,108.22 119.7,108.8Z" fill="none" stroke="#ec7070" stroke-width="0.75" vector-effect="non-scaling-stroke"/>
<path d="M139.6,143C139.93,141.83 141.6,140.25 143,139.5C144.4,138.75 146.72,138.25 148,138.5C149.28,138.75 150.45,139.92 150.7,141C150.95,142.08 150.45,143.85 149.5,145C148.55,146.15 146.42,147.65 145,147.9C143.58,148.15 141.9,147.32 141,146.5C140.1,145.68 139.27,144.17 139.6,143Z" fill="none" stroke="#e060e8" stroke-width="0.75" vector-effect="non-scaling-stroke"/>
<path d="M61,101.5C61.5,100.57 64.03,100.98 66,100.9C67.97,100.82 71.8,100.32 72.8,101C73.8,101.68 72.8,103.92 72,105C71.2,106.08 69.5,107.25 68,107.5C66.5,107.75 64.17,107.5 63,106.5C61.83,105.5 60.5,102.43 61,101.5Z" fill="none" stroke="#b070f0" stroke-width="0.75" vector-effect="non-scaling-stroke"/>
<path d="M60.5,96.5C62.83,94.83 70.5,92.58 76,90.5C81.5,88.42 90.42,84.5 93.5,84C96.58,83.5 97.08,85.83 94.5,87.5C91.92,89.17 83.42,91.83 78,94C72.58,96.17 64.92,100.08 62,100.5C59.08,100.92 58.17,98.17 60.5,96.5Z" fill="none" stroke="#40d8a8" stroke-width="0.75" vector-effect="non-scaling-stroke"/>
</g>
<rect x="267" y="323.3" width="95.2" height="71" fill="none" stroke="#111" stroke-width="1.3"/>
<path transform="translate(378.71,306.23) scale(0.4725,0.5281)" d="M24.2,100.2C24.65,98.88 27.75,97.17 29.5,96.3C31.25,95.43 33.4,96.1 34.7,95C36,93.9 36.2,91.02 37.3,89.7C38.4,88.38 39.77,87.32 41.3,87.1C42.83,86.88 45.18,87.53 46.5,88.4C47.82,89.27 47.88,90.98 49.2,92.3C50.52,93.62 52.65,95.2 54.4,96.3C56.15,97.4 59.03,97.37 59.7,98.9C60.37,100.43 59.72,103.32 58.4,105.5C57.08,107.68 54.22,110.68 51.8,112C49.38,113.32 46.75,113.62 43.9,113.4C41.05,113.18 37.55,112.23 34.7,110.7C31.85,109.17 28.55,105.95 26.8,104.2C25.05,102.45 23.75,101.52 24.2,100.2Z" fill="#b0d080" opacity="0.08"/>
<g filter="url(#spkA)"><path transform="translate(378.71,306.23) scale(0.4725,0.5281)" d="M24.2,100.2C24.65,98.88 27.75,97.17 29.5,96.3C31.25,95.43 33.4,96.1 34.7,95C36,93.9 36.2,91.02 37.3,89.7C38.4,88.38 39.77,87.32 41.3,87.1C42.83,86.88 45.18,87.53 46.5,88.4C47.82,89.27 47.88,90.98 49.2,92.3C50.52,93.62 52.65,95.2 54.4,96.3C56.15,97.4 59.03,97.37 59.7,98.9C60.37,100.43 59.72,103.32 58.4,105.5C57.08,107.68 54.22,110.68 51.8,112C49.38,113.32 46.75,113.62 43.9,113.4C41.05,113.18 37.55,112.23 34.7,110.7C31.85,109.17 28.55,105.95 26.8,104.2C25.05,102.45 23.75,101.52 24.2,100.2Z" fill="#b0d080"/></g>
<clipPath id="k13RED"><path transform="translate(378.71,306.23) scale(0.4725,0.5281)" d="M119.7,108.8C123.2,109.38 128.28,111.18 131.4,114C134.52,116.82 136.95,121.8 138.4,125.7C139.85,129.6 140.3,133.7 140.1,137.4C139.9,141.1 139.43,144.78 137.2,147.9C134.97,151.02 131.37,153.97 126.7,156.1C122.03,158.23 114.25,160.52 109.2,160.7C104.15,160.88 100.1,159.53 96.4,157.2C92.7,154.87 88.85,150.4 87,146.7C85.15,143 84.92,138.5 85.3,135C85.68,131.5 86.68,128.8 89.3,125.7C91.92,122.6 97.48,118.93 101,116.4C104.52,113.87 107.28,111.77 110.4,110.5C113.52,109.23 116.2,108.22 119.7,108.8Z"/></clipPath>
<g clip-path="url(#k13RED)">
<ellipse transform="translate(378.71,306.23) scale(0.4725,0.5281)" cx="110" cy="132" rx="15" ry="8" fill="#dc6868" opacity="0.5" filter="url(#blur1)"/>
<g filter="url(#spkD)"><ellipse transform="translate(378.71,306.23) scale(0.4725,0.5281)" cx="110" cy="132" rx="15" ry="8" fill="#dc6868"/></g>
</g>
<clipPath id="k13RED"><path transform="translate(378.71,306.23) scale(0.4725,0.5281)" d="M119.7,108.8C123.2,109.38 128.28,111.18 131.4,114C134.52,116.82 136.95,121.8 138.4,125.7C139.85,129.6 140.3,133.7 140.1,137.4C139.9,141.1 139.43,144.78 137.2,147.9C134.97,151.02 131.37,153.97 126.7,156.1C122.03,158.23 114.25,160.52 109.2,160.7C104.15,160.88 100.1,159.53 96.4,157.2C92.7,154.87 88.85,150.4 87,146.7C85.15,143 84.92,138.5 85.3,135C85.68,131.5 86.68,128.8 89.3,125.7C91.92,122.6 97.48,118.93 101,116.4C104.52,113.87 107.28,111.77 110.4,110.5C113.52,109.23 116.2,108.22 119.7,108.8Z"/></clipPath>
<g clip-path="url(#k13RED)">
<ellipse transform="translate(378.71,306.23) scale(0.4725,0.5281)" cx="115" cy="145" rx="20" ry="14" fill="#eaa0a0" opacity="0.12" filter="url(#blur1)"/>
<g filter="url(#spkA)"><ellipse transform="translate(378.71,306.23) scale(0.4725,0.5281)" cx="115" cy="145" rx="20" ry="14" fill="#eaa0a0"/></g>
</g>
<g transform="translate(378.71,306.23) scale(0.4725,0.5281)">
<path d="M22.2,100.2C22.63,98.23 25.58,96.32 28.1,93.7C30.62,91.08 34.55,86.37 37.3,84.5C40.05,82.63 41.97,82.07 44.6,82.5C47.23,82.93 50.58,85.02 53.1,87.1C55.62,89.18 58.28,93.13 59.7,95C61.12,96.87 61.82,96.12 61.6,98.3C61.38,100.48 60.03,105.58 58.4,108.1C56.77,110.62 53.88,112.2 51.8,113.4C49.72,114.6 48.75,115.53 45.9,115.3C43.05,115.07 38.1,113.63 34.7,112C31.3,110.37 27.58,107.47 25.5,105.5C23.42,103.53 21.77,102.17 22.2,100.2Z" fill="none" stroke="#8cc850" stroke-width="0.75" vector-effect="non-scaling-stroke"/>
<path d="M93.8,82.1C94.52,78.27 96.1,70.55 99.2,66.8C102.3,63.05 107.47,61.15 112.4,59.6C117.33,58.05 124.23,57.03 128.8,57.5C133.37,57.97 137.25,60.13 139.8,62.4C142.35,64.67 143.73,67.08 144.1,71.1C144.47,75.12 143.27,82.67 142,86.5C140.73,90.33 140.88,92.28 136.5,94.1C132.12,95.92 121.55,97.12 115.7,97.4C109.85,97.68 104.87,97.07 101.4,95.8C97.93,94.53 96.17,92.08 94.9,89.8C93.63,87.52 93.08,85.93 93.8,82.1Z" fill="none" stroke="#d8b060" stroke-width="0.75" vector-effect="non-scaling-stroke"/>
<path d="M131,54.7C130.08,52.42 131,49.28 132.1,47C133.2,44.72 135.78,42.45 137.6,41C139.42,39.55 141.55,38.2 143,38.3C144.45,38.4 145.65,39.42 146.3,41.6C146.95,43.78 146.8,48.12 146.9,51.4C147,54.68 147.37,59.2 146.9,61.3C146.43,63.4 145.65,64.1 144.1,64C142.55,63.9 139.78,62.25 137.6,60.7C135.42,59.15 131.92,56.98 131,54.7Z" fill="none" stroke="#50c4e8" stroke-width="0.75" vector-effect="non-scaling-stroke"/>
<path d="M119.7,108.8C123.2,109.38 128.28,111.18 131.4,114C134.52,116.82 136.95,121.8 138.4,125.7C139.85,129.6 140.3,133.7 140.1,137.4C139.9,141.1 139.43,144.78 137.2,147.9C134.97,151.02 131.37,153.97 126.7,156.1C122.03,158.23 114.25,160.52 109.2,160.7C104.15,160.88 100.1,159.53 96.4,157.2C92.7,154.87 88.85,150.4 87,146.7C85.15,143 84.92,138.5 85.3,135C85.68,131.5 86.68,128.8 89.3,125.7C91.92,122.6 97.48,118.93 101,116.4C104.52,113.87 107.28,111.77 110.4,110.5C113.52,109.23 116.2,108.22 119.7,108.8Z" fill="none" stroke="#ec7070" stroke-width="0.75" vector-effect="non-scaling-stroke"/>
<path d="M139.6,143C139.93,141.83 141.6,140.25 143,139.5C144.4,138.75 146.72,138.25 148,138.5C149.28,138.75 150.45,139.92 150.7,141C150.95,142.08 150.45,143.85 149.5,145C148.55,146.15 146.42,147.65 145,147.9C143.58,148.15 141.9,147.32 141,146.5C140.1,145.68 139.27,144.17 139.6,143Z" fill="none" stroke="#e060e8" stroke-width="0.75" vector-effect="non-scaling-stroke"/>
<path d="M61,101.5C61.5,100.57 64.03,100.98 66,100.9C67.97,100.82 71.8,100.32 72.8,101C73.8,101.68 72.8,103.92 72,105C71.2,106.08 69.5,107.25 68,107.5C66.5,107.75 64.17,107.5 63,106.5C61.83,105.5 60.5,102.43 61,101.5Z" fill="none" stroke="#b070f0" stroke-width="0.75" vector-effect="non-scaling-stroke"/>
<path d="M60.5,96.5C62.83,94.83 70.5,92.58 76,90.5C81.5,88.42 90.42,84.5 93.5,84C96.58,83.5 97.08,85.83 94.5,87.5C91.92,89.17 83.42,91.83 78,94C72.58,96.17 64.92,100.08 62,100.5C59.08,100.92 58.17,98.17 60.5,96.5Z" fill="none" stroke="#40d8a8" stroke-width="0.75" vector-effect="non-scaling-stroke"/>
</g>
<rect x="369.9" y="323.3" width="95.2" height="71" fill="none" stroke="#111" stroke-width="1.3"/>
<path transform="translate(482.07,307.01) scale(0.4471,0.5233)" d="M24.2,100.2C24.65,98.88 27.75,97.17 29.5,96.3C31.25,95.43 33.4,96.1 34.7,95C36,93.9 36.2,91.02 37.3,89.7C38.4,88.38 39.77,87.32 41.3,87.1C42.83,86.88 45.18,87.53 46.5,88.4C47.82,89.27 47.88,90.98 49.2,92.3C50.52,93.62 52.65,95.2 54.4,96.3C56.15,97.4 59.03,97.37 59.7,98.9C60.37,100.43 59.72,103.32 58.4,105.5C57.08,107.68 54.22,110.68 51.8,112C49.38,113.32 46.75,113.62 43.9,113.4C41.05,113.18 37.55,112.23 34.7,110.7C31.85,109.17 28.55,105.95 26.8,104.2C25.05,102.45 23.75,101.52 24.2,100.2Z" fill="#a8cc80" opacity="0.12"/>
<g filter="url(#spkA)"><path transform="translate(482.07,307.01) scale(0.4471,0.5233)" d="M24.2,100.2C24.65,98.88 27.75,97.17 29.5,96.3C31.25,95.43 33.4,96.1 34.7,95C36,93.9 36.2,91.02 37.3,89.7C38.4,88.38 39.77,87.32 41.3,87.1C42.83,86.88 45.18,87.53 46.5,88.4C47.82,89.27 47.88,90.98 49.2,92.3C50.52,93.62 52.65,95.2 54.4,96.3C56.15,97.4 59.03,97.37 59.7,98.9C60.37,100.43 59.72,103.32 58.4,105.5C57.08,107.68 54.22,110.68 51.8,112C49.38,113.32 46.75,113.62 43.9,113.4C41.05,113.18 37.55,112.23 34.7,110.7C31.85,109.17 28.55,105.95 26.8,104.2C25.05,102.45 23.75,101.52 24.2,100.2Z" fill="#a8cc80"/></g>
<clipPath id="k14RED"><path transform="translate(482.07,307.01) scale(0.4471,0.5233)" d="M119.7,108.8C123.2,109.38 128.28,111.18 131.4,114C134.52,116.82 136.95,121.8 138.4,125.7C139.85,129.6 140.3,133.7 140.1,137.4C139.9,141.1 139.43,144.78 137.2,147.9C134.97,151.02 131.37,153.97 126.7,156.1C122.03,158.23 114.25,160.52 109.2,160.7C104.15,160.88 100.1,159.53 96.4,157.2C92.7,154.87 88.85,150.4 87,146.7C85.15,143 84.92,138.5 85.3,135C85.68,131.5 86.68,128.8 89.3,125.7C91.92,122.6 97.48,118.93 101,116.4C104.52,113.87 107.28,111.77 110.4,110.5C113.52,109.23 116.2,108.22 119.7,108.8Z"/></clipPath>
<g clip-path="url(#k14RED)">
<ellipse transform="translate(482.07,307.01) scale(0.4471,0.5233)" cx="113" cy="138" rx="20" ry="12" fill="#e8a0a0" opacity="0.12" filter="url(#blur1)"/>
<g filter="url(#spkA)"><ellipse transform="translate(482.07,307.01) scale(0.4471,0.5233)" cx="113" cy="138" rx="20" ry="12" fill="#e8a0a0"/></g>
</g>
<g transform="translate(482.07,307.01) scale(0.4471,0.5233)">
<path d="M22.2,100.2C22.63,98.23 25.58,96.32 28.1,93.7C30.62,91.08 34.55,86.37 37.3,84.5C40.05,82.63 41.97,82.07 44.6,82.5C47.23,82.93 50.58,85.02 53.1,87.1C55.62,89.18 58.28,93.13 59.7,95C61.12,96.87 61.82,96.12 61.6,98.3C61.38,100.48 60.03,105.58 58.4,108.1C56.77,110.62 53.88,112.2 51.8,113.4C49.72,114.6 48.75,115.53 45.9,115.3C43.05,115.07 38.1,113.63 34.7,112C31.3,110.37 27.58,107.47 25.5,105.5C23.42,103.53 21.77,102.17 22.2,100.2Z" fill="none" stroke="#8cc850" stroke-width="0.75" vector-effect="non-scaling-stroke"/>
<path d="M93.8,82.1C94.52,78.27 96.1,70.55 99.2,66.8C102.3,63.05 107.47,61.15 112.4,59.6C117.33,58.05 124.23,57.03 128.8,57.5C133.37,57.97 137.25,60.13 139.8,62.4C142.35,64.67 143.73,67.08 144.1,71.1C144.47,75.12 143.27,82.67 142,86.5C140.73,90.33 140.88,92.28 136.5,94.1C132.12,95.92 121.55,97.12 115.7,97.4C109.85,97.68 104.87,97.07 101.4,95.8C97.93,94.53 96.17,92.08 94.9,89.8C93.63,87.52 93.08,85.93 93.8,82.1Z" fill="none" stroke="#d8b060" stroke-width="0.75" vector-effect="non-scaling-stroke"/>
<path d="M131,54.7C130.08,52.42 131,49.28 132.1,47C133.2,44.72 135.78,42.45 137.6,41C139.42,39.55 141.55,38.2 143,38.3C144.45,38.4 145.65,39.42 146.3,41.6C146.95,43.78 146.8,48.12 146.9,51.4C147,54.68 147.37,59.2 146.9,61.3C146.43,63.4 145.65,64.1 144.1,64C142.55,63.9 139.78,62.25 137.6,60.7C135.42,59.15 131.92,56.98 131,54.7Z" fill="none" stroke="#50c4e8" stroke-width="0.75" vector-effect="non-scaling-stroke"/>
<path d="M119.7,108.8C123.2,109.38 128.28,111.18 131.4,114C134.52,116.82 136.95,121.8 138.4,125.7C139.85,129.6 140.3,133.7 140.1,137.4C139.9,141.1 139.43,144.78 137.2,147.9C134.97,151.02 131.37,153.97 126.7,156.1C122.03,158.23 114.25,160.52 109.2,160.7C104.15,160.88 100.1,159.53 96.4,157.2C92.7,154.87 88.85,150.4 87,146.7C85.15,143 84.92,138.5 85.3,135C85.68,131.5 86.68,128.8 89.3,125.7C91.92,122.6 97.48,118.93 101,116.4C104.52,113.87 107.28,111.77 110.4,110.5C113.52,109.23 116.2,108.22 119.7,108.8Z" fill="none" stroke="#ec7070" stroke-width="0.75" vector-effect="non-scaling-stroke"/>
<path d="M139.6,143C139.93,141.83 141.6,140.25 143,139.5C144.4,138.75 146.72,138.25 148,138.5C149.28,138.75 150.45,139.92 150.7,141C150.95,142.08 150.45,143.85 149.5,145C148.55,146.15 146.42,147.65 145,147.9C143.58,148.15 141.9,147.32 141,146.5C140.1,145.68 139.27,144.17 139.6,143Z" fill="none" stroke="#e060e8" stroke-width="0.75" vector-effect="non-scaling-stroke"/>
<path d="M61,101.5C61.5,100.57 64.03,100.98 66,100.9C67.97,100.82 71.8,100.32 72.8,101C73.8,101.68 72.8,103.92 72,105C71.2,106.08 69.5,107.25 68,107.5C66.5,107.75 64.17,107.5 63,106.5C61.83,105.5 60.5,102.43 61,101.5Z" fill="none" stroke="#b070f0" stroke-width="0.75" vector-effect="non-scaling-stroke"/>
<path d="M60.5,96.5C62.83,94.83 70.5,92.58 76,90.5C81.5,88.42 90.42,84.5 93.5,84C96.58,83.5 97.08,85.83 94.5,87.5C91.92,89.17 83.42,91.83 78,94C72.58,96.17 64.92,100.08 62,100.5C59.08,100.92 58.17,98.17 60.5,96.5Z" fill="none" stroke="#40d8a8" stroke-width="0.75" vector-effect="non-scaling-stroke"/>
</g>
<rect x="472.3" y="323.3" width="95.2" height="71" fill="none" stroke="#111" stroke-width="1.3"/>
<path transform="translate(53.54,401.26) scale(0.5611,0.5242)" d="M97,82C97.67,78.75 99.25,72.33 102,69C104.75,65.67 109.08,63.5 113.5,62C117.92,60.5 124.42,59.58 128.5,60C132.58,60.42 135.92,62.5 138,64.5C140.08,66.5 140.67,68.5 141,72C141.33,75.5 141.08,82.17 140,85.5C138.92,88.83 138.5,90.42 134.5,92C130.5,93.58 121.17,94.75 116,95C110.83,95.25 106.5,94.58 103.5,93.5C100.5,92.42 99.08,90.42 98,88.5C96.92,86.58 96.33,85.25 97,82Z" fill="#b0a636" opacity="0.6"/>
<g filter="url(#spkD)"><path transform="translate(53.54,401.26) scale(0.5611,0.5242)" d="M97,82C97.67,78.75 99.25,72.33 102,69C104.75,65.67 109.08,63.5 113.5,62C117.92,60.5 124.42,59.58 128.5,60C132.58,60.42 135.92,62.5 138,64.5C140.08,66.5 140.67,68.5 141,72C141.33,75.5 141.08,82.17 140,85.5C138.92,88.83 138.5,90.42 134.5,92C130.5,93.58 121.17,94.75 116,95C110.83,95.25 106.5,94.58 103.5,93.5C100.5,92.42 99.08,90.42 98,88.5C96.92,86.58 96.33,85.25 97,82Z" fill="#b0a636"/></g>
<path transform="translate(53.54,401.26) scale(0.5611,0.5242)" d="M137,60 C133,55 134,46 139,42.5 C142.5,40.5 145,43 144.5,48 C144,53 141,58 137,60Z" fill="none" stroke="#70c8e0" stroke-width="0.7" vector-effect="non-scaling-stroke"/>
<g transform="translate(53.54,401.26) scale(0.5611,0.5242)">
<path d="M22.2,100.2C22.63,98.23 25.58,96.32 28.1,93.7C30.62,91.08 34.55,86.37 37.3,84.5C40.05,82.63 41.97,82.07 44.6,82.5C47.23,82.93 50.58,85.02 53.1,87.1C55.62,89.18 58.28,93.13 59.7,95C61.12,96.87 61.82,96.12 61.6,98.3C61.38,100.48 60.03,105.58 58.4,108.1C56.77,110.62 53.88,112.2 51.8,113.4C49.72,114.6 48.75,115.53 45.9,115.3C43.05,115.07 38.1,113.63 34.7,112C31.3,110.37 27.58,107.47 25.5,105.5C23.42,103.53 21.77,102.17 22.2,100.2Z" fill="none" stroke="#8cc850" stroke-width="0.75" vector-effect="non-scaling-stroke"/>
<path d="M93.8,82.1C94.52,78.27 96.1,70.55 99.2,66.8C102.3,63.05 107.47,61.15 112.4,59.6C117.33,58.05 124.23,57.03 128.8,57.5C133.37,57.97 137.25,60.13 139.8,62.4C142.35,64.67 143.73,67.08 144.1,71.1C144.47,75.12 143.27,82.67 142,86.5C140.73,90.33 140.88,92.28 136.5,94.1C132.12,95.92 121.55,97.12 115.7,97.4C109.85,97.68 104.87,97.07 101.4,95.8C97.93,94.53 96.17,92.08 94.9,89.8C93.63,87.52 93.08,85.93 93.8,82.1Z" fill="none" stroke="#d8b060" stroke-width="0.75" vector-effect="non-scaling-stroke"/>
<path d="M131,54.7C130.08,52.42 131,49.28 132.1,47C133.2,44.72 135.78,42.45 137.6,41C139.42,39.55 141.55,38.2 143,38.3C144.45,38.4 145.65,39.42 146.3,41.6C146.95,43.78 146.8,48.12 146.9,51.4C147,54.68 147.37,59.2 146.9,61.3C146.43,63.4 145.65,64.1 144.1,64C142.55,63.9 139.78,62.25 137.6,60.7C135.42,59.15 131.92,56.98 131,54.7Z" fill="none" stroke="#50c4e8" stroke-width="0.75" vector-effect="non-scaling-stroke"/>
<path d="M119.7,108.8C123.2,109.38 128.28,111.18 131.4,114C134.52,116.82 136.95,121.8 138.4,125.7C139.85,129.6 140.3,133.7 140.1,137.4C139.9,141.1 139.43,144.78 137.2,147.9C134.97,151.02 131.37,153.97 126.7,156.1C122.03,158.23 114.25,160.52 109.2,160.7C104.15,160.88 100.1,159.53 96.4,157.2C92.7,154.87 88.85,150.4 87,146.7C85.15,143 84.92,138.5 85.3,135C85.68,131.5 86.68,128.8 89.3,125.7C91.92,122.6 97.48,118.93 101,116.4C104.52,113.87 107.28,111.77 110.4,110.5C113.52,109.23 116.2,108.22 119.7,108.8Z" fill="none" stroke="#ec7070" stroke-width="0.75" vector-effect="non-scaling-stroke"/>
<path d="M139.6,143C139.93,141.83 141.6,140.25 143,139.5C144.4,138.75 146.72,138.25 148,138.5C149.28,138.75 150.45,139.92 150.7,141C150.95,142.08 150.45,143.85 149.5,145C148.55,146.15 146.42,147.65 145,147.9C143.58,148.15 141.9,147.32 141,146.5C140.1,145.68 139.27,144.17 139.6,143Z" fill="none" stroke="#e060e8" stroke-width="0.75" vector-effect="non-scaling-stroke"/>
<path d="M61,101.5C61.5,100.57 64.03,100.98 66,100.9C67.97,100.82 71.8,100.32 72.8,101C73.8,101.68 72.8,103.92 72,105C71.2,106.08 69.5,107.25 68,107.5C66.5,107.75 64.17,107.5 63,106.5C61.83,105.5 60.5,102.43 61,101.5Z" fill="none" stroke="#b070f0" stroke-width="0.75" vector-effect="non-scaling-stroke"/>
<path d="M60.5,96.5C62.83,94.83 70.5,92.58 76,90.5C81.5,88.42 90.42,84.5 93.5,84C96.58,83.5 97.08,85.83 94.5,87.5C91.92,89.17 83.42,91.83 78,94C72.58,96.17 64.92,100.08 62,100.5C59.08,100.92 58.17,98.17 60.5,96.5Z" fill="none" stroke="#40d8a8" stroke-width="0.75" vector-effect="non-scaling-stroke"/>
</g>
<rect x="58.4" y="416.5" width="95.2" height="71" fill="none" stroke="#111" stroke-width="1.3"/>
<path transform="translate(161.52,398.61) scale(0.5308,0.5320)" d="M97,82C97.67,78.75 99.25,72.33 102,69C104.75,65.67 109.08,63.5 113.5,62C117.92,60.5 124.42,59.58 128.5,60C132.58,60.42 135.92,62.5 138,64.5C140.08,66.5 140.67,68.5 141,72C141.33,75.5 141.08,82.17 140,85.5C138.92,88.83 138.5,90.42 134.5,92C130.5,93.58 121.17,94.75 116,95C110.83,95.25 106.5,94.58 103.5,93.5C100.5,92.42 99.08,90.42 98,88.5C96.92,86.58 96.33,85.25 97,82Z" fill="#b0a636" opacity="0.5"/>
<g filter="url(#spkD)"><path transform="translate(161.52,398.61) scale(0.5308,0.5320)" d="M97,82C97.67,78.75 99.25,72.33 102,69C104.75,65.67 109.08,63.5 113.5,62C117.92,60.5 124.42,59.58 128.5,60C132.58,60.42 135.92,62.5 138,64.5C140.08,66.5 140.67,68.5 141,72C141.33,75.5 141.08,82.17 140,85.5C138.92,88.83 138.5,90.42 134.5,92C130.5,93.58 121.17,94.75 116,95C110.83,95.25 106.5,94.58 103.5,93.5C100.5,92.42 99.08,90.42 98,88.5C96.92,86.58 96.33,85.25 97,82Z" fill="#b0a636"/></g>
<path transform="translate(161.52,398.61) scale(0.5308,0.5320)" d="M137,60 C133,55 134,46 139,42.5 C142.5,40.5 145,43 144.5,48 C144,53 141,58 137,60Z" fill="none" stroke="#70c8e0" stroke-width="0.7" vector-effect="non-scaling-stroke"/>
<g transform="translate(161.52,398.61) scale(0.5308,0.5320)">
<path d="M22.2,100.2C22.63,98.23 25.58,96.32 28.1,93.7C30.62,91.08 34.55,86.37 37.3,84.5C40.05,82.63 41.97,82.07 44.6,82.5C47.23,82.93 50.58,85.02 53.1,87.1C55.62,89.18 58.28,93.13 59.7,95C61.12,96.87 61.82,96.12 61.6,98.3C61.38,100.48 60.03,105.58 58.4,108.1C56.77,110.62 53.88,112.2 51.8,113.4C49.72,114.6 48.75,115.53 45.9,115.3C43.05,115.07 38.1,113.63 34.7,112C31.3,110.37 27.58,107.47 25.5,105.5C23.42,103.53 21.77,102.17 22.2,100.2Z" fill="none" stroke="#8cc850" stroke-width="0.75" vector-effect="non-scaling-stroke"/>
<path d="M93.8,82.1C94.52,78.27 96.1,70.55 99.2,66.8C102.3,63.05 107.47,61.15 112.4,59.6C117.33,58.05 124.23,57.03 128.8,57.5C133.37,57.97 137.25,60.13 139.8,62.4C142.35,64.67 143.73,67.08 144.1,71.1C144.47,75.12 143.27,82.67 142,86.5C140.73,90.33 140.88,92.28 136.5,94.1C132.12,95.92 121.55,97.12 115.7,97.4C109.85,97.68 104.87,97.07 101.4,95.8C97.93,94.53 96.17,92.08 94.9,89.8C93.63,87.52 93.08,85.93 93.8,82.1Z" fill="none" stroke="#d8b060" stroke-width="0.75" vector-effect="non-scaling-stroke"/>
<path d="M131,54.7C130.08,52.42 131,49.28 132.1,47C133.2,44.72 135.78,42.45 137.6,41C139.42,39.55 141.55,38.2 143,38.3C144.45,38.4 145.65,39.42 146.3,41.6C146.95,43.78 146.8,48.12 146.9,51.4C147,54.68 147.37,59.2 146.9,61.3C146.43,63.4 145.65,64.1 144.1,64C142.55,63.9 139.78,62.25 137.6,60.7C135.42,59.15 131.92,56.98 131,54.7Z" fill="none" stroke="#50c4e8" stroke-width="0.75" vector-effect="non-scaling-stroke"/>
<path d="M119.7,108.8C123.2,109.38 128.28,111.18 131.4,114C134.52,116.82 136.95,121.8 138.4,125.7C139.85,129.6 140.3,133.7 140.1,137.4C139.9,141.1 139.43,144.78 137.2,147.9C134.97,151.02 131.37,153.97 126.7,156.1C122.03,158.23 114.25,160.52 109.2,160.7C104.15,160.88 100.1,159.53 96.4,157.2C92.7,154.87 88.85,150.4 87,146.7C85.15,143 84.92,138.5 85.3,135C85.68,131.5 86.68,128.8 89.3,125.7C91.92,122.6 97.48,118.93 101,116.4C104.52,113.87 107.28,111.77 110.4,110.5C113.52,109.23 116.2,108.22 119.7,108.8Z" fill="none" stroke="#ec7070" stroke-width="0.75" vector-effect="non-scaling-stroke"/>
<path d="M139.6,143C139.93,141.83 141.6,140.25 143,139.5C144.4,138.75 146.72,138.25 148,138.5C149.28,138.75 150.45,139.92 150.7,141C150.95,142.08 150.45,143.85 149.5,145C148.55,146.15 146.42,147.65 145,147.9C143.58,148.15 141.9,147.32 141,146.5C140.1,145.68 139.27,144.17 139.6,143Z" fill="none" stroke="#e060e8" stroke-width="0.75" vector-effect="non-scaling-stroke"/>
<path d="M61,101.5C61.5,100.57 64.03,100.98 66,100.9C67.97,100.82 71.8,100.32 72.8,101C73.8,101.68 72.8,103.92 72,105C71.2,106.08 69.5,107.25 68,107.5C66.5,107.75 64.17,107.5 63,106.5C61.83,105.5 60.5,102.43 61,101.5Z" fill="none" stroke="#b070f0" stroke-width="0.75" vector-effect="non-scaling-stroke"/>
<path d="M60.5,96.5C62.83,94.83 70.5,92.58 76,90.5C81.5,88.42 90.42,84.5 93.5,84C96.58,83.5 97.08,85.83 94.5,87.5C91.92,89.17 83.42,91.83 78,94C72.58,96.17 64.92,100.08 62,100.5C59.08,100.92 58.17,98.17 60.5,96.5Z" fill="none" stroke="#40d8a8" stroke-width="0.75" vector-effect="non-scaling-stroke"/>
</g>
<rect x="163.8" y="416.5" width="95.2" height="71" fill="none" stroke="#111" stroke-width="1.3"/>
<path transform="translate(264.16,398.44) scale(0.5332,0.5349)" d="M97,82C97.67,78.75 99.25,72.33 102,69C104.75,65.67 109.08,63.5 113.5,62C117.92,60.5 124.42,59.58 128.5,60C132.58,60.42 135.92,62.5 138,64.5C140.08,66.5 140.67,68.5 141,72C141.33,75.5 141.08,82.17 140,85.5C138.92,88.83 138.5,90.42 134.5,92C130.5,93.58 121.17,94.75 116,95C110.83,95.25 106.5,94.58 103.5,93.5C100.5,92.42 99.08,90.42 98,88.5C96.92,86.58 96.33,85.25 97,82Z" fill="#b0a636" opacity="0.5"/>
<g filter="url(#spkD)"><path transform="translate(264.16,398.44) scale(0.5332,0.5349)" d="M97,82C97.67,78.75 99.25,72.33 102,69C104.75,65.67 109.08,63.5 113.5,62C117.92,60.5 124.42,59.58 128.5,60C132.58,60.42 135.92,62.5 138,64.5C140.08,66.5 140.67,68.5 141,72C141.33,75.5 141.08,82.17 140,85.5C138.92,88.83 138.5,90.42 134.5,92C130.5,93.58 121.17,94.75 116,95C110.83,95.25 106.5,94.58 103.5,93.5C100.5,92.42 99.08,90.42 98,88.5C96.92,86.58 96.33,85.25 97,82Z" fill="#b0a636"/></g>
<path transform="translate(264.16,398.44) scale(0.5332,0.5349)" d="M137,60 C133,55 134,46 139,42.5 C142.5,40.5 145,43 144.5,48 C144,53 141,58 137,60Z" fill="none" stroke="#70c8e0" stroke-width="0.7" vector-effect="non-scaling-stroke"/>
<g transform="translate(264.16,398.44) scale(0.5332,0.5349)">
<path d="M22.2,100.2C22.63,98.23 25.58,96.32 28.1,93.7C30.62,91.08 34.55,86.37 37.3,84.5C40.05,82.63 41.97,82.07 44.6,82.5C47.23,82.93 50.58,85.02 53.1,87.1C55.62,89.18 58.28,93.13 59.7,95C61.12,96.87 61.82,96.12 61.6,98.3C61.38,100.48 60.03,105.58 58.4,108.1C56.77,110.62 53.88,112.2 51.8,113.4C49.72,114.6 48.75,115.53 45.9,115.3C43.05,115.07 38.1,113.63 34.7,112C31.3,110.37 27.58,107.47 25.5,105.5C23.42,103.53 21.77,102.17 22.2,100.2Z" fill="none" stroke="#8cc850" stroke-width="0.75" vector-effect="non-scaling-stroke"/>
<path d="M93.8,82.1C94.52,78.27 96.1,70.55 99.2,66.8C102.3,63.05 107.47,61.15 112.4,59.6C117.33,58.05 124.23,57.03 128.8,57.5C133.37,57.97 137.25,60.13 139.8,62.4C142.35,64.67 143.73,67.08 144.1,71.1C144.47,75.12 143.27,82.67 142,86.5C140.73,90.33 140.88,92.28 136.5,94.1C132.12,95.92 121.55,97.12 115.7,97.4C109.85,97.68 104.87,97.07 101.4,95.8C97.93,94.53 96.17,92.08 94.9,89.8C93.63,87.52 93.08,85.93 93.8,82.1Z" fill="none" stroke="#d8b060" stroke-width="0.75" vector-effect="non-scaling-stroke"/>
<path d="M131,54.7C130.08,52.42 131,49.28 132.1,47C133.2,44.72 135.78,42.45 137.6,41C139.42,39.55 141.55,38.2 143,38.3C144.45,38.4 145.65,39.42 146.3,41.6C146.95,43.78 146.8,48.12 146.9,51.4C147,54.68 147.37,59.2 146.9,61.3C146.43,63.4 145.65,64.1 144.1,64C142.55,63.9 139.78,62.25 137.6,60.7C135.42,59.15 131.92,56.98 131,54.7Z" fill="none" stroke="#50c4e8" stroke-width="0.75" vector-effect="non-scaling-stroke"/>
<path d="M119.7,108.8C123.2,109.38 128.28,111.18 131.4,114C134.52,116.82 136.95,121.8 138.4,125.7C139.85,129.6 140.3,133.7 140.1,137.4C139.9,141.1 139.43,144.78 137.2,147.9C134.97,151.02 131.37,153.97 126.7,156.1C122.03,158.23 114.25,160.52 109.2,160.7C104.15,160.88 100.1,159.53 96.4,157.2C92.7,154.87 88.85,150.4 87,146.7C85.15,143 84.92,138.5 85.3,135C85.68,131.5 86.68,128.8 89.3,125.7C91.92,122.6 97.48,118.93 101,116.4C104.52,113.87 107.28,111.77 110.4,110.5C113.52,109.23 116.2,108.22 119.7,108.8Z" fill="none" stroke="#ec7070" stroke-width="0.75" vector-effect="non-scaling-stroke"/>
<path d="M139.6,143C139.93,141.83 141.6,140.25 143,139.5C144.4,138.75 146.72,138.25 148,138.5C149.28,138.75 150.45,139.92 150.7,141C150.95,142.08 150.45,143.85 149.5,145C148.55,146.15 146.42,147.65 145,147.9C143.58,148.15 141.9,147.32 141,146.5C140.1,145.68 139.27,144.17 139.6,143Z" fill="none" stroke="#e060e8" stroke-width="0.75" vector-effect="non-scaling-stroke"/>
<path d="M61,101.5C61.5,100.57 64.03,100.98 66,100.9C67.97,100.82 71.8,100.32 72.8,101C73.8,101.68 72.8,103.92 72,105C71.2,106.08 69.5,107.25 68,107.5C66.5,107.75 64.17,107.5 63,106.5C61.83,105.5 60.5,102.43 61,101.5Z" fill="none" stroke="#b070f0" stroke-width="0.75" vector-effect="non-scaling-stroke"/>
<path d="M60.5,96.5C62.83,94.83 70.5,92.58 76,90.5C81.5,88.42 90.42,84.5 93.5,84C96.58,83.5 97.08,85.83 94.5,87.5C91.92,89.17 83.42,91.83 78,94C72.58,96.17 64.92,100.08 62,100.5C59.08,100.92 58.17,98.17 60.5,96.5Z" fill="none" stroke="#40d8a8" stroke-width="0.75" vector-effect="non-scaling-stroke"/>
</g>
<rect x="267" y="416.5" width="95.2" height="71" fill="none" stroke="#111" stroke-width="1.3"/>
<path transform="translate(368.66,398.44) scale(0.5332,0.5349)" d="M97,82C97.67,78.75 99.25,72.33 102,69C104.75,65.67 109.08,63.5 113.5,62C117.92,60.5 124.42,59.58 128.5,60C132.58,60.42 135.92,62.5 138,64.5C140.08,66.5 140.67,68.5 141,72C141.33,75.5 141.08,82.17 140,85.5C138.92,88.83 138.5,90.42 134.5,92C130.5,93.58 121.17,94.75 116,95C110.83,95.25 106.5,94.58 103.5,93.5C100.5,92.42 99.08,90.42 98,88.5C96.92,86.58 96.33,85.25 97,82Z" fill="#b0a636" opacity="0.5"/>
<g filter="url(#spkC)"><path transform="translate(368.66,398.44) scale(0.5332,0.5349)" d="M97,82C97.67,78.75 99.25,72.33 102,69C104.75,65.67 109.08,63.5 113.5,62C117.92,60.5 124.42,59.58 128.5,60C132.58,60.42 135.92,62.5 138,64.5C140.08,66.5 140.67,68.5 141,72C141.33,75.5 141.08,82.17 140,85.5C138.92,88.83 138.5,90.42 134.5,92C130.5,93.58 121.17,94.75 116,95C110.83,95.25 106.5,94.58 103.5,93.5C100.5,92.42 99.08,90.42 98,88.5C96.92,86.58 96.33,85.25 97,82Z" fill="#b0a636"/></g>
<path transform="translate(368.66,398.44) scale(0.5332,0.5349)" d="M131,54.7C130.08,52.42 131,49.28 132.1,47C133.2,44.72 135.78,42.45 137.6,41C139.42,39.55 141.55,38.2 143,38.3C144.45,38.4 145.65,39.42 146.3,41.6C146.95,43.78 146.8,48.12 146.9,51.4C147,54.68 147.37,59.2 146.9,61.3C146.43,63.4 145.65,64.1 144.1,64C142.55,63.9 139.78,62.25 137.6,60.7C135.42,59.15 131.92,56.98 131,54.7Z" fill="#c8ecf4" opacity="0.5"/>
<g transform="translate(368.66,398.44) scale(0.5332,0.5349)">
<path d="M22.2,100.2C22.63,98.23 25.58,96.32 28.1,93.7C30.62,91.08 34.55,86.37 37.3,84.5C40.05,82.63 41.97,82.07 44.6,82.5C47.23,82.93 50.58,85.02 53.1,87.1C55.62,89.18 58.28,93.13 59.7,95C61.12,96.87 61.82,96.12 61.6,98.3C61.38,100.48 60.03,105.58 58.4,108.1C56.77,110.62 53.88,112.2 51.8,113.4C49.72,114.6 48.75,115.53 45.9,115.3C43.05,115.07 38.1,113.63 34.7,112C31.3,110.37 27.58,107.47 25.5,105.5C23.42,103.53 21.77,102.17 22.2,100.2Z" fill="none" stroke="#8cc850" stroke-width="0.75" vector-effect="non-scaling-stroke"/>
<path d="M93.8,82.1C94.52,78.27 96.1,70.55 99.2,66.8C102.3,63.05 107.47,61.15 112.4,59.6C117.33,58.05 124.23,57.03 128.8,57.5C133.37,57.97 137.25,60.13 139.8,62.4C142.35,64.67 143.73,67.08 144.1,71.1C144.47,75.12 143.27,82.67 142,86.5C140.73,90.33 140.88,92.28 136.5,94.1C132.12,95.92 121.55,97.12 115.7,97.4C109.85,97.68 104.87,97.07 101.4,95.8C97.93,94.53 96.17,92.08 94.9,89.8C93.63,87.52 93.08,85.93 93.8,82.1Z" fill="none" stroke="#d8b060" stroke-width="0.75" vector-effect="non-scaling-stroke"/>
<path d="M131,54.7C130.08,52.42 131,49.28 132.1,47C133.2,44.72 135.78,42.45 137.6,41C139.42,39.55 141.55,38.2 143,38.3C144.45,38.4 145.65,39.42 146.3,41.6C146.95,43.78 146.8,48.12 146.9,51.4C147,54.68 147.37,59.2 146.9,61.3C146.43,63.4 145.65,64.1 144.1,64C142.55,63.9 139.78,62.25 137.6,60.7C135.42,59.15 131.92,56.98 131,54.7Z" fill="none" stroke="#50c4e8" stroke-width="0.75" vector-effect="non-scaling-stroke"/>
<path d="M119.7,108.8C123.2,109.38 128.28,111.18 131.4,114C134.52,116.82 136.95,121.8 138.4,125.7C139.85,129.6 140.3,133.7 140.1,137.4C139.9,141.1 139.43,144.78 137.2,147.9C134.97,151.02 131.37,153.97 126.7,156.1C122.03,158.23 114.25,160.52 109.2,160.7C104.15,160.88 100.1,159.53 96.4,157.2C92.7,154.87 88.85,150.4 87,146.7C85.15,143 84.92,138.5 85.3,135C85.68,131.5 86.68,128.8 89.3,125.7C91.92,122.6 97.48,118.93 101,116.4C104.52,113.87 107.28,111.77 110.4,110.5C113.52,109.23 116.2,108.22 119.7,108.8Z" fill="none" stroke="#ec7070" stroke-width="0.75" vector-effect="non-scaling-stroke"/>
<path d="M139.6,143C139.93,141.83 141.6,140.25 143,139.5C144.4,138.75 146.72,138.25 148,138.5C149.28,138.75 150.45,139.92 150.7,141C150.95,142.08 150.45,143.85 149.5,145C148.55,146.15 146.42,147.65 145,147.9C143.58,148.15 141.9,147.32 141,146.5C140.1,145.68 139.27,144.17 139.6,143Z" fill="none" stroke="#e060e8" stroke-width="0.75" vector-effect="non-scaling-stroke"/>
<path d="M61,101.5C61.5,100.57 64.03,100.98 66,100.9C67.97,100.82 71.8,100.32 72.8,101C73.8,101.68 72.8,103.92 72,105C71.2,106.08 69.5,107.25 68,107.5C66.5,107.75 64.17,107.5 63,106.5C61.83,105.5 60.5,102.43 61,101.5Z" fill="none" stroke="#b070f0" stroke-width="0.75" vector-effect="non-scaling-stroke"/>
<path d="M60.5,96.5C62.83,94.83 70.5,92.58 76,90.5C81.5,88.42 90.42,84.5 93.5,84C96.58,83.5 97.08,85.83 94.5,87.5C91.92,89.17 83.42,91.83 78,94C72.58,96.17 64.92,100.08 62,100.5C59.08,100.92 58.17,98.17 60.5,96.5Z" fill="none" stroke="#40d8a8" stroke-width="0.75" vector-effect="non-scaling-stroke"/>
</g>
<rect x="369.9" y="416.5" width="95.2" height="71" fill="none" stroke="#111" stroke-width="1.3"/>
<path transform="translate(471.48,398.17) scale(0.5324,0.5397)" d="M97,82C97.67,78.75 99.25,72.33 102,69C104.75,65.67 109.08,63.5 113.5,62C117.92,60.5 124.42,59.58 128.5,60C132.58,60.42 135.92,62.5 138,64.5C140.08,66.5 140.67,68.5 141,72C141.33,75.5 141.08,82.17 140,85.5C138.92,88.83 138.5,90.42 134.5,92C130.5,93.58 121.17,94.75 116,95C110.83,95.25 106.5,94.58 103.5,93.5C100.5,92.42 99.08,90.42 98,88.5C96.92,86.58 96.33,85.25 97,82Z" fill="#c0b460" opacity="0.2"/>
<g filter="url(#spkB)"><path transform="translate(471.48,398.17) scale(0.5324,0.5397)" d="M97,82C97.67,78.75 99.25,72.33 102,69C104.75,65.67 109.08,63.5 113.5,62C117.92,60.5 124.42,59.58 128.5,60C132.58,60.42 135.92,62.5 138,64.5C140.08,66.5 140.67,68.5 141,72C141.33,75.5 141.08,82.17 140,85.5C138.92,88.83 138.5,90.42 134.5,92C130.5,93.58 121.17,94.75 116,95C110.83,95.25 106.5,94.58 103.5,93.5C100.5,92.42 99.08,90.42 98,88.5C96.92,86.58 96.33,85.25 97,82Z" fill="#c0b460"/></g>
<g transform="translate(471.48,398.17) scale(0.5324,0.5397)">
<path d="M22.2,100.2C22.63,98.23 25.58,96.32 28.1,93.7C30.62,91.08 34.55,86.37 37.3,84.5C40.05,82.63 41.97,82.07 44.6,82.5C47.23,82.93 50.58,85.02 53.1,87.1C55.62,89.18 58.28,93.13 59.7,95C61.12,96.87 61.82,96.12 61.6,98.3C61.38,100.48 60.03,105.58 58.4,108.1C56.77,110.62 53.88,112.2 51.8,113.4C49.72,114.6 48.75,115.53 45.9,115.3C43.05,115.07 38.1,113.63 34.7,112C31.3,110.37 27.58,107.47 25.5,105.5C23.42,103.53 21.77,102.17 22.2,100.2Z" fill="none" stroke="#8cc850" stroke-width="0.75" vector-effect="non-scaling-stroke"/>
<path d="M93.8,82.1C94.52,78.27 96.1,70.55 99.2,66.8C102.3,63.05 107.47,61.15 112.4,59.6C117.33,58.05 124.23,57.03 128.8,57.5C133.37,57.97 137.25,60.13 139.8,62.4C142.35,64.67 143.73,67.08 144.1,71.1C144.47,75.12 143.27,82.67 142,86.5C140.73,90.33 140.88,92.28 136.5,94.1C132.12,95.92 121.55,97.12 115.7,97.4C109.85,97.68 104.87,97.07 101.4,95.8C97.93,94.53 96.17,92.08 94.9,89.8C93.63,87.52 93.08,85.93 93.8,82.1Z" fill="none" stroke="#d8b060" stroke-width="0.75" vector-effect="non-scaling-stroke"/>
<path d="M131,54.7C130.08,52.42 131,49.28 132.1,47C133.2,44.72 135.78,42.45 137.6,41C139.42,39.55 141.55,38.2 143,38.3C144.45,38.4 145.65,39.42 146.3,41.6C146.95,43.78 146.8,48.12 146.9,51.4C147,54.68 147.37,59.2 146.9,61.3C146.43,63.4 145.65,64.1 144.1,64C142.55,63.9 139.78,62.25 137.6,60.7C135.42,59.15 131.92,56.98 131,54.7Z" fill="none" stroke="#50c4e8" stroke-width="0.75" vector-effect="non-scaling-stroke"/>
<path d="M119.7,108.8C123.2,109.38 128.28,111.18 131.4,114C134.52,116.82 136.95,121.8 138.4,125.7C139.85,129.6 140.3,133.7 140.1,137.4C139.9,141.1 139.43,144.78 137.2,147.9C134.97,151.02 131.37,153.97 126.7,156.1C122.03,158.23 114.25,160.52 109.2,160.7C104.15,160.88 100.1,159.53 96.4,157.2C92.7,154.87 88.85,150.4 87,146.7C85.15,143 84.92,138.5 85.3,135C85.68,131.5 86.68,128.8 89.3,125.7C91.92,122.6 97.48,118.93 101,116.4C104.52,113.87 107.28,111.77 110.4,110.5C113.52,109.23 116.2,108.22 119.7,108.8Z" fill="none" stroke="#ec7070" stroke-width="0.75" vector-effect="non-scaling-stroke"/>
<path d="M139.6,143C139.93,141.83 141.6,140.25 143,139.5C144.4,138.75 146.72,138.25 148,138.5C149.28,138.75 150.45,139.92 150.7,141C150.95,142.08 150.45,143.85 149.5,145C148.55,146.15 146.42,147.65 145,147.9C143.58,148.15 141.9,147.32 141,146.5C140.1,145.68 139.27,144.17 139.6,143Z" fill="none" stroke="#e060e8" stroke-width="0.75" vector-effect="non-scaling-stroke"/>
<path d="M61,101.5C61.5,100.57 64.03,100.98 66,100.9C67.97,100.82 71.8,100.32 72.8,101C73.8,101.68 72.8,103.92 72,105C71.2,106.08 69.5,107.25 68,107.5C66.5,107.75 64.17,107.5 63,106.5C61.83,105.5 60.5,102.43 61,101.5Z" fill="none" stroke="#b070f0" stroke-width="0.75" vector-effect="non-scaling-stroke"/>
<path d="M60.5,96.5C62.83,94.83 70.5,92.58 76,90.5C81.5,88.42 90.42,84.5 93.5,84C96.58,83.5 97.08,85.83 94.5,87.5C91.92,89.17 83.42,91.83 78,94C72.58,96.17 64.92,100.08 62,100.5C59.08,100.92 58.17,98.17 60.5,96.5Z" fill="none" stroke="#40d8a8" stroke-width="0.75" vector-effect="non-scaling-stroke"/>
</g>
<rect x="472.3" y="416.5" width="95.2" height="71" fill="none" stroke="#111" stroke-width="1.3"/>
<path d="M55.4,492.3V477.7 M55.4,492.3H67.5" stroke="#222" stroke-width="0.8" fill="none"/>
<path d="M55.4,474.7 l-2,4 h4z M70.5,492.3 l-4,-2 v4z" fill="#111"/>
<text x="55.1" y="502.1" font-size="7.5" fill="#333">UMAP</text>
<text font-size="7.5" fill="#333" transform="translate(51,493.7) rotate(-90)">UMAP</text>
<text x="586" y="214.3" font-size="11.5" font-weight="bold" fill="#000">d</text>
<rect x="591.8" y="237" width="88.2" height="63.4" fill="#ededed"/>
<text x="639" y="232.4" font-size="7.7" text-anchor="middle" fill="#222">Frequency in MAIT(%)</text>
<rect x="595.2" y="297.62" width="18.8" height="0.63" fill="#fb61d7"/>
<rect x="595.2" y="294.4" width="18.8" height="3.27" fill="#5fc32a"/>
<rect x="595.2" y="239.7" width="18.8" height="54.75" fill="#e96b6b"/>
<rect x="616.2" y="297.62" width="18.8" height="0.63" fill="#a58aff"/>
<rect x="616.2" y="288.25" width="18.8" height="9.41" fill="#5fc32a"/>
<rect x="616.2" y="239.7" width="18.8" height="48.6" fill="#e96b6b"/>
<rect x="637.1" y="297.62" width="18.8" height="0.63" fill="#a58aff"/>
<rect x="637.1" y="297.32" width="18.8" height="0.34" fill="#4cbfea"/>
<rect x="637.1" y="281.82" width="18.8" height="15.55" fill="#5fc32a"/>
<rect x="637.1" y="239.7" width="18.8" height="42.17" fill="#e96b6b"/>
<rect x="658.1" y="296.44" width="18.8" height="1.8" fill="#a58aff"/>
<rect x="658.1" y="293.81" width="18.8" height="2.68" fill="#2ec99a"/>
<rect x="658.1" y="241.46" width="18.8" height="52.41" fill="#5fc32a"/>
<rect x="658.1" y="239.7" width="18.8" height="1.8" fill="#e96b6b"/>
<path d="M591.6,237 V300.7 H680" fill="none" stroke="#111" stroke-width="1.1"/>
<path d="M589.5,240.3 H591.6" stroke="#333" stroke-width="0.8"/>
<text x="588.2" y="242.9" font-size="7.6" text-anchor="end" fill="#333">100</text>
<path d="M589.5,269.25 H591.6" stroke="#333" stroke-width="0.8"/>
<text x="588.2" y="271.85" font-size="7.6" text-anchor="end" fill="#333">50</text>
<path d="M589.5,298.2 H591.6" stroke="#333" stroke-width="0.8"/>
<text x="588.2" y="300.8" font-size="7.6" text-anchor="end" fill="#333">0</text>
<path d="M604.6,300.7 V302.7" stroke="#333" stroke-width="0.8"/>
<text x="604.6" y="312.3" font-size="7.6" text-anchor="middle" fill="#333">4m</text>
<path d="M625.6,300.7 V302.7" stroke="#333" stroke-width="0.8"/>
<text x="625.6" y="312.3" font-size="7.6" text-anchor="middle" fill="#333">5y</text>
<path d="M646.5,300.7 V302.7" stroke="#333" stroke-width="0.8"/>
<text x="646.5" y="312.3" font-size="7.6" text-anchor="middle" fill="#333">8y</text>
<path d="M667.5,300.7 V302.7" stroke="#333" stroke-width="0.8"/>
<text x="667.5" y="312.3" font-size="7.6" text-anchor="middle" fill="#333">28y</text>
<rect x="591.8" y="329.4" width="88.2" height="63.4" fill="#ededed"/>
<text x="639" y="324" font-size="7.7" text-anchor="middle" fill="#222">Frequency in iNKT(%)</text>
<rect x="595.2" y="389.22" width="18.8" height="0.93" fill="#a58aff"/>
<rect x="595.2" y="387.45" width="18.8" height="1.81" fill="#4cbfea"/>
<rect x="595.2" y="387.16" width="18.8" height="0.34" fill="#2ec99a"/>
<rect x="595.2" y="381.28" width="18.8" height="5.93" fill="#43cc43"/>
<rect x="595.2" y="331.3" width="18.8" height="50.03" fill="#e96b6b"/>
<rect x="616.2" y="389.81" width="18.8" height="0.34" fill="#a58aff"/>
<rect x="616.2" y="389.22" width="18.8" height="0.64" fill="#bc9f2c"/>
<rect x="616.2" y="331.3" width="18.8" height="57.97" fill="#e96b6b"/>
<rect x="637.1" y="389.81" width="18.8" height="0.34" fill="#a58aff"/>
<rect x="637.1" y="388.92" width="18.8" height="0.93" fill="#43cc43"/>
<rect x="637.1" y="331.3" width="18.8" height="57.67" fill="#e96b6b"/>
<rect x="658.1" y="389.51" width="18.8" height="0.64" fill="#a58aff"/>
<rect x="658.1" y="388.63" width="18.8" height="0.93" fill="#4cbfea"/>
<rect x="658.1" y="386.28" width="18.8" height="2.4" fill="#2ec99a"/>
<rect x="658.1" y="353.06" width="18.8" height="33.27" fill="#43cc43"/>
<rect x="658.1" y="331.3" width="18.8" height="21.81" fill="#e96b6b"/>
<path d="M591.6,329.4 V393.1 H680" fill="none" stroke="#111" stroke-width="1.1"/>
<path d="M589.5,331.9 H591.6" stroke="#333" stroke-width="0.8"/>
<text x="588.2" y="334.5" font-size="7.6" text-anchor="end" fill="#333">100</text>
<path d="M589.5,361 H591.6" stroke="#333" stroke-width="0.8"/>
<text x="588.2" y="363.6" font-size="7.6" text-anchor="end" fill="#333">50</text>
<path d="M589.5,390.1 H591.6" stroke="#333" stroke-width="0.8"/>
<text x="588.2" y="392.7" font-size="7.6" text-anchor="end" fill="#333">0</text>
<path d="M604.6,393.1 V395.1" stroke="#333" stroke-width="0.8"/>
<text x="604.6" y="404.1" font-size="7.6" text-anchor="middle" fill="#333">4m</text>
<path d="M625.6,393.1 V395.1" stroke="#333" stroke-width="0.8"/>
<text x="625.6" y="404.1" font-size="7.6" text-anchor="middle" fill="#333">5y</text>
<path d="M646.5,393.1 V395.1" stroke="#333" stroke-width="0.8"/>
<text x="646.5" y="404.1" font-size="7.6" text-anchor="middle" fill="#333">8y</text>
<path d="M667.5,393.1 V395.1" stroke="#333" stroke-width="0.8"/>
<text x="667.5" y="404.1" font-size="7.6" text-anchor="middle" fill="#333">28y</text>
<rect x="591.8" y="421.5" width="88.2" height="64.5" fill="#ededed"/>
<text x="639" y="415.8" font-size="7.7" text-anchor="middle" fill="#222">Frequency in γδ T(%)</text>
<rect x="595.2" y="479.24" width="18.8" height="3.91" fill="#4cbfea"/>
<rect x="595.2" y="477.46" width="18.8" height="1.83" fill="#2ec99a"/>
<rect x="595.2" y="424.29" width="18.8" height="53.21" fill="#bc9f2c"/>
<rect x="595.2" y="423.7" width="18.8" height="0.64" fill="#e96b6b"/>
<rect x="616.2" y="479.24" width="18.8" height="3.91" fill="#4cbfea"/>
<rect x="616.2" y="478.94" width="18.8" height="0.35" fill="#2ec99a"/>
<rect x="616.2" y="423.7" width="18.8" height="55.29" fill="#bc9f2c"/>
<rect x="637.1" y="482.21" width="18.8" height="0.94" fill="#4cbfea"/>
<rect x="637.1" y="480.43" width="18.8" height="1.83" fill="#2ec99a"/>
<rect x="637.1" y="423.7" width="18.8" height="56.78" fill="#bc9f2c"/>
<rect x="658.1" y="482.21" width="18.8" height="0.94" fill="#4cbfea"/>
<rect x="658.1" y="481.32" width="18.8" height="0.94" fill="#2ec99a"/>
<rect x="658.1" y="423.7" width="18.8" height="57.67" fill="#bc9f2c"/>
<path d="M591.6,421.5 V486.3 H680" fill="none" stroke="#111" stroke-width="1.1"/>
<path d="M589.5,424.3 H591.6" stroke="#333" stroke-width="0.8"/>
<text x="588.2" y="426.9" font-size="7.6" text-anchor="end" fill="#333">100</text>
<path d="M589.5,453.7 H591.6" stroke="#333" stroke-width="0.8"/>
<text x="588.2" y="456.3" font-size="7.6" text-anchor="end" fill="#333">50</text>
<path d="M589.5,483.1 H591.6" stroke="#333" stroke-width="0.8"/>
<text x="588.2" y="485.7" font-size="7.6" text-anchor="end" fill="#333">0</text>
<path d="M604.6,486.3 V488.3" stroke="#333" stroke-width="0.8"/>
<text x="604.6" y="497.7" font-size="7.6" text-anchor="middle" fill="#333">4m</text>
<path d="M625.6,486.3 V488.3" stroke="#333" stroke-width="0.8"/>
<text x="625.6" y="497.7" font-size="7.6" text-anchor="middle" fill="#333">5y</text>
<path d="M646.5,486.3 V488.3" stroke="#333" stroke-width="0.8"/>
<text x="646.5" y="497.7" font-size="7.6" text-anchor="middle" fill="#333">8y</text>
<path d="M667.5,486.3 V488.3" stroke="#333" stroke-width="0.8"/>
<text x="667.5" y="497.7" font-size="7.6" text-anchor="middle" fill="#333">28y</text>
<text x="3.9" y="524.9" font-size="11.5" font-weight="bold" fill="#000">e</text>
<path d="M83.7,526.6 V635.4 H625.6" fill="none" stroke="#a0a0a0" stroke-width="1.1"/>
<path d="M555.9,526.6 V635.4" fill="none" stroke="#a8a8a8" stroke-width="1.1"/>
<text x="80.3" y="538.15" font-size="6.5" text-anchor="end">Proliferating γδ T</text>
<path d="M82.2,535.45 H83.7" stroke="#333" stroke-width="0.6"/>
<text x="80.3" y="553.25" font-size="6.5" text-anchor="end">γδ T</text>
<path d="M82.2,550.55 H83.7" stroke="#333" stroke-width="0.6"/>
<text x="80.3" y="568.45" font-size="6.5" text-anchor="end">IFN-responsive</text>
<path d="M82.2,565.75 H83.7" stroke="#333" stroke-width="0.6"/>
<text x="80.3" y="583.75" font-size="6.5" text-anchor="end">Mat MAIT/iNKT(2)</text>
<path d="M82.2,581.05 H83.7" stroke="#333" stroke-width="0.6"/>
<text x="80.3" y="598.75" font-size="6.5" text-anchor="end">Mat MAIT/iNKT(1)</text>
<path d="M82.2,596.05 H83.7" stroke="#333" stroke-width="0.6"/>
<text x="80.3" y="614" font-size="6.5" text-anchor="end">Imm MAIT/iNKT</text>
<path d="M82.2,611.3 H83.7" stroke="#333" stroke-width="0.6"/>
<text x="80.3" y="628.8" font-size="6.5" text-anchor="end">Post-selection MAIT/iNKT</text>
<path d="M82.2,626.1 H83.7" stroke="#333" stroke-width="0.6"/>
<circle cx="89.1" cy="535.45" r="2.64" fill="#d4563c"/>
<circle cx="97.33" cy="535.45" r="1.98" fill="#d4563c"/>
<circle cx="105.56" cy="535.45" r="1.32" fill="#d4563c"/>
<circle cx="113.79" cy="535.45" r="0.66" fill="#b96d5f"/>
<circle cx="122.02" cy="535.45" r="1.98" fill="#d4563c"/>
<circle cx="130.25" cy="535.45" r="2.31" fill="#d4563c"/>
<circle cx="138.47" cy="535.45" r="2.64" fill="#d4563c"/>
<circle cx="146.7" cy="535.45" r="2.64" fill="#d4563c"/>
<circle cx="154.93" cy="535.45" r="0.99" fill="#d4563c"/>
<circle cx="163.16" cy="535.45" r="0.66" fill="#9a8c8c"/>
<circle cx="171.39" cy="535.45" r="1.98" fill="#6a95a3"/>
<circle cx="179.62" cy="535.45" r="2.64" fill="#9a8c8c"/>
<circle cx="187.85" cy="535.45" r="2.31" fill="#b96d5f"/>
<circle cx="196.08" cy="535.45" r="0.99" fill="#9a8c8c"/>
<circle cx="204.31" cy="535.45" r="0.99" fill="#6a95a3"/>
<circle cx="212.53" cy="535.45" r="2.97" fill="#b96d5f"/>
<circle cx="220.76" cy="535.45" r="0.42" fill="#9a8c8c" opacity="0.6"/>
<circle cx="228.99" cy="535.45" r="0.66" fill="#9a8c8c"/>
<circle cx="237.22" cy="535.45" r="0.99" fill="#9a8c8c"/>
<circle cx="245.45" cy="535.45" r="0.42" fill="#9a8c8c" opacity="0.6"/>
<circle cx="253.68" cy="535.45" r="0.42" fill="#9a8c8c" opacity="0.6"/>
<circle cx="261.91" cy="535.45" r="0.42" fill="#9a8c8c" opacity="0.6"/>
<circle cx="270.14" cy="535.45" r="0.42" fill="#9a8c8c" opacity="0.6"/>
<circle cx="278.37" cy="535.45" r="0.42" fill="#9a8c8c" opacity="0.6"/>
<circle cx="286.6" cy="535.45" r="0.99" fill="#6a95a3"/>
<circle cx="294.82" cy="535.45" r="0.42" fill="#9a8c8c" opacity="0.6"/>
<circle cx="303.05" cy="535.45" r="0.99" fill="#9a8c8c"/>
<circle cx="311.28" cy="535.45" r="0.42" fill="#9a8c8c" opacity="0.6"/>
<circle cx="319.51" cy="535.45" r="0.66" fill="#9a8c8c"/>
<circle cx="327.74" cy="535.45" r="1.65" fill="#b96d5f"/>
<circle cx="335.97" cy="535.45" r="0.99" fill="#9a8c8c"/>
<circle cx="344.2" cy="535.45" r="1.98" fill="#b96d5f"/>
<circle cx="352.43" cy="535.45" r="0.99" fill="#b96d5f"/>
<circle cx="360.66" cy="535.45" r="0.66" fill="#b96d5f"/>
<circle cx="368.89" cy="535.45" r="0.42" fill="#9a8c8c" opacity="0.6"/>
<circle cx="377.12" cy="535.45" r="0.99" fill="#b96d5f"/>
<circle cx="385.34" cy="535.45" r="0.42" fill="#9a8c8c" opacity="0.6"/>
<circle cx="393.57" cy="535.45" r="1.65" fill="#b96d5f"/>
<circle cx="401.8" cy="535.45" r="1.98" fill="#9a8c8c"/>
<circle cx="410.03" cy="535.45" r="2.64" fill="#b96d5f"/>
<circle cx="418.26" cy="535.45" r="2.31" fill="#b96d5f"/>
<circle cx="426.49" cy="535.45" r="2.64" fill="#d4563c"/>
<circle cx="434.72" cy="535.45" r="2.31" fill="#b96d5f"/>
<circle cx="442.95" cy="535.45" r="2.97" fill="#d4563c"/>
<circle cx="451.18" cy="535.45" r="1.98" fill="#d4563c"/>
<circle cx="459.4" cy="535.45" r="1.65" fill="#b96d5f"/>
<circle cx="467.63" cy="535.45" r="1.98" fill="#d4563c"/>
<circle cx="475.86" cy="535.45" r="2.64" fill="#ec3a1f"/>
<circle cx="484.09" cy="535.45" r="1.98" fill="#ec3a1f"/>
<circle cx="492.32" cy="535.45" r="1.98" fill="#ec3a1f"/>
<circle cx="500.55" cy="535.45" r="2.31" fill="#ec3a1f"/>
<circle cx="508.78" cy="535.45" r="2.64" fill="#ec3a1f"/>
<circle cx="517.01" cy="535.45" r="2.97" fill="#d4563c"/>
<circle cx="525.24" cy="535.45" r="2.97" fill="#ec3a1f"/>
<circle cx="533.47" cy="535.45" r="2.97" fill="#ec3a1f"/>
<circle cx="541.69" cy="535.45" r="2.97" fill="#ec3a1f"/>
<circle cx="549.92" cy="535.45" r="2.97" fill="#ec3a1f"/>
<circle cx="561.4" cy="535.45" r="0.42" fill="#9a8c8c" opacity="0.6"/>
<circle cx="571.2" cy="535.45" r="0.42" fill="#9a8c8c" opacity="0.6"/>
<circle cx="580.8" cy="535.45" r="0.66" fill="#9a8c8c"/>
<circle cx="590.4" cy="535.45" r="2.31" fill="#ec3a1f"/>
<circle cx="600.1" cy="535.45" r="0.99" fill="#6a95a3"/>
<circle cx="609.8" cy="535.45" r="0.99" fill="#9a8c8c"/>
<circle cx="619.5" cy="535.45" r="0.99" fill="#6a95a3"/>
<circle cx="89.1" cy="550.55" r="0.66" fill="#d4563c"/>
<circle cx="97.33" cy="550.55" r="0.42" fill="#b96d5f" opacity="0.6"/>
<circle cx="105.56" cy="550.55" r="0.42" fill="#b96d5f" opacity="0.6"/>
<circle cx="113.79" cy="550.55" r="0.42" fill="#9a8c8c" opacity="0.6"/>
<circle cx="122.02" cy="550.55" r="0.42" fill="#b96d5f" opacity="0.6"/>
<circle cx="130.25" cy="550.55" r="0.66" fill="#b96d5f"/>
<circle cx="138.47" cy="550.55" r="0.66" fill="#b96d5f"/>
<circle cx="146.7" cy="550.55" r="0.66" fill="#b96d5f"/>
<circle cx="154.93" cy="550.55" r="0.42" fill="#b96d5f" opacity="0.6"/>
<circle cx="163.16" cy="550.55" r="0.42" fill="#9a8c8c" opacity="0.6"/>
<circle cx="171.39" cy="550.55" r="1.32" fill="#9a8c8c"/>
<circle cx="179.62" cy="550.55" r="1.98" fill="#9a8c8c"/>
<circle cx="187.85" cy="550.55" r="1.98" fill="#b96d5f"/>
<circle cx="196.08" cy="550.55" r="0.99" fill="#d4563c"/>
<circle cx="204.31" cy="550.55" r="0.99" fill="#d4563c"/>
<circle cx="212.53" cy="550.55" r="2.97" fill="#b96d5f"/>
<circle cx="220.76" cy="550.55" r="0.42" fill="#9a8c8c" opacity="0.6"/>
<circle cx="228.99" cy="550.55" r="1.98" fill="#b96d5f"/>
<circle cx="237.22" cy="550.55" r="0.99" fill="#b96d5f"/>
<circle cx="245.45" cy="550.55" r="0.42" fill="#9a8c8c" opacity="0.6"/>
<circle cx="253.68" cy="550.55" r="0.42" fill="#9a8c8c" opacity="0.6"/>
<circle cx="261.91" cy="550.55" r="0.42" fill="#9a8c8c" opacity="0.6"/>
<circle cx="270.14" cy="550.55" r="0.42" fill="#9a8c8c" opacity="0.6"/>
<circle cx="278.37" cy="550.55" r="0.42" fill="#9a8c8c" opacity="0.6"/>
<circle cx="286.6" cy="550.55" r="0.99" fill="#6a95a3"/>
<circle cx="294.82" cy="550.55" r="0.42" fill="#9a8c8c" opacity="0.6"/>
<circle cx="303.05" cy="550.55" r="0.66" fill="#9a8c8c"/>
<circle cx="311.28" cy="550.55" r="0.66" fill="#9a8c8c"/>
<circle cx="319.51" cy="550.55" r="0.66" fill="#9a8c8c"/>
<circle cx="327.74" cy="550.55" r="0.42" fill="#9a8c8c" opacity="0.6"/>
<circle cx="335.97" cy="550.55" r="0.66" fill="#9a8c8c"/>
<circle cx="344.2" cy="550.55" r="1.65" fill="#b96d5f"/>
<circle cx="352.43" cy="550.55" r="0.66" fill="#b96d5f"/>
<circle cx="360.66" cy="550.55" r="0.66" fill="#b96d5f"/>
<circle cx="368.89" cy="550.55" r="0.42" fill="#9a8c8c" opacity="0.6"/>
<circle cx="377.12" cy="550.55" r="0.66" fill="#9a8c8c"/>
<circle cx="385.34" cy="550.55" r="0.66" fill="#9a8c8c"/>
<circle cx="393.57" cy="550.55" r="1.32" fill="#b96d5f"/>
<circle cx="401.8" cy="550.55" r="1.65" fill="#9a8c8c"/>
<circle cx="410.03" cy="550.55" r="2.97" fill="#d4563c"/>
<circle cx="418.26" cy="550.55" r="1.65" fill="#b96d5f"/>
<circle cx="426.49" cy="550.55" r="1.98" fill="#d4563c"/>
<circle cx="434.72" cy="550.55" r="2.64" fill="#d4563c"/>
<circle cx="442.95" cy="550.55" r="2.64" fill="#d4563c"/>
<circle cx="451.18" cy="550.55" r="2.31" fill="#d4563c"/>
<circle cx="459.4" cy="550.55" r="1.65" fill="#d4563c"/>
<circle cx="467.63" cy="550.55" r="1.65" fill="#b96d5f"/>
<circle cx="475.86" cy="550.55" r="0.42" fill="#9a8c8c" opacity="0.6"/>
<circle cx="484.09" cy="550.55" r="0.66" fill="#9a8c8c"/>
<circle cx="492.32" cy="550.55" r="0.42" fill="#9a8c8c" opacity="0.6"/>
<circle cx="500.55" cy="550.55" r="0.42" fill="#b96d5f" opacity="0.6"/>
<circle cx="508.78" cy="550.55" r="1.32" fill="#9a8c8c"/>
<circle cx="517.01" cy="550.55" r="2.64" fill="#b96d5f"/>
<circle cx="525.24" cy="550.55" r="2.64" fill="#b96d5f"/>
<circle cx="533.47" cy="550.55" r="2.64" fill="#b96d5f"/>
<circle cx="541.69" cy="550.55" r="1.98" fill="#9a8c8c"/>
<circle cx="549.92" cy="550.55" r="2.31" fill="#9a8c8c"/>
<circle cx="561.4" cy="550.55" r="0.42" fill="#9a8c8c" opacity="0.6"/>
<circle cx="571.2" cy="550.55" r="0.42" fill="#9a8c8c" opacity="0.6"/>
<circle cx="580.8" cy="550.55" r="0.42" fill="#9a8c8c" opacity="0.6"/>
<circle cx="590.4" cy="550.55" r="0.42" fill="#9a8c8c" opacity="0.6"/>
<circle cx="600.1" cy="550.55" r="1.98" fill="#d4563c"/>
<circle cx="609.8" cy="550.55" r="0.42" fill="#9a8c8c" opacity="0.6"/>
<circle cx="619.5" cy="550.55" r="0.42" fill="#9a8c8c" opacity="0.6"/>
<circle cx="89.1" cy="565.75" r="0.42" fill="#9a8c8c" opacity="0.6"/>
<circle cx="97.33" cy="565.75" r="0.42" fill="#9a8c8c" opacity="0.6"/>
<circle cx="105.56" cy="565.75" r="0.42" fill="#9a8c8c" opacity="0.6"/>
<circle cx="113.79" cy="565.75" r="0.42" fill="#9a8c8c" opacity="0.6"/>
<circle cx="122.02" cy="565.75" r="0.42" fill="#9a8c8c" opacity="0.6"/>
<circle cx="130.25" cy="565.75" r="0.42" fill="#9a8c8c" opacity="0.6"/>
<circle cx="138.47" cy="565.75" r="0.42" fill="#9a8c8c" opacity="0.6"/>
<circle cx="146.7" cy="565.75" r="0.42" fill="#9a8c8c" opacity="0.6"/>
<circle cx="154.93" cy="565.75" r="0.42" fill="#9a8c8c" opacity="0.6"/>
<circle cx="163.16" cy="565.75" r="0.99" fill="#b96d5f"/>
<circle cx="171.39" cy="565.75" r="1.65" fill="#9a8c8c"/>
<circle cx="179.62" cy="565.75" r="1.98" fill="#9a8c8c"/>
<circle cx="187.85" cy="565.75" r="0.99" fill="#b96d5f"/>
<circle cx="196.08" cy="565.75" r="0.66" fill="#b96d5f"/>
<circle cx="204.31" cy="565.75" r="0.99" fill="#d4563c"/>
<circle cx="212.53" cy="565.75" r="2.97" fill="#b96d5f"/>
<circle cx="220.76" cy="565.75" r="1.65" fill="#d4563c"/>
<circle cx="228.99" cy="565.75" r="2.31" fill="#d4563c"/>
<circle cx="237.22" cy="565.75" r="2.31" fill="#d4563c"/>
<circle cx="245.45" cy="565.75" r="1.65" fill="#d4563c"/>
<circle cx="253.68" cy="565.75" r="1.65" fill="#d4563c"/>
<circle cx="261.91" cy="565.75" r="1.65" fill="#d4563c"/>
<circle cx="270.14" cy="565.75" r="1.98" fill="#d4563c"/>
<circle cx="278.37" cy="565.75" r="1.65" fill="#d4563c"/>
<circle cx="286.6" cy="565.75" r="2.31" fill="#b96d5f"/>
<circle cx="294.82" cy="565.75" r="1.32" fill="#d4563c"/>
<circle cx="303.05" cy="565.75" r="1.32" fill="#d4563c"/>
<circle cx="311.28" cy="565.75" r="1.98" fill="#d4563c"/>
<circle cx="319.51" cy="565.75" r="1.98" fill="#d4563c"/>
<circle cx="327.74" cy="565.75" r="1.98" fill="#d4563c"/>
<circle cx="335.97" cy="565.75" r="1.65" fill="#d4563c"/>
<circle cx="344.2" cy="565.75" r="2.97" fill="#ec3a1f"/>
<circle cx="352.43" cy="565.75" r="2.97" fill="#ec3a1f"/>
<circle cx="360.66" cy="565.75" r="2.64" fill="#ec3a1f"/>
<circle cx="368.89" cy="565.75" r="2.31" fill="#ec3a1f"/>
<circle cx="377.12" cy="565.75" r="2.31" fill="#ec3a1f"/>
<circle cx="385.34" cy="565.75" r="2.31" fill="#ec3a1f"/>
<circle cx="393.57" cy="565.75" r="2.64" fill="#ec3a1f"/>
<circle cx="401.8" cy="565.75" r="2.97" fill="#ec3a1f"/>
<circle cx="410.03" cy="565.75" r="2.97" fill="#d4563c"/>
<circle cx="418.26" cy="565.75" r="2.64" fill="#ec3a1f"/>
<circle cx="426.49" cy="565.75" r="1.32" fill="#d4563c"/>
<circle cx="434.72" cy="565.75" r="1.65" fill="#d4563c"/>
<circle cx="442.95" cy="565.75" r="1.98" fill="#b96d5f"/>
<circle cx="451.18" cy="565.75" r="0.99" fill="#d4563c"/>
<circle cx="459.4" cy="565.75" r="0.99" fill="#d4563c"/>
<circle cx="467.63" cy="565.75" r="0.66" fill="#9a8c8c"/>
<circle cx="475.86" cy="565.75" r="0.42" fill="#9a8c8c" opacity="0.6"/>
<circle cx="484.09" cy="565.75" r="0.42" fill="#9a8c8c" opacity="0.6"/>
<circle cx="492.32" cy="565.75" r="0.42" fill="#9a8c8c" opacity="0.6"/>
<circle cx="500.55" cy="565.75" r="0.42" fill="#9a8c8c" opacity="0.6"/>
<circle cx="508.78" cy="565.75" r="1.32" fill="#b96d5f"/>
<circle cx="517.01" cy="565.75" r="0.99" fill="#6a95a3"/>
<circle cx="525.24" cy="565.75" r="2.31" fill="#9a8c8c"/>
<circle cx="533.47" cy="565.75" r="2.31" fill="#9a8c8c"/>
<circle cx="541.69" cy="565.75" r="1.98" fill="#9a8c8c"/>
<circle cx="549.92" cy="565.75" r="2.31" fill="#9a8c8c"/>
<circle cx="561.4" cy="565.75" r="0.99" fill="#b96d5f"/>
<circle cx="571.2" cy="565.75" r="0.66" fill="#d4563c"/>
<circle cx="580.8" cy="565.75" r="0.66" fill="#9a8c8c"/>
<circle cx="590.4" cy="565.75" r="0.42" fill="#9a8c8c" opacity="0.6"/>
<circle cx="600.1" cy="565.75" r="1.98" fill="#b96d5f"/>
<circle cx="609.8" cy="565.75" r="0.42" fill="#9a8c8c" opacity="0.6"/>
<circle cx="619.5" cy="565.75" r="1.65" fill="#b96d5f"/>
<circle cx="89.1" cy="581.05" r="0.42" fill="#9a8c8c" opacity="0.6"/>
<circle cx="97.33" cy="581.05" r="0.42" fill="#9a8c8c" opacity="0.6"/>
<circle cx="105.56" cy="581.05" r="0.42" fill="#9a8c8c" opacity="0.6"/>
<circle cx="113.79" cy="581.05" r="0.42" fill="#b96d5f" opacity="0.6"/>
<circle cx="122.02" cy="581.05" r="0.42" fill="#9a8c8c" opacity="0.6"/>
<circle cx="130.25" cy="581.05" r="0.42" fill="#9a8c8c" opacity="0.6"/>
<circle cx="138.47" cy="581.05" r="0.42" fill="#9a8c8c" opacity="0.6"/>
<circle cx="146.7" cy="581.05" r="0.42" fill="#9a8c8c" opacity="0.6"/>
<circle cx="154.93" cy="581.05" r="0.42" fill="#9a8c8c" opacity="0.6"/>
<circle cx="163.16" cy="581.05" r="1.32" fill="#d4563c"/>
<circle cx="171.39" cy="581.05" r="1.98" fill="#d4563c"/>
<circle cx="179.62" cy="581.05" r="1.65" fill="#d4563c"/>
<circle cx="187.85" cy="581.05" r="0.99" fill="#d4563c"/>
<circle cx="196.08" cy="581.05" r="0.66" fill="#b96d5f"/>
<circle cx="204.31" cy="581.05" r="0.66" fill="#d4563c"/>
<circle cx="212.53" cy="581.05" r="2.64" fill="#b96d5f"/>
<circle cx="220.76" cy="581.05" r="1.98" fill="#d4563c"/>
<circle cx="228.99" cy="581.05" r="2.31" fill="#d4563c"/>
<circle cx="237.22" cy="581.05" r="2.31" fill="#d4563c"/>
<circle cx="245.45" cy="581.05" r="1.98" fill="#d4563c"/>
<circle cx="253.68" cy="581.05" r="2.31" fill="#d4563c"/>
<circle cx="261.91" cy="581.05" r="1.98" fill="#d4563c"/>
<circle cx="270.14" cy="581.05" r="1.98" fill="#d4563c"/>
<circle cx="278.37" cy="581.05" r="1.98" fill="#d4563c"/>
<circle cx="286.6" cy="581.05" r="2.31" fill="#d4563c"/>
<circle cx="294.82" cy="581.05" r="1.65" fill="#d4563c"/>
<circle cx="303.05" cy="581.05" r="1.98" fill="#ec3a1f"/>
<circle cx="311.28" cy="581.05" r="2.31" fill="#d4563c"/>
<circle cx="319.51" cy="581.05" r="1.98" fill="#d4563c"/>
<circle cx="327.74" cy="581.05" r="1.98" fill="#d4563c"/>
<circle cx="335.97" cy="581.05" r="1.98" fill="#d4563c"/>
<circle cx="344.2" cy="581.05" r="0.99" fill="#b96d5f"/>
<circle cx="352.43" cy="581.05" r="0.66" fill="#b96d5f"/>
<circle cx="360.66" cy="581.05" r="0.66" fill="#b96d5f"/>
<circle cx="368.89" cy="581.05" r="0.42" fill="#9a8c8c" opacity="0.6"/>
<circle cx="377.12" cy="581.05" r="0.66" fill="#b96d5f"/>
<circle cx="385.34" cy="581.05" r="0.99" fill="#d4563c"/>
<circle cx="393.57" cy="581.05" r="0.99" fill="#b96d5f"/>
<circle cx="401.8" cy="581.05" r="1.98" fill="#b96d5f"/>
<circle cx="410.03" cy="581.05" r="2.64" fill="#b96d5f"/>
<circle cx="418.26" cy="581.05" r="0.99" fill="#b96d5f"/>
<circle cx="426.49" cy="581.05" r="0.42" fill="#9a8c8c" opacity="0.6"/>
<circle cx="434.72" cy="581.05" r="0.99" fill="#9a8c8c"/>
<circle cx="442.95" cy="581.05" r="1.32" fill="#6a95a3"/>
<circle cx="451.18" cy="581.05" r="0.42" fill="#9a8c8c" opacity="0.6"/>
<circle cx="459.4" cy="581.05" r="0.42" fill="#9a8c8c" opacity="0.6"/>
<circle cx="467.63" cy="581.05" r="0.42" fill="#9a8c8c" opacity="0.6"/>
<circle cx="475.86" cy="581.05" r="0.42" fill="#9a8c8c" opacity="0.6"/>
<circle cx="484.09" cy="581.05" r="0.42" fill="#9a8c8c" opacity="0.6"/>
<circle cx="492.32" cy="581.05" r="0.42" fill="#9a8c8c" opacity="0.6"/>
<circle cx="500.55" cy="581.05" r="0.42" fill="#9a8c8c" opacity="0.6"/>
<circle cx="508.78" cy="581.05" r="1.32" fill="#b96d5f"/>
<circle cx="517.01" cy="581.05" r="0.99" fill="#b96d5f"/>
<circle cx="525.24" cy="581.05" r="2.31" fill="#b96d5f"/>
<circle cx="533.47" cy="581.05" r="2.31" fill="#b96d5f"/>
<circle cx="541.69" cy="581.05" r="1.65" fill="#b96d5f"/>
<circle cx="549.92" cy="581.05" r="1.98" fill="#9a8c8c"/>
<circle cx="561.4" cy="581.05" r="1.32" fill="#d4563c"/>
<circle cx="571.2" cy="581.05" r="0.66" fill="#9a8c8c"/>
<circle cx="580.8" cy="581.05" r="0.99" fill="#9a8c8c"/>
<circle cx="590.4" cy="581.05" r="0.42" fill="#9a8c8c" opacity="0.6"/>
<circle cx="600.1" cy="581.05" r="1.65" fill="#b96d5f"/>
<circle cx="609.8" cy="581.05" r="0.42" fill="#9a8c8c" opacity="0.6"/>
<circle cx="619.5" cy="581.05" r="2.31" fill="#b96d5f"/>
<circle cx="89.1" cy="596.05" r="0.42" fill="#9a8c8c" opacity="0.6"/>
<circle cx="97.33" cy="596.05" r="0.42" fill="#9a8c8c" opacity="0.6"/>
<circle cx="105.56" cy="596.05" r="0.42" fill="#9a8c8c" opacity="0.6"/>
<circle cx="113.79" cy="596.05" r="0.42" fill="#b96d5f" opacity="0.6"/>
<circle cx="122.02" cy="596.05" r="0.42" fill="#9a8c8c" opacity="0.6"/>
<circle cx="130.25" cy="596.05" r="0.42" fill="#9a8c8c" opacity="0.6"/>
<circle cx="138.47" cy="596.05" r="0.42" fill="#9a8c8c" opacity="0.6"/>
<circle cx="146.7" cy="596.05" r="0.42" fill="#9a8c8c" opacity="0.6"/>
<circle cx="154.93" cy="596.05" r="0.42" fill="#9a8c8c" opacity="0.6"/>
<circle cx="163.16" cy="596.05" r="1.32" fill="#b96d5f"/>
<circle cx="171.39" cy="596.05" r="1.65" fill="#b96d5f"/>
<circle cx="179.62" cy="596.05" r="1.65" fill="#6a95a3"/>
<circle cx="187.85" cy="596.05" r="0.66" fill="#9a8c8c"/>
<circle cx="196.08" cy="596.05" r="0.42" fill="#9a8c8c" opacity="0.6"/>
<circle cx="204.31" cy="596.05" r="0.66" fill="#9a8c8c"/>
<circle cx="212.53" cy="596.05" r="2.97" fill="#9a8c8c"/>
<circle cx="220.76" cy="596.05" r="2.97" fill="#d4563c"/>
<circle cx="228.99" cy="596.05" r="2.97" fill="#d4563c"/>
<circle cx="237.22" cy="596.05" r="2.97" fill="#d4563c"/>
<circle cx="245.45" cy="596.05" r="2.97" fill="#d4563c"/>
<circle cx="253.68" cy="596.05" r="2.97" fill="#d4563c"/>
<circle cx="261.91" cy="596.05" r="2.64" fill="#d4563c"/>
<circle cx="270.14" cy="596.05" r="2.64" fill="#d4563c"/>
<circle cx="278.37" cy="596.05" r="2.64" fill="#d4563c"/>
<circle cx="286.6" cy="596.05" r="2.97" fill="#d4563c"/>
<circle cx="294.82" cy="596.05" r="2.64" fill="#d4563c"/>
<circle cx="303.05" cy="596.05" r="0.99" fill="#b96d5f"/>
<circle cx="311.28" cy="596.05" r="2.64" fill="#d4563c"/>
<circle cx="319.51" cy="596.05" r="2.64" fill="#d4563c"/>
<circle cx="327.74" cy="596.05" r="2.31" fill="#d4563c"/>
<circle cx="335.97" cy="596.05" r="2.31" fill="#d4563c"/>
<circle cx="344.2" cy="596.05" r="1.32" fill="#b96d5f"/>
<circle cx="352.43" cy="596.05" r="0.99" fill="#b96d5f"/>
<circle cx="360.66" cy="596.05" r="0.66" fill="#b96d5f"/>
<circle cx="368.89" cy="596.05" r="0.42" fill="#9a8c8c" opacity="0.6"/>
<circle cx="377.12" cy="596.05" r="0.99" fill="#b96d5f"/>
<circle cx="385.34" cy="596.05" r="0.99" fill="#b96d5f"/>
<circle cx="393.57" cy="596.05" r="1.32" fill="#b96d5f"/>
<circle cx="401.8" cy="596.05" r="2.31" fill="#d4563c"/>
<circle cx="410.03" cy="596.05" r="2.97" fill="#b96d5f"/>
<circle cx="418.26" cy="596.05" r="1.65" fill="#b96d5f"/>
<circle cx="426.49" cy="596.05" r="0.42" fill="#6a95a3" opacity="0.6"/>
<circle cx="434.72" cy="596.05" r="0.99" fill="#6a95a3"/>
<circle cx="442.95" cy="596.05" r="1.32" fill="#6a95a3"/>
<circle cx="451.18" cy="596.05" r="0.42" fill="#9a8c8c" opacity="0.6"/>
<circle cx="459.4" cy="596.05" r="0.42" fill="#9a8c8c" opacity="0.6"/>
<circle cx="467.63" cy="596.05" r="0.42" fill="#9a8c8c" opacity="0.6"/>
<circle cx="475.86" cy="596.05" r="0.42" fill="#9a8c8c" opacity="0.6"/>
<circle cx="484.09" cy="596.05" r="0.42" fill="#9a8c8c" opacity="0.6"/>
<circle cx="492.32" cy="596.05" r="0.42" fill="#9a8c8c" opacity="0.6"/>
<circle cx="500.55" cy="596.05" r="0.42" fill="#9a8c8c" opacity="0.6"/>
<circle cx="508.78" cy="596.05" r="1.65" fill="#b96d5f"/>
<circle cx="517.01" cy="596.05" r="0.66" fill="#6a95a3"/>
<circle cx="525.24" cy="596.05" r="2.31" fill="#9a8c8c"/>
<circle cx="533.47" cy="596.05" r="2.31" fill="#9a8c8c"/>
<circle cx="541.69" cy="596.05" r="1.98" fill="#b96d5f"/>
<circle cx="549.92" cy="596.05" r="2.31" fill="#b96d5f"/>
<circle cx="561.4" cy="596.05" r="1.65" fill="#d4563c"/>
<circle cx="571.2" cy="596.05" r="0.66" fill="#b96d5f"/>
<circle cx="580.8" cy="596.05" r="0.99" fill="#b96d5f"/>
<circle cx="590.4" cy="596.05" r="0.42" fill="#9a8c8c" opacity="0.6"/>
<circle cx="600.1" cy="596.05" r="1.65" fill="#b96d5f"/>
<circle cx="609.8" cy="596.05" r="0.42" fill="#9a8c8c" opacity="0.6"/>
<circle cx="619.5" cy="596.05" r="2.31" fill="#b96d5f"/>
<circle cx="89.1" cy="611.3" r="0.42" fill="#b96d5f" opacity="0.6"/>
<circle cx="97.33" cy="611.3" r="0.42" fill="#b96d5f" opacity="0.6"/>
<circle cx="105.56" cy="611.3" r="0.42" fill="#9a8c8c" opacity="0.6"/>
<circle cx="113.79" cy="611.3" r="0.42" fill="#b96d5f" opacity="0.6"/>
<circle cx="122.02" cy="611.3" r="0.42" fill="#b96d5f" opacity="0.6"/>
<circle cx="130.25" cy="611.3" r="0.42" fill="#9a8c8c" opacity="0.6"/>
<circle cx="138.47" cy="611.3" r="0.42" fill="#b96d5f" opacity="0.6"/>
<circle cx="146.7" cy="611.3" r="0.42" fill="#b96d5f" opacity="0.6"/>
<circle cx="154.93" cy="611.3" r="0.42" fill="#b96d5f" opacity="0.6"/>
<circle cx="163.16" cy="611.3" r="1.32" fill="#b96d5f"/>
<circle cx="171.39" cy="611.3" r="2.64" fill="#d4563c"/>
<circle cx="179.62" cy="611.3" r="2.64" fill="#ec3a1f"/>
<circle cx="187.85" cy="611.3" r="2.64" fill="#ec3a1f"/>
<circle cx="196.08" cy="611.3" r="1.98" fill="#d4563c"/>
<circle cx="204.31" cy="611.3" r="1.65" fill="#ec3a1f"/>
<circle cx="212.53" cy="611.3" r="2.97" fill="#ec3a1f"/>
<circle cx="220.76" cy="611.3" r="0.42" fill="#9a8c8c" opacity="0.6"/>
<circle cx="228.99" cy="611.3" r="0.42" fill="#9a8c8c" opacity="0.6"/>
<circle cx="237.22" cy="611.3" r="0.66" fill="#9a8c8c"/>
<circle cx="245.45" cy="611.3" r="0.42" fill="#9a8c8c" opacity="0.6"/>
<circle cx="253.68" cy="611.3" r="0.42" fill="#9a8c8c" opacity="0.6"/>
<circle cx="261.91" cy="611.3" r="0.42" fill="#9a8c8c" opacity="0.6"/>
<circle cx="270.14" cy="611.3" r="0.42" fill="#9a8c8c" opacity="0.6"/>
<circle cx="278.37" cy="611.3" r="0.42" fill="#9a8c8c" opacity="0.6"/>
<circle cx="286.6" cy="611.3" r="0.99" fill="#b96d5f"/>
<circle cx="294.82" cy="611.3" r="0.42" fill="#9a8c8c" opacity="0.6"/>
<circle cx="303.05" cy="611.3" r="0.66" fill="#9a8c8c"/>
<circle cx="311.28" cy="611.3" r="1.32" fill="#b96d5f"/>
<circle cx="319.51" cy="611.3" r="0.66" fill="#b96d5f"/>
<circle cx="327.74" cy="611.3" r="0.66" fill="#9a8c8c"/>
<circle cx="335.97" cy="611.3" r="0.42" fill="#9a8c8c" opacity="0.6"/>
<circle cx="344.2" cy="611.3" r="0.99" fill="#b96d5f"/>
<circle cx="352.43" cy="611.3" r="0.66" fill="#b96d5f"/>
<circle cx="360.66" cy="611.3" r="0.42" fill="#b96d5f" opacity="0.6"/>
<circle cx="368.89" cy="611.3" r="0.42" fill="#9a8c8c" opacity="0.6"/>
<circle cx="377.12" cy="611.3" r="0.42" fill="#9a8c8c" opacity="0.6"/>
<circle cx="385.34" cy="611.3" r="0.66" fill="#b96d5f"/>
<circle cx="393.57" cy="611.3" r="0.99" fill="#b96d5f"/>
<circle cx="401.8" cy="611.3" r="1.32" fill="#9a8c8c"/>
<circle cx="410.03" cy="611.3" r="1.98" fill="#9a8c8c"/>
<circle cx="418.26" cy="611.3" r="0.42" fill="#9a8c8c" opacity="0.6"/>
<circle cx="426.49" cy="611.3" r="0.66" fill="#b96d5f"/>
<circle cx="434.72" cy="611.3" r="0.99" fill="#9a8c8c"/>
<circle cx="442.95" cy="611.3" r="1.65" fill="#b96d5f"/>
<circle cx="451.18" cy="611.3" r="0.42" fill="#9a8c8c" opacity="0.6"/>
<circle cx="459.4" cy="611.3" r="0.42" fill="#9a8c8c" opacity="0.6"/>
<circle cx="467.63" cy="611.3" r="0.42" fill="#9a8c8c" opacity="0.6"/>
<circle cx="475.86" cy="611.3" r="0.42" fill="#9a8c8c" opacity="0.6"/>
<circle cx="484.09" cy="611.3" r="0.42" fill="#9a8c8c" opacity="0.6"/>
<circle cx="492.32" cy="611.3" r="0.42" fill="#9a8c8c" opacity="0.6"/>
<circle cx="500.55" cy="611.3" r="0.42" fill="#9a8c8c" opacity="0.6"/>
<circle cx="508.78" cy="611.3" r="0.99" fill="#9a8c8c"/>
<circle cx="517.01" cy="611.3" r="2.64" fill="#b96d5f"/>
<circle cx="525.24" cy="611.3" r="2.31" fill="#b96d5f"/>
<circle cx="533.47" cy="611.3" r="2.31" fill="#b96d5f"/>
<circle cx="541.69" cy="611.3" r="1.98" fill="#b96d5f"/>
<circle cx="549.92" cy="611.3" r="1.98" fill="#b96d5f"/>
<circle cx="561.4" cy="611.3" r="0.66" fill="#b96d5f"/>
<circle cx="571.2" cy="611.3" r="0.42" fill="#9a8c8c" opacity="0.6"/>
<circle cx="580.8" cy="611.3" r="0.42" fill="#9a8c8c" opacity="0.6"/>
<circle cx="590.4" cy="611.3" r="0.42" fill="#9a8c8c" opacity="0.6"/>
<circle cx="600.1" cy="611.3" r="1.65" fill="#d4563c"/>
<circle cx="609.8" cy="611.3" r="0.99" fill="#b96d5f"/>
<circle cx="619.5" cy="611.3" r="1.65" fill="#b96d5f"/>
<circle cx="89.1" cy="626.1" r="2.97" fill="#ec3a1f"/>
<circle cx="97.33" cy="626.1" r="2.31" fill="#ec3a1f"/>
<circle cx="105.56" cy="626.1" r="1.98" fill="#ec3a1f"/>
<circle cx="113.79" cy="626.1" r="2.31" fill="#ec3a1f"/>
<circle cx="122.02" cy="626.1" r="2.31" fill="#ec3a1f"/>
<circle cx="130.25" cy="626.1" r="2.64" fill="#ec3a1f"/>
<circle cx="138.47" cy="626.1" r="2.64" fill="#ec3a1f"/>
<circle cx="146.7" cy="626.1" r="2.31" fill="#ec3a1f"/>
<circle cx="154.93" cy="626.1" r="1.98" fill="#ec3a1f"/>
<circle cx="163.16" cy="626.1" r="2.64" fill="#ec3a1f"/>
<circle cx="171.39" cy="626.1" r="2.31" fill="#d4563c"/>
<circle cx="179.62" cy="626.1" r="1.98" fill="#b96d5f"/>
<circle cx="187.85" cy="626.1" r="0.66" fill="#9a8c8c"/>
<circle cx="196.08" cy="626.1" r="0.99" fill="#d4563c"/>
<circle cx="204.31" cy="626.1" r="0.42" fill="#9a8c8c" opacity="0.6"/>
<circle cx="212.53" cy="626.1" r="2.31" fill="#6a95a3"/>
<circle cx="220.76" cy="626.1" r="0.42" fill="#9a8c8c" opacity="0.6"/>
<circle cx="228.99" cy="626.1" r="0.42" fill="#9a8c8c" opacity="0.6"/>
<circle cx="237.22" cy="626.1" r="0.42" fill="#9a8c8c" opacity="0.6"/>
<circle cx="245.45" cy="626.1" r="0.42" fill="#9a8c8c" opacity="0.6"/>
<circle cx="253.68" cy="626.1" r="0.42" fill="#9a8c8c" opacity="0.6"/>
<circle cx="261.91" cy="626.1" r="0.42" fill="#9a8c8c" opacity="0.6"/>
<circle cx="270.14" cy="626.1" r="0.42" fill="#9a8c8c" opacity="0.6"/>
<circle cx="278.37" cy="626.1" r="0.42" fill="#9a8c8c" opacity="0.6"/>
<circle cx="286.6" cy="626.1" r="0.99" fill="#b96d5f"/>
<circle cx="294.82" cy="626.1" r="0.42" fill="#9a8c8c" opacity="0.6"/>
<circle cx="303.05" cy="626.1" r="0.66" fill="#d4563c"/>
<circle cx="311.28" cy="626.1" r="0.42" fill="#9a8c8c" opacity="0.6"/>
<circle cx="319.51" cy="626.1" r="0.42" fill="#9a8c8c" opacity="0.6"/>
<circle cx="327.74" cy="626.1" r="0.42" fill="#9a8c8c" opacity="0.6"/>
<circle cx="335.97" cy="626.1" r="0.42" fill="#9a8c8c" opacity="0.6"/>
<circle cx="344.2" cy="626.1" r="0.66" fill="#9a8c8c"/>
<circle cx="352.43" cy="626.1" r="0.42" fill="#9a8c8c" opacity="0.6"/>
<circle cx="360.66" cy="626.1" r="0.42" fill="#9a8c8c" opacity="0.6"/>
<circle cx="368.89" cy="626.1" r="0.42" fill="#9a8c8c" opacity="0.6"/>
<circle cx="377.12" cy="626.1" r="0.42" fill="#9a8c8c" opacity="0.6"/>
<circle cx="385.34" cy="626.1" r="0.42" fill="#9a8c8c" opacity="0.6"/>
<circle cx="393.57" cy="626.1" r="0.66" fill="#9a8c8c"/>
<circle cx="401.8" cy="626.1" r="0.66" fill="#9a8c8c"/>
<circle cx="410.03" cy="626.1" r="0.66" fill="#6a95a3"/>
<circle cx="418.26" cy="626.1" r="0.42" fill="#9a8c8c" opacity="0.6"/>
<circle cx="426.49" cy="626.1" r="0.99" fill="#d4563c"/>
<circle cx="434.72" cy="626.1" r="1.32" fill="#d4563c"/>
<circle cx="442.95" cy="626.1" r="1.32" fill="#b96d5f"/>
<circle cx="451.18" cy="626.1" r="0.42" fill="#9a8c8c" opacity="0.6"/>
<circle cx="459.4" cy="626.1" r="0.42" fill="#9a8c8c" opacity="0.6"/>
<circle cx="467.63" cy="626.1" r="1.65" fill="#ec3a1f"/>
<circle cx="475.86" cy="626.1" r="0.42" fill="#9a8c8c" opacity="0.6"/>
<circle cx="484.09" cy="626.1" r="0.42" fill="#9a8c8c" opacity="0.6"/>
<circle cx="492.32" cy="626.1" r="0.42" fill="#9a8c8c" opacity="0.6"/>
<circle cx="500.55" cy="626.1" r="0.42" fill="#9a8c8c" opacity="0.6"/>
<circle cx="508.78" cy="626.1" r="0.99" fill="#b96d5f"/>
<circle cx="517.01" cy="626.1" r="2.64" fill="#d4563c"/>
<circle cx="525.24" cy="626.1" r="1.65" fill="#b96d5f"/>
<circle cx="533.47" cy="626.1" r="1.65" fill="#b96d5f"/>
<circle cx="541.69" cy="626.1" r="1.32" fill="#b96d5f"/>
<circle cx="549.92" cy="626.1" r="1.65" fill="#b96d5f"/>
<circle cx="561.4" cy="626.1" r="0.42" fill="#9a8c8c" opacity="0.6"/>
<circle cx="571.2" cy="626.1" r="0.42" fill="#9a8c8c" opacity="0.6"/>
<circle cx="580.8" cy="626.1" r="1.32" fill="#ec3a1f"/>
<circle cx="590.4" cy="626.1" r="0.42" fill="#9a8c8c" opacity="0.6"/>
<circle cx="600.1" cy="626.1" r="0.42" fill="#9a8c8c" opacity="0.6"/>
<circle cx="609.8" cy="626.1" r="1.32" fill="#ec3a1f"/>
<circle cx="619.5" cy="626.1" r="2.64" fill="#d4563c"/>
<path d="M89.1,635.4 V636.9" stroke="#333" stroke-width="0.6"/>
<text font-size="5.1" text-anchor="end" fill="#222" stroke="#222" stroke-width="0.18" transform="translate(90.9,638.4) rotate(-90)">CD1E</text>
<path d="M97.33,635.4 V636.9" stroke="#333" stroke-width="0.6"/>
<text font-size="5.1" text-anchor="end" fill="#222" stroke="#222" stroke-width="0.18" transform="translate(99.13,638.4) rotate(-90)">ARPP21</text>
<path d="M105.56,635.4 V636.9" stroke="#333" stroke-width="0.6"/>
<text font-size="5.1" text-anchor="end" fill="#222" stroke="#222" stroke-width="0.18" transform="translate(107.36,638.4) rotate(-90)">AL365440.2</text>
<path d="M113.79,635.4 V636.9" stroke="#333" stroke-width="0.6"/>
<text font-size="5.1" text-anchor="end" fill="#222" stroke="#222" stroke-width="0.18" transform="translate(115.59,638.4) rotate(-90)">ELOVL4</text>
<path d="M122.02,635.4 V636.9" stroke="#333" stroke-width="0.6"/>
<text font-size="5.1" text-anchor="end" fill="#222" stroke="#222" stroke-width="0.18" transform="translate(123.82,638.4) rotate(-90)">CD1C</text>
<path d="M130.25,635.4 V636.9" stroke="#333" stroke-width="0.6"/>
<text font-size="5.1" text-anchor="end" fill="#222" stroke="#222" stroke-width="0.18" transform="translate(132.05,638.4) rotate(-90)">MZB1</text>
<path d="M138.47,635.4 V636.9" stroke="#333" stroke-width="0.6"/>
<text font-size="5.1" text-anchor="end" fill="#222" stroke="#222" stroke-width="0.18" transform="translate(140.27,638.4) rotate(-90)">CD1B</text>
<path d="M146.7,635.4 V636.9" stroke="#333" stroke-width="0.6"/>
<text font-size="5.1" text-anchor="end" fill="#222" stroke="#222" stroke-width="0.18" transform="translate(148.5,638.4) rotate(-90)">CD1A</text>
<path d="M154.93,635.4 V636.9" stroke="#333" stroke-width="0.6"/>
<text font-size="5.1" text-anchor="end" fill="#222" stroke="#222" stroke-width="0.18" transform="translate(156.73,638.4) rotate(-90)">CYP2U1</text>
<path d="M163.16,635.4 V636.9" stroke="#333" stroke-width="0.6"/>
<text font-size="5.1" text-anchor="end" fill="#222" stroke="#222" stroke-width="0.18" transform="translate(164.96,638.4) rotate(-90)">CD8B</text>
<path d="M171.39,635.4 V636.9" stroke="#333" stroke-width="0.6"/>
<text font-size="5.1" text-anchor="end" fill="#222" stroke="#222" stroke-width="0.18" transform="translate(173.19,638.4) rotate(-90)">SATB1</text>
<path d="M179.62,635.4 V636.9" stroke="#333" stroke-width="0.6"/>
<text font-size="5.1" text-anchor="end" fill="#222" stroke="#222" stroke-width="0.18" transform="translate(181.42,638.4) rotate(-90)">ITM2A</text>
<path d="M187.85,635.4 V636.9" stroke="#333" stroke-width="0.6"/>
<text font-size="5.1" text-anchor="end" fill="#222" stroke="#222" stroke-width="0.18" transform="translate(189.65,638.4) rotate(-90)">ARMH1</text>
<path d="M196.08,635.4 V636.9" stroke="#333" stroke-width="0.6"/>
<text font-size="5.1" text-anchor="end" fill="#222" stroke="#222" stroke-width="0.18" transform="translate(197.88,638.4) rotate(-90)">CHI3L2</text>
<path d="M204.31,635.4 V636.9" stroke="#333" stroke-width="0.6"/>
<text font-size="5.1" text-anchor="end" fill="#222" stroke="#222" stroke-width="0.18" transform="translate(206.11,638.4) rotate(-90)">CCR7</text>
<path d="M212.53,635.4 V636.9" stroke="#333" stroke-width="0.6"/>
<text font-size="5.1" text-anchor="end" fill="#222" stroke="#222" stroke-width="0.18" transform="translate(214.33,638.4) rotate(-90)">TMSB10</text>
<path d="M220.76,635.4 V636.9" stroke="#333" stroke-width="0.6"/>
<text font-size="5.1" text-anchor="end" fill="#222" stroke="#222" stroke-width="0.18" transform="translate(222.56,638.4) rotate(-90)">CCL5</text>
<path d="M228.99,635.4 V636.9" stroke="#333" stroke-width="0.6"/>
<text font-size="5.1" text-anchor="end" fill="#e8262a" stroke="#e8262a" stroke-width="0.18" transform="translate(230.79,638.4) rotate(-90)">KLRB1</text>
<path d="M237.22,635.4 V636.9" stroke="#333" stroke-width="0.6"/>
<text font-size="5.1" text-anchor="end" fill="#222" stroke="#222" stroke-width="0.18" transform="translate(239.02,638.4) rotate(-90)">S100A4</text>
<path d="M245.45,635.4 V636.9" stroke="#333" stroke-width="0.6"/>
<text font-size="5.1" text-anchor="end" fill="#222" stroke="#222" stroke-width="0.18" transform="translate(247.25,638.4) rotate(-90)">CEBPD</text>
<path d="M253.68,635.4 V636.9" stroke="#333" stroke-width="0.6"/>
<text font-size="5.1" text-anchor="end" fill="#222" stroke="#222" stroke-width="0.18" transform="translate(255.48,638.4) rotate(-90)">GZMA</text>
<path d="M261.91,635.4 V636.9" stroke="#333" stroke-width="0.6"/>
<text font-size="5.1" text-anchor="end" fill="#222" stroke="#222" stroke-width="0.18" transform="translate(263.71,638.4) rotate(-90)">GZMK</text>
<path d="M270.14,635.4 V636.9" stroke="#333" stroke-width="0.6"/>
<text font-size="5.1" text-anchor="end" fill="#222" stroke="#222" stroke-width="0.18" transform="translate(271.94,638.4) rotate(-90)">NKG7</text>
<path d="M278.37,635.4 V636.9" stroke="#333" stroke-width="0.6"/>
<text font-size="5.1" text-anchor="end" fill="#222" stroke="#222" stroke-width="0.18" transform="translate(280.17,638.4) rotate(-90)">CST7</text>
<path d="M286.6,635.4 V636.9" stroke="#333" stroke-width="0.6"/>
<text font-size="5.1" text-anchor="end" fill="#222" stroke="#222" stroke-width="0.18" transform="translate(288.4,638.4) rotate(-90)">S100A6</text>
<path d="M294.82,635.4 V636.9" stroke="#333" stroke-width="0.6"/>
<text font-size="5.1" text-anchor="end" fill="#222" stroke="#222" stroke-width="0.18" transform="translate(296.62,638.4) rotate(-90)">CXCR6</text>
<path d="M303.05,635.4 V636.9" stroke="#333" stroke-width="0.6"/>
<text font-size="5.1" text-anchor="end" fill="#222" stroke="#222" stroke-width="0.18" transform="translate(304.85,638.4) rotate(-90)">AL627171.2</text>
<path d="M311.28,635.4 V636.9" stroke="#333" stroke-width="0.6"/>
<text font-size="5.1" text-anchor="end" fill="#222" stroke="#222" stroke-width="0.18" transform="translate(313.08,638.4) rotate(-90)">TC2N</text>
<path d="M319.51,635.4 V636.9" stroke="#333" stroke-width="0.6"/>
<text font-size="5.1" text-anchor="end" fill="#222" stroke="#222" stroke-width="0.18" transform="translate(321.31,638.4) rotate(-90)">GIMAP5</text>
<path d="M327.74,635.4 V636.9" stroke="#333" stroke-width="0.6"/>
<text font-size="5.1" text-anchor="end" fill="#222" stroke="#222" stroke-width="0.18" transform="translate(329.54,638.4) rotate(-90)">MT2A</text>
<path d="M335.97,635.4 V636.9" stroke="#333" stroke-width="0.6"/>
<text font-size="5.1" text-anchor="end" fill="#222" stroke="#222" stroke-width="0.18" transform="translate(337.77,638.4) rotate(-90)">ERN1</text>
<path d="M344.2,635.4 V636.9" stroke="#333" stroke-width="0.6"/>
<text font-size="5.1" text-anchor="end" fill="#222" stroke="#222" stroke-width="0.18" transform="translate(346,638.4) rotate(-90)">ISG15</text>
<path d="M352.43,635.4 V636.9" stroke="#333" stroke-width="0.6"/>
<text font-size="5.1" text-anchor="end" fill="#222" stroke="#222" stroke-width="0.18" transform="translate(354.23,638.4) rotate(-90)">MX1</text>
<path d="M360.66,635.4 V636.9" stroke="#333" stroke-width="0.6"/>
<text font-size="5.1" text-anchor="end" fill="#222" stroke="#222" stroke-width="0.18" transform="translate(362.46,638.4) rotate(-90)">OAS1</text>
<path d="M368.89,635.4 V636.9" stroke="#333" stroke-width="0.6"/>
<text font-size="5.1" text-anchor="end" fill="#222" stroke="#222" stroke-width="0.18" transform="translate(370.69,638.4) rotate(-90)">IFIT1</text>
<path d="M377.12,635.4 V636.9" stroke="#333" stroke-width="0.6"/>
<text font-size="5.1" text-anchor="end" fill="#222" stroke="#222" stroke-width="0.18" transform="translate(378.92,638.4) rotate(-90)">HERC5</text>
<path d="M385.34,635.4 V636.9" stroke="#333" stroke-width="0.6"/>
<text font-size="5.1" text-anchor="end" fill="#222" stroke="#222" stroke-width="0.18" transform="translate(387.14,638.4) rotate(-90)">IFI44L</text>
<path d="M393.57,635.4 V636.9" stroke="#333" stroke-width="0.6"/>
<text font-size="5.1" text-anchor="end" fill="#222" stroke="#222" stroke-width="0.18" transform="translate(395.37,638.4) rotate(-90)">IFI6</text>
<path d="M401.8,635.4 V636.9" stroke="#333" stroke-width="0.6"/>
<text font-size="5.1" text-anchor="end" fill="#222" stroke="#222" stroke-width="0.18" transform="translate(403.6,638.4) rotate(-90)">LY6E</text>
<path d="M410.03,635.4 V636.9" stroke="#333" stroke-width="0.6"/>
<text font-size="5.1" text-anchor="end" fill="#222" stroke="#222" stroke-width="0.18" transform="translate(411.83,638.4) rotate(-90)">IFITM1</text>
<path d="M418.26,635.4 V636.9" stroke="#333" stroke-width="0.6"/>
<text font-size="5.1" text-anchor="end" fill="#222" stroke="#222" stroke-width="0.18" transform="translate(420.06,638.4) rotate(-90)">BST2</text>
<path d="M426.49,635.4 V636.9" stroke="#333" stroke-width="0.6"/>
<text font-size="5.1" text-anchor="end" fill="#222" stroke="#222" stroke-width="0.18" transform="translate(428.29,638.4) rotate(-90)">SMC4</text>
<path d="M434.72,635.4 V636.9" stroke="#333" stroke-width="0.6"/>
<text font-size="5.1" text-anchor="end" fill="#222" stroke="#222" stroke-width="0.18" transform="translate(436.52,638.4) rotate(-90)">IKZF2</text>
<path d="M442.95,635.4 V636.9" stroke="#333" stroke-width="0.6"/>
<text font-size="5.1" text-anchor="end" fill="#222" stroke="#222" stroke-width="0.18" transform="translate(444.75,638.4) rotate(-90)">ITGA4</text>
<path d="M451.18,635.4 V636.9" stroke="#333" stroke-width="0.6"/>
<text font-size="5.1" text-anchor="end" fill="#222" stroke="#222" stroke-width="0.18" transform="translate(452.98,638.4) rotate(-90)">RTKN2</text>
<path d="M459.4,635.4 V636.9" stroke="#333" stroke-width="0.6"/>
<text font-size="5.1" text-anchor="end" fill="#222" stroke="#222" stroke-width="0.18" transform="translate(461.2,638.4) rotate(-90)">MME</text>
<path d="M467.63,635.4 V636.9" stroke="#333" stroke-width="0.6"/>
<text font-size="5.1" text-anchor="end" fill="#222" stroke="#222" stroke-width="0.18" transform="translate(469.43,638.4) rotate(-90)">SMPD3</text>
<path d="M475.86,635.4 V636.9" stroke="#333" stroke-width="0.6"/>
<text font-size="5.1" text-anchor="end" fill="#222" stroke="#222" stroke-width="0.18" transform="translate(477.66,638.4) rotate(-90)">TYMS</text>
<path d="M484.09,635.4 V636.9" stroke="#333" stroke-width="0.6"/>
<text font-size="5.1" text-anchor="end" fill="#222" stroke="#222" stroke-width="0.18" transform="translate(485.89,638.4) rotate(-90)">HIST1H1B</text>
<path d="M492.32,635.4 V636.9" stroke="#333" stroke-width="0.6"/>
<text font-size="5.1" text-anchor="end" fill="#222" stroke="#222" stroke-width="0.18" transform="translate(494.12,638.4) rotate(-90)">TOP2A</text>
<path d="M500.55,635.4 V636.9" stroke="#333" stroke-width="0.6"/>
<text font-size="5.1" text-anchor="end" fill="#222" stroke="#222" stroke-width="0.18" transform="translate(502.35,638.4) rotate(-90)">PCLAF</text>
<path d="M508.78,635.4 V636.9" stroke="#333" stroke-width="0.6"/>
<text font-size="5.1" text-anchor="end" fill="#222" stroke="#222" stroke-width="0.18" transform="translate(510.58,638.4) rotate(-90)">HMGB2</text>
<path d="M517.01,635.4 V636.9" stroke="#333" stroke-width="0.6"/>
<text font-size="5.1" text-anchor="end" fill="#222" stroke="#222" stroke-width="0.18" transform="translate(518.81,638.4) rotate(-90)">STMN1</text>
<path d="M525.24,635.4 V636.9" stroke="#333" stroke-width="0.6"/>
<text font-size="5.1" text-anchor="end" fill="#222" stroke="#222" stroke-width="0.18" transform="translate(527.04,638.4) rotate(-90)">HMGN2</text>
<path d="M533.47,635.4 V636.9" stroke="#333" stroke-width="0.6"/>
<text font-size="5.1" text-anchor="end" fill="#222" stroke="#222" stroke-width="0.18" transform="translate(535.27,638.4) rotate(-90)">TUBB</text>
<path d="M541.69,635.4 V636.9" stroke="#333" stroke-width="0.6"/>
<text font-size="5.1" text-anchor="end" fill="#222" stroke="#222" stroke-width="0.18" transform="translate(543.49,638.4) rotate(-90)">TUBA1B</text>
<path d="M549.92,635.4 V636.9" stroke="#333" stroke-width="0.6"/>
<text font-size="5.1" text-anchor="end" fill="#222" stroke="#222" stroke-width="0.18" transform="translate(551.72,638.4) rotate(-90)">HIST1H4C</text>
<path d="M561.4,635.4 V636.9" stroke="#333" stroke-width="0.6"/>
<text font-size="5.1" text-anchor="end" fill="#e8262a" stroke="#e8262a" stroke-width="0.18" transform="translate(563.2,638.4) rotate(-90)">ZBTB16</text>
<path d="M571.2,635.4 V636.9" stroke="#333" stroke-width="0.6"/>
<text font-size="5.1" text-anchor="end" fill="#e8262a" stroke="#e8262a" stroke-width="0.18" transform="translate(573,638.4) rotate(-90)">TBX21</text>
<path d="M580.8,635.4 V636.9" stroke="#333" stroke-width="0.6"/>
<text font-size="5.1" text-anchor="end" fill="#e8262a" stroke="#e8262a" stroke-width="0.18" transform="translate(582.6,638.4) rotate(-90)">RORC</text>
<path d="M590.4,635.4 V636.9" stroke="#333" stroke-width="0.6"/>
<text font-size="5.1" text-anchor="end" fill="#e8262a" stroke="#e8262a" stroke-width="0.18" transform="translate(592.2,638.4) rotate(-90)">MKI67</text>
<path d="M600.1,635.4 V636.9" stroke="#333" stroke-width="0.6"/>
<text font-size="5.1" text-anchor="end" fill="#e8262a" stroke="#e8262a" stroke-width="0.18" transform="translate(601.9,638.4) rotate(-90)">CD27</text>
<path d="M609.8,635.4 V636.9" stroke="#333" stroke-width="0.6"/>
<text font-size="5.1" text-anchor="end" fill="#e8262a" stroke="#e8262a" stroke-width="0.18" transform="translate(611.6,638.4) rotate(-90)">CD4</text>
<path d="M619.5,635.4 V636.9" stroke="#333" stroke-width="0.6"/>
<text font-size="5.1" text-anchor="end" fill="#e8262a" stroke="#e8262a" stroke-width="0.18" transform="translate(621.3,638.4) rotate(-90)">CD8A</text>
<text x="629.6" y="541.9" font-size="5.9" fill="#222">Percent Expressed</text>
<circle cx="633" cy="548.9" r="0.35" fill="#111"/>
<text x="639.3" y="550.9" font-size="5.6" fill="#222">0</text>
<circle cx="633" cy="555.5" r="1" fill="#111"/>
<text x="639.3" y="557.5" font-size="5.6" fill="#222">25</text>
<circle cx="633" cy="561.9" r="1.55" fill="#111"/>
<text x="639.3" y="563.9" font-size="5.6" fill="#222">50</text>
<circle cx="633" cy="568.4" r="2.2" fill="#111"/>
<text x="639.3" y="570.4" font-size="5.6" fill="#222">75</text>
<circle cx="633" cy="575.4" r="2.85" fill="#111"/>
<text x="639.3" y="577.4" font-size="5.6" fill="#222">100</text>
<text x="629.6" y="589.6" font-size="5.9" fill="#222">Average Expression</text>
<defs><linearGradient id="ave" x1="0" y1="0" x2="0" y2="1"><stop offset="0" stop-color="#f0321a"/><stop offset="0.45" stop-color="#b4685e"/><stop offset="0.7" stop-color="#948888"/><stop offset="1" stop-color="#5aa5b8"/></linearGradient></defs>
<rect x="629.6" y="592.8" width="6.3" height="32.5" fill="url(#ave)"/>
<text x="639.3" y="597.6" font-size="5.6" fill="#222">2</text>
<text x="639.3" y="605.6" font-size="5.6" fill="#222">1</text>
<text x="639.3" y="613.5" font-size="5.6" fill="#222">0</text>
<text x="639.3" y="621.6" font-size="5.6" fill="#222">-1</text>
<text x="6.1" y="698" font-size="11.5" font-weight="bold" fill="#000">f</text>
<path d="M135.7,705V811.5M149.3,705V811.5M162.9,705V811.5M176.5,705V811.5M190.1,705V811.5M203.7,705V811.5M217.3,705V811.5M230.9,705V811.5M244.5,705V811.5M258.1,705V811.5M271.7,705V811.5M285.3,705V811.5M298.9,705V811.5M312.5,705V811.5M326.1,705V811.5M339.7,705V811.5M353.3,705V811.5M366.9,705V811.5M380.5,705V811.5M394.1,705V811.5M407.7,705V811.5M421.3,705V811.5M434.9,705V811.5M448.5,705V811.5M462.1,705V811.5M475.7,705V811.5M489.3,705V811.5M502.9,705V811.5M516.5,705V811.5M530.1,705V811.5M543.7,705V811.5M557.3,705V811.5M570.9,705V811.5M584.5,705V811.5M598.1,705V811.5M127,714.6H607.3M127,729.3H607.3M127,744H607.3M127,758.6H607.3M127,773.3H607.3M127,787.9H607.3M127,802.5H607.3" stroke="#ececec" stroke-width="0.6" fill="none"/>
<circle cx="135.7" cy="714.6" r="3.45" fill="#d6c6ff"/>
<circle cx="149.3" cy="714.6" r="2.27" fill="#eae2ff"/>
<circle cx="162.9" cy="714.6" r="2.86" fill="#e4d8ff"/>
<circle cx="176.5" cy="714.6" r="1.48" fill="#ffffff"/>
<circle cx="190.1" cy="714.6" r="2.86" fill="#f8e5dc"/>
<circle cx="203.7" cy="714.6" r="3.45" fill="#a180ff"/>
<circle cx="217.3" cy="714.6" r="3.45" fill="#cdb9ff"/>
<circle cx="230.9" cy="714.6" r="2.76" fill="#eae2ff"/>
<circle cx="244.5" cy="714.6" r="3.45" fill="#d6c6ff"/>
<circle cx="258.1" cy="714.6" r="3.16" fill="#e4d8ff"/>
<circle cx="271.7" cy="714.6" r="3.65" fill="#f0b7a1"/>
<circle cx="285.3" cy="714.6" r="3.65" fill="#f2c4b0"/>
<circle cx="298.9" cy="714.6" r="3.65" fill="#f2c4b0"/>
<circle cx="312.5" cy="714.6" r="3.65" fill="#f2c4b0"/>
<circle cx="326.1" cy="714.6" r="3.65" fill="#f2c4b0"/>
<circle cx="339.7" cy="714.6" r="3.65" fill="#f4d0c0"/>
<circle cx="353.3" cy="714.6" r="3.65" fill="#cdb9ff"/>
<circle cx="366.9" cy="714.6" r="3.65" fill="#f4d0c0"/>
<circle cx="380.5" cy="714.6" r="3.65" fill="#f4d0c0"/>
<circle cx="394.1" cy="714.6" r="2.96" fill="#f8e5dc"/>
<circle cx="407.7" cy="714.6" r="3.65" fill="#eca289"/>
<circle cx="421.3" cy="714.6" r="3.65" fill="#f2c4b0"/>
<circle cx="434.9" cy="714.6" r="3.65" fill="#e87a60"/>
<circle cx="448.5" cy="714.6" r="3.65" fill="#eeaa92"/>
<circle cx="462.1" cy="714.6" r="3.65" fill="#e87a60"/>
<circle cx="475.7" cy="714.6" r="3.65" fill="#f45536"/>
<circle cx="489.3" cy="714.6" r="3.65" fill="#fc3a20"/>
<circle cx="502.9" cy="714.6" r="3.65" fill="#ec6d50"/>
<circle cx="516.5" cy="714.6" r="3.65" fill="#f06040"/>
<circle cx="530.1" cy="714.6" r="3.65" fill="#e87a60"/>
<circle cx="543.7" cy="714.6" r="3.65" fill="#ff1a0e"/>
<circle cx="557.3" cy="714.6" r="3.65" fill="#fc3a20"/>
<circle cx="570.9" cy="714.6" r="3.65" fill="#e98a6e"/>
<circle cx="584.5" cy="714.6" r="3.65" fill="#ea9277"/>
<circle cx="598.1" cy="714.6" r="3.65" fill="#ea9277"/>
<circle cx="135.7" cy="729.3" r="3.16" fill="#f6dccf"/>
<circle cx="149.3" cy="729.3" r="2.86" fill="#ddcfff"/>
<circle cx="162.9" cy="729.3" r="2.27" fill="#f1ebff"/>
<circle cx="176.5" cy="729.3" r="2.07" fill="#f4efff"/>
<circle cx="190.1" cy="729.3" r="2.27" fill="#f1ebff"/>
<circle cx="203.7" cy="729.3" r="3.65" fill="#f2c4b0"/>
<circle cx="217.3" cy="729.3" r="3.45" fill="#d6c6ff"/>
<circle cx="230.9" cy="729.3" r="3.16" fill="#e4d8ff"/>
<circle cx="244.5" cy="729.3" r="3.45" fill="#b89eff"/>
<circle cx="258.1" cy="729.3" r="2.96" fill="#eae2ff"/>
<circle cx="271.7" cy="729.3" r="3.65" fill="#eeaa92"/>
<circle cx="285.3" cy="729.3" r="3.65" fill="#ad8fff"/>
<circle cx="298.9" cy="729.3" r="3.65" fill="#f0b7a1"/>
<circle cx="312.5" cy="729.3" r="3.65" fill="#eeaa92"/>
<circle cx="326.1" cy="729.3" r="3.65" fill="#cdb9ff"/>
<circle cx="339.7" cy="729.3" r="3.65" fill="#d6c6ff"/>
<circle cx="353.3" cy="729.3" r="3.65" fill="#ddcfff"/>
<circle cx="366.9" cy="729.3" r="3.65" fill="#b89eff"/>
<circle cx="380.5" cy="729.3" r="3.65" fill="#f4d0c0"/>
<circle cx="394.1" cy="729.3" r="2.76" fill="#f8e5dc"/>
<circle cx="407.7" cy="729.3" r="3.65" fill="#eb9a80"/>
<circle cx="421.3" cy="729.3" r="3.65" fill="#f4d0c0"/>
<circle cx="434.9" cy="729.3" r="3.65" fill="#e88267"/>
<circle cx="448.5" cy="729.3" r="3.65" fill="#eca289"/>
<circle cx="462.1" cy="729.3" r="3.65" fill="#ec6d50"/>
<circle cx="475.7" cy="729.3" r="3.65" fill="#ff2a14"/>
<circle cx="489.3" cy="729.3" r="3.65" fill="#f45536"/>
<circle cx="502.9" cy="729.3" r="3.65" fill="#ec6d50"/>
<circle cx="516.5" cy="729.3" r="3.65" fill="#e87a60"/>
<circle cx="530.1" cy="729.3" r="3.65" fill="#e88267"/>
<circle cx="543.7" cy="729.3" r="3.65" fill="#ea9277"/>
<circle cx="557.3" cy="729.3" r="3.65" fill="#e98a6e"/>
<circle cx="570.9" cy="729.3" r="3.65" fill="#e87a60"/>
<circle cx="584.5" cy="729.3" r="3.65" fill="#e87a60"/>
<circle cx="598.1" cy="729.3" r="3.65" fill="#eb9a80"/>
<circle cx="135.7" cy="744" r="3.65" fill="#f0b7a1"/>
<circle cx="149.3" cy="744" r="2.07" fill="#fbeee8"/>
<circle cx="162.9" cy="744" r="1.48" fill="#ffffff"/>
<circle cx="176.5" cy="744" r="1.68" fill="#f8f5ff"/>
<circle cx="190.1" cy="744" r="2.96" fill="#f6dccf"/>
<circle cx="203.7" cy="744" r="3.65" fill="#eb9a80"/>
<circle cx="217.3" cy="744" r="3.65" fill="#f4d0c0"/>
<circle cx="230.9" cy="744" r="2.07" fill="#fbeee8"/>
<circle cx="244.5" cy="744" r="2.96" fill="#f8e5dc"/>
<circle cx="258.1" cy="744" r="2.96" fill="#eae2ff"/>
<circle cx="271.7" cy="744" r="3.65" fill="#ff2a14"/>
<circle cx="285.3" cy="744" r="3.65" fill="#e87a60"/>
<circle cx="298.9" cy="744" r="3.65" fill="#ea9277"/>
<circle cx="312.5" cy="744" r="3.65" fill="#f84a2c"/>
<circle cx="326.1" cy="744" r="3.65" fill="#eeaa92"/>
<circle cx="339.7" cy="744" r="3.65" fill="#f2c4b0"/>
<circle cx="353.3" cy="744" r="3.65" fill="#ea9277"/>
<circle cx="366.9" cy="744" r="3.65" fill="#f2c4b0"/>
<circle cx="380.5" cy="744" r="3.35" fill="#f6dccf"/>
<circle cx="394.1" cy="744" r="3.35" fill="#f6dccf"/>
<circle cx="407.7" cy="744" r="3.65" fill="#e98a6e"/>
<circle cx="421.3" cy="744" r="3.65" fill="#ea9277"/>
<circle cx="434.9" cy="744" r="3.65" fill="#eb9a80"/>
<circle cx="448.5" cy="744" r="3.65" fill="#eb9a80"/>
<circle cx="462.1" cy="744" r="3.65" fill="#f0b7a1"/>
<circle cx="475.7" cy="744" r="3.65" fill="#6a38ff"/>
<circle cx="489.3" cy="744" r="3.65" fill="#7e50ff"/>
<circle cx="502.9" cy="744" r="3.65" fill="#a180ff"/>
<circle cx="516.5" cy="744" r="3.65" fill="#ad8fff"/>
<circle cx="530.1" cy="744" r="3.65" fill="#ad8fff"/>
<circle cx="543.7" cy="744" r="3.65" fill="#7e50ff"/>
<circle cx="557.3" cy="744" r="3.65" fill="#7e50ff"/>
<circle cx="570.9" cy="744" r="3.65" fill="#b89eff"/>
<circle cx="584.5" cy="744" r="3.65" fill="#d6c6ff"/>
<circle cx="598.1" cy="744" r="3.65" fill="#f0b7a1"/>
<circle cx="135.7" cy="758.6" r="3.16" fill="#ddcfff"/>
<circle cx="149.3" cy="758.6" r="3.16" fill="#f4d0c0"/>
<circle cx="162.9" cy="758.6" r="2.07" fill="#fcf3ef"/>
<circle cx="176.5" cy="758.6" r="2.07" fill="#fcf3ef"/>
<circle cx="190.1" cy="758.6" r="2.86" fill="#e4d8ff"/>
<circle cx="203.7" cy="758.6" r="3.65" fill="#eeaa92"/>
<circle cx="217.3" cy="758.6" r="3.65" fill="#d6c6ff"/>
<circle cx="230.9" cy="758.6" r="2.96" fill="#f8e5dc"/>
<circle cx="244.5" cy="758.6" r="3.16" fill="#f6dccf"/>
<circle cx="258.1" cy="758.6" r="2.86" fill="#eae2ff"/>
<circle cx="271.7" cy="758.6" r="3.65" fill="#eb9a80"/>
<circle cx="285.3" cy="758.6" r="3.65" fill="#a180ff"/>
<circle cx="298.9" cy="758.6" r="3.65" fill="#c4acff"/>
<circle cx="312.5" cy="758.6" r="3.65" fill="#eeaa92"/>
<circle cx="326.1" cy="758.6" r="3.65" fill="#f2c4b0"/>
<circle cx="339.7" cy="758.6" r="3.65" fill="#f4d0c0"/>
<circle cx="353.3" cy="758.6" r="3.65" fill="#f4d0c0"/>
<circle cx="366.9" cy="758.6" r="3.35" fill="#f4d0c0"/>
<circle cx="380.5" cy="758.6" r="3.16" fill="#eae2ff"/>
<circle cx="394.1" cy="758.6" r="3.65" fill="#ddcfff"/>
<circle cx="407.7" cy="758.6" r="3.65" fill="#b89eff"/>
<circle cx="421.3" cy="758.6" r="3.65" fill="#cdb9ff"/>
<circle cx="434.9" cy="758.6" r="3.65" fill="#9570ff"/>
<circle cx="448.5" cy="758.6" r="3.65" fill="#b89eff"/>
<circle cx="462.1" cy="758.6" r="3.65" fill="#ad8fff"/>
<circle cx="475.7" cy="758.6" r="3.65" fill="#2c04f4"/>
<circle cx="489.3" cy="758.6" r="3.65" fill="#7444ff"/>
<circle cx="502.9" cy="758.6" r="3.65" fill="#7e50ff"/>
<circle cx="516.5" cy="758.6" r="3.65" fill="#7e50ff"/>
<circle cx="530.1" cy="758.6" r="3.65" fill="#6a38ff"/>
<circle cx="543.7" cy="758.6" r="3.65" fill="#3408f8"/>
<circle cx="557.3" cy="758.6" r="3.65" fill="#4214fc"/>
<circle cx="570.9" cy="758.6" r="3.65" fill="#9570ff"/>
<circle cx="584.5" cy="758.6" r="3.65" fill="#ad8fff"/>
<circle cx="598.1" cy="758.6" r="3.65" fill="#ad8fff"/>
<circle cx="135.7" cy="773.3" r="3.65" fill="#f0b7a1"/>
<circle cx="149.3" cy="773.3" r="2.56" fill="#fbeee8"/>
<circle cx="162.9" cy="773.3" r="1.68" fill="#fbf9ff"/>
<circle cx="176.5" cy="773.3" r="2.07" fill="#f4efff"/>
<circle cx="190.1" cy="773.3" r="2.86" fill="#f8e5dc"/>
<circle cx="203.7" cy="773.3" r="3.65" fill="#ea9277"/>
<circle cx="217.3" cy="773.3" r="3.65" fill="#f4d0c0"/>
<circle cx="230.9" cy="773.3" r="3.65" fill="#f6dccf"/>
<circle cx="244.5" cy="773.3" r="3.65" fill="#f4d0c0"/>
<circle cx="258.1" cy="773.3" r="2.86" fill="#eee7ff"/>
<circle cx="271.7" cy="773.3" r="3.65" fill="#e87a60"/>
<circle cx="285.3" cy="773.3" r="3.65" fill="#e87a60"/>
<circle cx="298.9" cy="773.3" r="3.65" fill="#e98a6e"/>
<circle cx="312.5" cy="773.3" r="3.65" fill="#ea9277"/>
<circle cx="326.1" cy="773.3" r="3.65" fill="#eb9a80"/>
<circle cx="339.7" cy="773.3" r="3.65" fill="#eca289"/>
<circle cx="353.3" cy="773.3" r="3.65" fill="#ea9277"/>
<circle cx="366.9" cy="773.3" r="3.65" fill="#eb9a80"/>
<circle cx="380.5" cy="773.3" r="2.96" fill="#eae2ff"/>
<circle cx="394.1" cy="773.3" r="3.16" fill="#f8e5dc"/>
<circle cx="407.7" cy="773.3" r="3.65" fill="#ea9277"/>
<circle cx="421.3" cy="773.3" r="3.65" fill="#eca289"/>
<circle cx="434.9" cy="773.3" r="3.65" fill="#eb9a80"/>
<circle cx="448.5" cy="773.3" r="3.65" fill="#ea9277"/>
<circle cx="462.1" cy="773.3" r="3.65" fill="#cdb9ff"/>
<circle cx="475.7" cy="773.3" r="3.65" fill="#7444ff"/>
<circle cx="489.3" cy="773.3" r="3.65" fill="#a180ff"/>
<circle cx="502.9" cy="773.3" r="3.65" fill="#ad8fff"/>
<circle cx="516.5" cy="773.3" r="3.65" fill="#eb9a80"/>
<circle cx="530.1" cy="773.3" r="3.65" fill="#7444ff"/>
<circle cx="543.7" cy="773.3" r="3.65" fill="#5020ff"/>
<circle cx="557.3" cy="773.3" r="3.65" fill="#5020ff"/>
<circle cx="570.9" cy="773.3" r="3.65" fill="#ad8fff"/>
<circle cx="584.5" cy="773.3" r="3.65" fill="#cdb9ff"/>
<circle cx="598.1" cy="773.3" r="3.65" fill="#eeaa92"/>
<circle cx="135.7" cy="787.9" r="3.65" fill="#c4acff"/>
<circle cx="149.3" cy="787.9" r="2.07" fill="#fcf3ef"/>
<circle cx="162.9" cy="787.9" r="2.86" fill="#f7e0d4"/>
<circle cx="176.5" cy="787.9" r="2.07" fill="#fcf1ed"/>
<circle cx="190.1" cy="787.9" r="2.56" fill="#f1ebff"/>
<circle cx="203.7" cy="787.9" r="3.65" fill="#f0b7a1"/>
<circle cx="217.3" cy="787.9" r="3.45" fill="#f6dccf"/>
<circle cx="230.9" cy="787.9" r="1.68" fill="#fdf6f4"/>
<circle cx="244.5" cy="787.9" r="3.45" fill="#ddcfff"/>
<circle cx="258.1" cy="787.9" r="3.45" fill="#ddcfff"/>
<circle cx="271.7" cy="787.9" r="3.65" fill="#6a38ff"/>
<circle cx="285.3" cy="787.9" r="3.65" fill="#9570ff"/>
<circle cx="298.9" cy="787.9" r="3.65" fill="#a180ff"/>
<circle cx="312.5" cy="787.9" r="3.65" fill="#7444ff"/>
<circle cx="326.1" cy="787.9" r="3.65" fill="#b89eff"/>
<circle cx="339.7" cy="787.9" r="3.65" fill="#c4acff"/>
<circle cx="353.3" cy="787.9" r="3.65" fill="#c4acff"/>
<circle cx="366.9" cy="787.9" r="3.65" fill="#cdb9ff"/>
<circle cx="380.5" cy="787.9" r="3.65" fill="#d6c6ff"/>
<circle cx="394.1" cy="787.9" r="3.65" fill="#ddcfff"/>
<circle cx="407.7" cy="787.9" r="3.65" fill="#8a60ff"/>
<circle cx="421.3" cy="787.9" r="3.65" fill="#b89eff"/>
<circle cx="434.9" cy="787.9" r="3.65" fill="#7444ff"/>
<circle cx="448.5" cy="787.9" r="3.65" fill="#a180ff"/>
<circle cx="462.1" cy="787.9" r="3.65" fill="#5d2cff"/>
<circle cx="475.7" cy="787.9" r="3.65" fill="#3408f8"/>
<circle cx="489.3" cy="787.9" r="3.65" fill="#4214fc"/>
<circle cx="502.9" cy="787.9" r="3.65" fill="#7444ff"/>
<circle cx="516.5" cy="787.9" r="3.65" fill="#5d2cff"/>
<circle cx="530.1" cy="787.9" r="3.65" fill="#5d2cff"/>
<circle cx="543.7" cy="787.9" r="3.65" fill="#3408f8"/>
<circle cx="557.3" cy="787.9" r="3.65" fill="#4214fc"/>
<circle cx="570.9" cy="787.9" r="3.65" fill="#7e50ff"/>
<circle cx="584.5" cy="787.9" r="3.65" fill="#8a60ff"/>
<circle cx="598.1" cy="787.9" r="3.65" fill="#a180ff"/>
<circle cx="135.7" cy="802.5" r="2.96" fill="#f8e5dc"/>
<circle cx="149.3" cy="802.5" r="2.56" fill="#fbeee8"/>
<circle cx="162.9" cy="802.5" r="2.27" fill="#fcf1ed"/>
<circle cx="176.5" cy="802.5" r="2.07" fill="#f4efff"/>
<circle cx="190.1" cy="802.5" r="2.56" fill="#eee7ff"/>
<circle cx="203.7" cy="802.5" r="3.65" fill="#a180ff"/>
<circle cx="217.3" cy="802.5" r="3.65" fill="#c4acff"/>
<circle cx="230.9" cy="802.5" r="3.65" fill="#ddcfff"/>
<circle cx="244.5" cy="802.5" r="3.65" fill="#c4acff"/>
<circle cx="258.1" cy="802.5" r="3.65" fill="#ddcfff"/>
<circle cx="271.7" cy="802.5" r="3.65" fill="#6a38ff"/>
<circle cx="285.3" cy="802.5" r="3.65" fill="#a180ff"/>
<circle cx="298.9" cy="802.5" r="3.65" fill="#7e50ff"/>
<circle cx="312.5" cy="802.5" r="3.65" fill="#7444ff"/>
<circle cx="326.1" cy="802.5" r="3.65" fill="#b89eff"/>
<circle cx="339.7" cy="802.5" r="3.65" fill="#c4acff"/>
<circle cx="353.3" cy="802.5" r="3.65" fill="#b89eff"/>
<circle cx="366.9" cy="802.5" r="3.65" fill="#cdb9ff"/>
<circle cx="380.5" cy="802.5" r="3.65" fill="#ddcfff"/>
<circle cx="394.1" cy="802.5" r="3.65" fill="#cdb9ff"/>
<circle cx="407.7" cy="802.5" r="3.65" fill="#a180ff"/>
<circle cx="421.3" cy="802.5" r="3.65" fill="#a180ff"/>
<circle cx="434.9" cy="802.5" r="3.65" fill="#5d2cff"/>
<circle cx="448.5" cy="802.5" r="3.65" fill="#a180ff"/>
<circle cx="462.1" cy="802.5" r="3.65" fill="#8a60ff"/>
<circle cx="475.7" cy="802.5" r="3.65" fill="#4214fc"/>
<circle cx="489.3" cy="802.5" r="3.65" fill="#2400f0"/>
<circle cx="502.9" cy="802.5" r="3.65" fill="#6a38ff"/>
<circle cx="516.5" cy="802.5" r="3.65" fill="#4214fc"/>
<circle cx="530.1" cy="802.5" r="3.65" fill="#7444ff"/>
<circle cx="543.7" cy="802.5" r="3.65" fill="#5020ff"/>
<circle cx="557.3" cy="802.5" r="3.65" fill="#5d2cff"/>
<circle cx="570.9" cy="802.5" r="3.65" fill="#8a60ff"/>
<circle cx="584.5" cy="802.5" r="3.65" fill="#8a60ff"/>
<circle cx="598.1" cy="802.5" r="3.65" fill="#a180ff"/>
<path d="M196.9,705V811.5M264.9,705V811.5M332.9,705V811.5M400.9,705V811.5M468.9,705V811.5M536.9,705V811.5" stroke="#111" stroke-width="1.2" fill="none"/>
<rect x="127" y="705" width="480.3" height="106.5" fill="none" stroke="#111" stroke-width="1.3"/>
<text x="117.1" y="718" font-size="7.7" text-anchor="end">Proliferating γδ T</text>
<path d="M123.8,714.6 H127" stroke="#111" stroke-width="1.1"/>
<text x="117.1" y="732.7" font-size="7.7" text-anchor="end">γδ T</text>
<path d="M123.8,729.3 H127" stroke="#111" stroke-width="1.1"/>
<text x="117.1" y="747.4" font-size="7.7" text-anchor="end">IFN-responsive</text>
<path d="M123.8,744 H127" stroke="#111" stroke-width="1.1"/>
<text x="117.1" y="762" font-size="7.7" text-anchor="end">Mat MAIT/iNKT(2)</text>
<path d="M123.8,758.6 H127" stroke="#111" stroke-width="1.1"/>
<text x="117.1" y="776.7" font-size="7.7" text-anchor="end">Mat MAIT/iNKT(1)</text>
<path d="M123.8,773.3 H127" stroke="#111" stroke-width="1.1"/>
<text x="117.1" y="791.3" font-size="7.7" text-anchor="end">Imm MAIT/iNKT</text>
<path d="M123.8,787.9 H127" stroke="#111" stroke-width="1.1"/>
<text x="117.1" y="805.9" font-size="7.7" text-anchor="end">Post-selection MAIT/iNKT</text>
<path d="M123.8,802.5 H127" stroke="#111" stroke-width="1.1"/>
<path d="M135.7,811.5 V814" stroke="#333" stroke-width="0.8"/>
<text font-size="6.5" text-anchor="end" fill="#111" stroke="#111" stroke-width="0.15" transform="translate(138,818.2) rotate(-90)">IL6 JAK STAT3 Signaling</text>
<path d="M149.3,811.5 V814" stroke="#333" stroke-width="0.8"/>
<text font-size="6.5" text-anchor="end" fill="#111" stroke="#111" stroke-width="0.15" transform="translate(151.6,818.2) rotate(-90)">Pancreas β cells</text>
<path d="M162.9,811.5 V814" stroke="#333" stroke-width="0.8"/>
<text font-size="6.5" text-anchor="end" fill="#111" stroke="#111" stroke-width="0.15" transform="translate(165.2,818.2) rotate(-90)">KRAS signaling down</text>
<path d="M176.5,811.5 V814" stroke="#333" stroke-width="0.8"/>
<text font-size="6.5" text-anchor="end" fill="#111" stroke="#111" stroke-width="0.15" transform="translate(178.8,818.2) rotate(-90)">Angiogenesis</text>
<path d="M190.1,811.5 V814" stroke="#333" stroke-width="0.8"/>
<text font-size="6.5" text-anchor="end" fill="#111" stroke="#111" stroke-width="0.15" transform="translate(192.4,818.2) rotate(-90)">Apical surface</text>
<path d="M203.7,811.5 V814" stroke="#333" stroke-width="0.8"/>
<text font-size="6.5" text-anchor="end" fill="#111" stroke="#111" stroke-width="0.15" transform="translate(206,818.2) rotate(-90)">Allograft rejection</text>
<path d="M217.3,811.5 V814" stroke="#333" stroke-width="0.8"/>
<text font-size="6.5" text-anchor="end" fill="#111" stroke="#111" stroke-width="0.15" transform="translate(219.6,818.2) rotate(-90)">KRAS signaling up</text>
<path d="M230.9,811.5 V814" stroke="#333" stroke-width="0.8"/>
<text font-size="6.5" text-anchor="end" fill="#111" stroke="#111" stroke-width="0.15" transform="translate(233.2,818.2) rotate(-90)">Coagulation</text>
<path d="M244.5,811.5 V814" stroke="#333" stroke-width="0.8"/>
<text font-size="6.5" text-anchor="end" fill="#111" stroke="#111" stroke-width="0.15" transform="translate(246.8,818.2) rotate(-90)">Epithelial mesenchymal transition</text>
<path d="M258.1,811.5 V814" stroke="#333" stroke-width="0.8"/>
<text font-size="6.5" text-anchor="end" fill="#111" stroke="#111" stroke-width="0.15" transform="translate(260.4,818.2) rotate(-90)">Hedgehog signaling</text>
<path d="M271.7,811.5 V814" stroke="#333" stroke-width="0.8"/>
<text font-size="6.5" text-anchor="end" fill="#111" stroke="#111" stroke-width="0.15" transform="translate(274,818.2) rotate(-90)">Interferon gamma response</text>
<path d="M285.3,811.5 V814" stroke="#333" stroke-width="0.8"/>
<text font-size="6.5" text-anchor="end" fill="#111" stroke="#111" stroke-width="0.15" transform="translate(287.6,818.2) rotate(-90)">TNFα signaling via NFκb</text>
<path d="M298.9,811.5 V814" stroke="#333" stroke-width="0.8"/>
<text font-size="6.5" text-anchor="end" fill="#111" stroke="#111" stroke-width="0.15" transform="translate(301.2,818.2) rotate(-90)">IL2 STAT5 signaling</text>
<path d="M312.5,811.5 V814" stroke="#333" stroke-width="0.8"/>
<text font-size="6.5" text-anchor="end" fill="#111" stroke="#111" stroke-width="0.15" transform="translate(314.8,818.2) rotate(-90)">Interferon alpha response</text>
<path d="M326.1,811.5 V814" stroke="#333" stroke-width="0.8"/>
<text font-size="6.5" text-anchor="end" fill="#111" stroke="#111" stroke-width="0.15" transform="translate(328.4,818.2) rotate(-90)">Hedgehog signaling</text>
<path d="M339.7,811.5 V814" stroke="#333" stroke-width="0.8"/>
<text font-size="6.5" text-anchor="end" fill="#111" stroke="#111" stroke-width="0.15" transform="translate(342,818.2) rotate(-90)">Estrogen response early</text>
<path d="M353.3,811.5 V814" stroke="#333" stroke-width="0.8"/>
<text font-size="6.5" text-anchor="end" fill="#111" stroke="#111" stroke-width="0.15" transform="translate(355.6,818.2) rotate(-90)">Inflammatory response</text>
<path d="M366.9,811.5 V814" stroke="#333" stroke-width="0.8"/>
<text font-size="6.5" text-anchor="end" fill="#111" stroke="#111" stroke-width="0.15" transform="translate(369.2,818.2) rotate(-90)">Estrogen response late</text>
<path d="M380.5,811.5 V814" stroke="#333" stroke-width="0.8"/>
<text font-size="6.5" text-anchor="end" fill="#111" stroke="#111" stroke-width="0.15" transform="translate(382.8,818.2) rotate(-90)">Notch signaling</text>
<path d="M394.1,811.5 V814" stroke="#333" stroke-width="0.8"/>
<text font-size="6.5" text-anchor="end" fill="#111" stroke="#111" stroke-width="0.15" transform="translate(396.4,818.2) rotate(-90)">Myogenesis</text>
<path d="M407.7,811.5 V814" stroke="#333" stroke-width="0.8"/>
<text font-size="6.5" text-anchor="end" fill="#111" stroke="#111" stroke-width="0.15" transform="translate(410,818.2) rotate(-90)">P53 pathway</text>
<path d="M421.3,811.5 V814" stroke="#333" stroke-width="0.8"/>
<text font-size="6.5" text-anchor="end" fill="#111" stroke="#111" stroke-width="0.15" transform="translate(423.6,818.2) rotate(-90)">Complement</text>
<path d="M434.9,811.5 V814" stroke="#333" stroke-width="0.8"/>
<text font-size="6.5" text-anchor="end" fill="#111" stroke="#111" stroke-width="0.15" transform="translate(437.2,818.2) rotate(-90)">Unfolded protein response</text>
<path d="M448.5,811.5 V814" stroke="#333" stroke-width="0.8"/>
<text font-size="6.5" text-anchor="end" fill="#111" stroke="#111" stroke-width="0.15" transform="translate(450.8,818.2) rotate(-90)">Apoptosis</text>
<path d="M462.1,811.5 V814" stroke="#333" stroke-width="0.8"/>
<text font-size="6.5" text-anchor="end" fill="#111" stroke="#111" stroke-width="0.15" transform="translate(464.4,818.2) rotate(-90)">Protein secretion</text>
<path d="M475.7,811.5 V814" stroke="#333" stroke-width="0.8"/>
<text font-size="6.5" text-anchor="end" fill="#111" stroke="#111" stroke-width="0.15" transform="translate(478,818.2) rotate(-90)">Oxidative phosphorylation</text>
<path d="M489.3,811.5 V814" stroke="#333" stroke-width="0.8"/>
<text font-size="6.5" text-anchor="end" fill="#111" stroke="#111" stroke-width="0.15" transform="translate(491.6,818.2) rotate(-90)">MYC targets V1</text>
<path d="M502.9,811.5 V814" stroke="#333" stroke-width="0.8"/>
<text font-size="6.5" text-anchor="end" fill="#111" stroke="#111" stroke-width="0.15" transform="translate(505.2,818.2) rotate(-90)">DNA repair</text>
<path d="M516.5,811.5 V814" stroke="#333" stroke-width="0.8"/>
<text font-size="6.5" text-anchor="end" fill="#111" stroke="#111" stroke-width="0.15" transform="translate(518.8,818.2) rotate(-90)">MTORC1 signaling</text>
<path d="M530.1,811.5 V814" stroke="#333" stroke-width="0.8"/>
<text font-size="6.5" text-anchor="end" fill="#111" stroke="#111" stroke-width="0.15" transform="translate(532.4,818.2) rotate(-90)">Mitotic spindle</text>
<path d="M543.7,811.5 V814" stroke="#333" stroke-width="0.8"/>
<text font-size="6.5" text-anchor="end" fill="#111" stroke="#111" stroke-width="0.15" transform="translate(546,818.2) rotate(-90)">E2F targets</text>
<path d="M557.3,811.5 V814" stroke="#333" stroke-width="0.8"/>
<text font-size="6.5" text-anchor="end" fill="#111" stroke="#111" stroke-width="0.15" transform="translate(559.6,818.2) rotate(-90)">G2M checkpoint</text>
<path d="M570.9,811.5 V814" stroke="#333" stroke-width="0.8"/>
<text font-size="6.5" text-anchor="end" fill="#111" stroke="#111" stroke-width="0.15" transform="translate(573.2,818.2) rotate(-90)">Adipogenesis</text>
<path d="M584.5,811.5 V814" stroke="#333" stroke-width="0.8"/>
<text font-size="6.5" text-anchor="end" fill="#111" stroke="#111" stroke-width="0.15" transform="translate(586.8,818.2) rotate(-90)">Fatty acid metabolism</text>
<path d="M598.1,811.5 V814" stroke="#333" stroke-width="0.8"/>
<text font-size="6.5" text-anchor="end" fill="#111" stroke="#111" stroke-width="0.15" transform="translate(600.4,818.2) rotate(-90)">MYC targets V2</text>
<text x="615.3" y="710.8" font-size="6.6" fill="#222">NES</text>
<defs><linearGradient id="nes" x1="0" y1="0" x2="0" y2="1"><stop offset="0" stop-color="#ff180c"/><stop offset="0.05" stop-color="#ff2512"/><stop offset="0.1" stop-color="#f94428"/><stop offset="0.15" stop-color="#f15e3f"/><stop offset="0.2" stop-color="#e87b61"/><stop offset="0.25" stop-color="#e98c71"/><stop offset="0.3" stop-color="#ec9e85"/><stop offset="0.35" stop-color="#efb49d"/><stop offset="0.4" stop-color="#f4d0bf"/><stop offset="0.45" stop-color="#f9e7de"/><stop offset="0.5" stop-color="#fefaf8"/><stop offset="0.55" stop-color="#f4efff"/><stop offset="0.6" stop-color="#e5daff"/><stop offset="0.65" stop-color="#d5c5ff"/><stop offset="0.7" stop-color="#c1a8ff"/><stop offset="0.75" stop-color="#a787ff"/><stop offset="0.8" stop-color="#8d64ff"/><stop offset="0.85" stop-color="#7545ff"/><stop offset="0.9" stop-color="#5b2aff"/><stop offset="0.95" stop-color="#3d0ffa"/><stop offset="1" stop-color="#2702f2"/></linearGradient></defs>
<rect x="617.1" y="714.2" width="9.1" height="47.5" fill="url(#nes)"/>
<text x="629.5" y="719" font-size="5" fill="#222">10</text>
<text x="629.5" y="729.6" font-size="5" fill="#222">5</text>
<text x="629.5" y="740.2" font-size="5" fill="#222">0</text>
<text x="629.5" y="751.1" font-size="5" fill="#222">-5</text>
<text x="629.5" y="761.8" font-size="5" fill="#222">-10</text>
<text x="617" y="779.4" font-size="6.1" fill="#222">-log10(padj)</text>
<circle cx="621.6" cy="788" r="2" fill="#000"/>
<text x="629.3" y="789.8" font-size="5" fill="#222">0.5</text>
<circle cx="621.6" cy="797.5" r="2.5" fill="#000"/>
<text x="629.3" y="799.3" font-size="5" fill="#222">1.0</text>
<circle cx="621.6" cy="807" r="2.95" fill="#000"/>
<text x="629.3" y="808.8" font-size="5" fill="#222">1.5</text>
<circle cx="621.6" cy="816.5" r="3.4" fill="#000"/>
<text x="629.3" y="818.3" font-size="5" fill="#222">2.0</text>
<circle cx="621.6" cy="826.2" r="3.85" fill="#000"/>
<text x="629.3" y="828" font-size="5" fill="#222">2.5</text>
</svg></body></html>
